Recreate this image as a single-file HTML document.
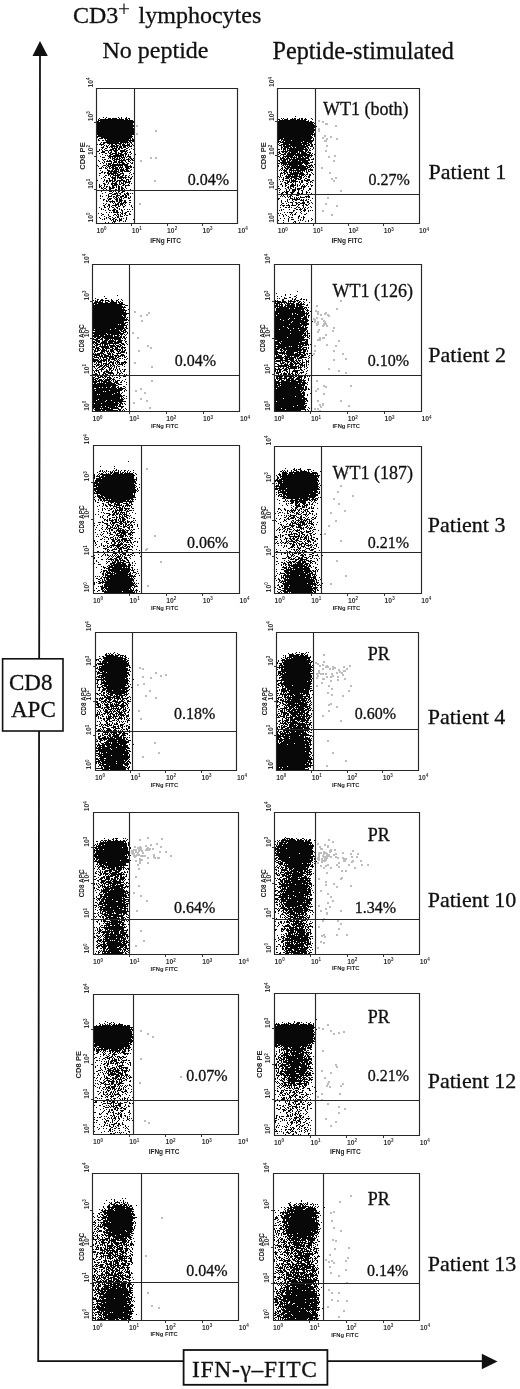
<!DOCTYPE html><html><head><meta charset="utf-8"><title>CD3+ lymphocytes</title><style>html,body{margin:0;padding:0;background:#fff;width:520px;height:1389px;overflow:hidden}svg{display:block;will-change:transform}</style></head><body><svg width="520" height="1389" viewBox="0 0 520 1389">
<rect width="520" height="1389" fill="#fff"/>
<path d="M40 55L38.2 1361.2H482" stroke="#111" stroke-width="1.8" fill="none"/>
<path d="M40 41L32.5 56H47.8Z" fill="#111"/>
<path d="M497.5 1361.5L481.8 1353.8V1369.2Z" fill="#111"/>
<rect x="2.6" y="658.8" width="60.4" height="72.2" fill="#fff" stroke="#111" stroke-width="1.6"/>
<rect x="183.6" y="1350" width="143.8" height="34.8" fill="#fff" stroke="#111" stroke-width="1.8"/>
<text x="9" y="690" style="font-family:'Liberation Serif',serif;stroke:#111;stroke-width:0.3px;font-size:23px" fill="#111">CD8</text>
<text x="11" y="716.5" style="font-family:'Liberation Serif',serif;stroke:#111;stroke-width:0.3px;font-size:23px" fill="#111">APC</text>
<text x="192" y="1377" textLength="125" lengthAdjust="spacing" style="font-family:'Liberation Serif',serif;stroke:#111;stroke-width:0.3px;font-size:23.5px" fill="#111">IFN-γ–FITC</text>
<text x="73" y="22.8" style="font-family:'Liberation Serif',serif;stroke:#111;stroke-width:0.3px;font-size:24px" fill="#111">CD3</text>
<path d="M119 8.7H129M124 3.4V13.9" stroke="#111" stroke-width="1.15"/>
<text x="138.6" y="22.8" style="font-family:'Liberation Serif',serif;stroke:#111;stroke-width:0.3px;font-size:24px" fill="#111">lymphocytes</text>
<text x="102.5" y="58.4" style="font-family:'Liberation Serif',serif;stroke:#111;stroke-width:0.3px;font-size:24px" fill="#111">No peptide</text>
<text x="272.5" y="59.3" style="font-family:'Liberation Serif',serif;stroke:#111;stroke-width:0.3px;font-size:24.2px" fill="#111">Peptide-stimulated</text>
<text x="428.6" y="179.0" style="font-family:'Liberation Serif',serif;stroke:#111;stroke-width:0.3px;font-size:22px" fill="#111">Patient 1</text>
<text x="428.3" y="362.3" style="font-family:'Liberation Serif',serif;stroke:#111;stroke-width:0.3px;font-size:22px" fill="#111">Patient 2</text>
<text x="427.8" y="532.3" style="font-family:'Liberation Serif',serif;stroke:#111;stroke-width:0.3px;font-size:22px" fill="#111">Patient 3</text>
<text x="427.7" y="724.0" style="font-family:'Liberation Serif',serif;stroke:#111;stroke-width:0.3px;font-size:22px" fill="#111">Patient 4</text>
<text x="427.7" y="907.4" style="font-family:'Liberation Serif',serif;stroke:#111;stroke-width:0.3px;font-size:22px" fill="#111">Patient 10</text>
<text x="427.7" y="1087.7" style="font-family:'Liberation Serif',serif;stroke:#111;stroke-width:0.3px;font-size:22px" fill="#111">Patient 12</text>
<text x="427.7" y="1271.0" style="font-family:'Liberation Serif',serif;stroke:#111;stroke-width:0.3px;font-size:22px" fill="#111">Patient 13</text>
<path d="M103 117h1v1h-1zm3 0h1v1h-1zm12 0h1v1h-1zm3 0h1v1h-1zm5 0h1v1h-1zm-27 1h1v1h-1zm6 0h1v1h-1zm3 0h3v1h-3zm4 0h5v1h-5zm7 0h1v1h-1zm2 0h1v1h-1zm4 0h2v1h-2zm3 0h2v1h-2zm-30 1h1v1h-1zm2 0h24v1h-24zm25 0h3v1h-3zm4 0h1v1h-1zm-31 1h35v1h-35zm-1 1h2v1h-2zm3 0h34v1h-34zm-3 1h37v1h-37zm0 1h36v1h-36zm0 1h36v1h-36zm0 1h37v1h-37zm0 1h38v1h-38zm0 1h36v1h-36zm0 1h38v1h-38zm0 1h37v1h-37zm0 1h37v1h-37zm0 1h37v1h-37zm0 1h37v1h-37zm0 1h37v1h-37zm0 1h37v1h-37zm1 1h34v1h-34zm-1 1h36v1h-36zm0 1h1v1h-1zm4 0h31v1h-31zm-2 1h4v1h-4zm5 0h27v1h-27zm28 0h1v1h-1zm-34 1h1v1h-1zm7 0h1v1h-1zm2 0h22v1h-22zm23 0h1v1h-1zm2 0h2v1h-2zm-34 1h2v1h-2zm4 0h2v1h-2zm3 0h29v1h-29zm1 1h22v1h-22zm23 0h2v1h-2zm3 0h2v1h-2zm-31 1h1v1h-1zm2 0h16v1h-16zm17 0h9v1h-9zm10 0h2v1h-2zm-30 1h1v1h-1zm3 0h2v1h-2zm4 0h15v1h-15zm16 0h1v1h-1zm2 0h1v1h-1zm2 0h1v1h-1zm2 0h1v1h-1zm2 0h1v1h-1zm-34 1h1v1h-1zm2 0h5v1h-5zm10 0h1v1h-1zm2 0h2v1h-2zm4 0h2v1h-2zm4 0h2v1h-2zm3 0h3v1h-3zm5 0h3v1h-3zm5 0h1v1h-1zm-31 1h1v1h-1zm3 0h1v1h-1zm2 0h1v1h-1zm2 0h1v1h-1zm3 0h4v1h-4zm5 0h3v1h-3zm4 0h1v1h-1zm2 0h8v1h-8zm9 0h1v1h-1zm2 0h1v1h-1zm-30 1h1v1h-1zm3 0h2v1h-2zm4 0h8v1h-8zm9 0h3v1h-3zm4 0h3v1h-3zm4 0h1v1h-1zm2 0h3v1h-3zm-28 1h3v1h-3zm6 0h1v1h-1zm2 0h1v1h-1zm2 0h2v1h-2zm3 0h1v1h-1zm2 0h2v1h-2zm3 0h3v1h-3zm4 0h3v1h-3zm5 0h1v1h-1zm-26 1h1v1h-1zm3 0h2v1h-2zm7 0h5v1h-5zm6 0h2v1h-2zm3 0h2v1h-2zm5 0h2v1h-2zm5 0h1v1h-1zm-32 1h1v1h-1zm2 0h1v1h-1zm3 0h1v1h-1zm6 0h4v1h-4zm5 0h2v1h-2zm3 0h2v1h-2zm6 0h2v1h-2zm5 0h1v1h-1zm4 0h1v1h-1zm-34 1h1v1h-1zm3 0h1v1h-1zm3 0h3v1h-3zm4 0h3v1h-3zm4 0h5v1h-5zm7 0h5v1h-5zm6 0h2v1h-2zm-29 1h2v1h-2zm5 0h3v1h-3zm6 0h1v1h-1zm3 0h1v1h-1zm3 0h3v1h-3zm6 0h7v1h-7zm10 0h1v1h-1zm-29 1h4v1h-4zm7 0h1v1h-1zm2 0h2v1h-2zm5 0h2v1h-2zm3 0h1v1h-1zm3 0h2v1h-2zm4 0h1v1h-1zm2 0h1v1h-1zm2 0h2v1h-2zm-30 1h1v1h-1zm6 0h2v1h-2zm4 0h2v1h-2zm3 0h5v1h-5zm6 0h4v1h-4zm6 0h3v1h-3zm7 0h1v1h-1zm-29 1h1v1h-1zm8 0h3v1h-3zm5 0h4v1h-4zm5 0h4v1h-4zm5 0h2v1h-2zm3 0h1v1h-1zm2 0h1v1h-1zm5 0h1v1h-1zm-30 1h1v1h-1zm2 0h1v1h-1zm2 0h2v1h-2zm4 0h11v1h-11zm12 0h1v1h-1zm3 0h1v1h-1zm-28 1h1v1h-1zm8 0h14v1h-14zm15 0h1v1h-1zm2 0h1v1h-1zm2 0h4v1h-4zm-25 1h3v1h-3zm7 0h2v1h-2zm3 0h1v1h-1zm2 0h2v1h-2zm3 0h1v1h-1zm2 0h1v1h-1zm2 0h4v1h-4zm5 0h1v1h-1zm3 0h2v1h-2zm-21 1h1v1h-1zm2 0h1v1h-1zm2 0h3v1h-3zm4 0h2v1h-2zm3 0h2v1h-2zm3 0h1v1h-1zm2 0h1v1h-1zm4 0h1v1h-1zm2 0h2v1h-2zm3 0h1v1h-1zm-31 1h1v1h-1zm2 0h2v1h-2zm8 0h1v1h-1zm2 0h6v1h-6zm7 0h1v1h-1zm2 0h2v1h-2zm3 0h4v1h-4zm5 0h2v1h-2zm-33 1h1v1h-1zm5 0h1v1h-1zm4 0h1v1h-1zm2 0h2v1h-2zm4 0h2v1h-2zm3 0h1v1h-1zm3 0h7v1h-7zm9 0h1v1h-1zm2 0h1v1h-1zm2 0h2v1h-2zm-33 1h1v1h-1zm5 0h1v1h-1zm2 0h6v1h-6zm8 0h3v1h-3zm4 0h2v1h-2zm3 0h2v1h-2zm4 0h1v1h-1zm3 0h2v1h-2zm-26 1h1v1h-1zm2 0h1v1h-1zm7 0h1v1h-1zm2 0h4v1h-4zm5 0h6v1h-6zm8 0h1v1h-1zm4 0h1v1h-1zm2 0h1v1h-1zm-32 1h1v1h-1zm3 0h1v1h-1zm3 0h1v1h-1zm2 0h4v1h-4zm5 0h1v1h-1zm4 0h1v1h-1zm2 0h1v1h-1zm3 0h3v1h-3zm5 0h2v1h-2zm4 0h2v1h-2zm-25 1h1v1h-1zm2 0h3v1h-3zm4 0h16v1h-16zm-15 1h1v1h-1zm6 0h3v1h-3zm4 0h2v1h-2zm3 0h13v1h-13zm14 0h4v1h-4zm6 0h1v1h-1zm-32 1h1v1h-1zm4 0h1v1h-1zm4 0h1v1h-1zm2 0h3v1h-3zm4 0h4v1h-4zm6 0h1v1h-1zm2 0h1v1h-1zm2 0h1v1h-1zm3 0h7v1h-7zm-24 1h1v1h-1zm2 0h1v1h-1zm2 0h1v1h-1zm2 0h1v1h-1zm2 0h1v1h-1zm2 0h3v1h-3zm4 0h3v1h-3zm4 0h4v1h-4zm6 0h4v1h-4zm5 0h2v1h-2zm3 0h1v1h-1zm-34 1h3v1h-3zm6 0h2v1h-2zm4 0h2v1h-2zm3 0h6v1h-6zm7 0h1v1h-1zm2 0h1v1h-1zm2 0h1v1h-1zm3 0h4v1h-4zm-19 1h1v1h-1zm5 0h2v1h-2zm3 0h4v1h-4zm5 0h4v1h-4zm5 0h3v1h-3zm6 0h1v1h-1zm-31 1h1v1h-1zm7 0h3v1h-3zm4 0h2v1h-2zm3 0h3v1h-3zm4 0h1v1h-1zm2 0h5v1h-5zm6 0h3v1h-3zm4 0h1v1h-1zm-28 1h1v1h-1zm6 0h11v1h-11zm12 0h3v1h-3zm4 0h6v1h-6zm-23 1h2v1h-2zm3 0h2v1h-2zm3 0h2v1h-2zm3 0h2v1h-2zm3 0h4v1h-4zm5 0h2v1h-2zm4 0h1v1h-1zm8 0h1v1h-1zm-31 1h2v1h-2zm5 0h1v1h-1zm3 0h11v1h-11zm13 0h4v1h-4zm9 0h1v1h-1zm4 0h1v1h-1zm-25 1h2v1h-2zm3 0h3v1h-3zm4 0h1v1h-1zm2 0h4v1h-4zm6 0h1v1h-1zm8 0h1v1h-1zm-32 1h1v1h-1zm6 0h2v1h-2zm3 0h1v1h-1zm2 0h1v1h-1zm3 0h7v1h-7zm9 0h2v1h-2zm3 0h2v1h-2zm4 0h1v1h-1zm-25 1h1v1h-1zm6 0h1v1h-1zm2 0h1v1h-1zm3 0h1v1h-1zm2 0h2v1h-2zm3 0h3v1h-3zm5 0h1v1h-1zm3 0h1v1h-1zm4 0h1v1h-1zm-29 1h1v1h-1zm2 0h1v1h-1zm6 0h5v1h-5zm6 0h10v1h-10zm11 0h2v1h-2zm3 0h1v1h-1zm-30 1h1v1h-1zm7 0h2v1h-2zm4 0h4v1h-4zm5 0h1v1h-1zm2 0h3v1h-3zm4 0h1v1h-1zm2 0h1v1h-1zm5 0h2v1h-2zm-26 1h1v1h-1zm5 0h1v1h-1zm3 0h1v1h-1zm2 0h2v1h-2zm7 0h2v1h-2zm5 0h3v1h-3zm4 0h1v1h-1zm-33 1h1v1h-1zm7 0h1v1h-1zm2 0h2v1h-2zm3 0h4v1h-4zm5 0h2v1h-2zm3 0h8v1h-8zm9 0h1v1h-1zm2 0h1v1h-1zm-25 1h1v1h-1zm3 0h2v1h-2zm3 0h2v1h-2zm3 0h3v1h-3zm4 0h2v1h-2zm3 0h2v1h-2zm4 0h4v1h-4zm5 0h3v1h-3zm-22 1h1v1h-1zm2 0h1v1h-1zm4 0h1v1h-1zm3 0h2v1h-2zm4 0h1v1h-1zm2 0h1v1h-1zm2 0h1v1h-1zm2 0h5v1h-5zm-22 1h2v1h-2zm5 0h1v1h-1zm3 0h6v1h-6zm8 0h1v1h-1zm2 0h3v1h-3zm4 0h1v1h-1zm4 0h1v1h-1zm2 0h1v1h-1zm-32 1h1v1h-1zm5 0h2v1h-2zm3 0h1v1h-1zm4 0h2v1h-2zm3 0h4v1h-4zm5 0h2v1h-2zm4 0h2v1h-2zm5 0h1v1h-1zm-29 1h1v1h-1zm2 0h1v1h-1zm3 0h1v1h-1zm8 0h5v1h-5zm6 0h1v1h-1zm4 0h2v1h-2zm3 0h5v1h-5zm-26 1h2v1h-2zm5 0h1v1h-1zm2 0h2v1h-2zm3 0h1v1h-1zm3 0h2v1h-2zm4 0h1v1h-1zm2 0h2v1h-2zm3 0h1v1h-1zm4 0h1v1h-1zm-26 1h1v1h-1zm2 0h1v1h-1zm2 0h1v1h-1zm3 0h1v1h-1zm3 0h2v1h-2zm3 0h3v1h-3zm4 0h1v1h-1zm2 0h2v1h-2zm3 0h2v1h-2zm4 0h1v1h-1zm-24 1h2v1h-2zm3 0h2v1h-2zm5 0h5v1h-5zm9 0h2v1h-2zm3 0h3v1h-3zm5 0h1v1h-1zm-23 1h1v1h-1zm3 0h1v1h-1zm3 0h2v1h-2zm6 0h2v1h-2zm3 0h2v1h-2zm3 0h2v1h-2zm3 0h1v1h-1zm6 0h1v1h-1zm-33 1h1v1h-1zm9 0h3v1h-3zm7 0h5v1h-5zm8 0h1v1h-1zm2 0h3v1h-3zm4 0h1v1h-1zm2 0h1v1h-1zm3 0h1v1h-1zm-31 1h1v1h-1zm8 0h3v1h-3zm4 0h1v1h-1zm2 0h1v1h-1zm3 0h2v1h-2zm4 0h3v1h-3zm-17 1h1v1h-1zm7 0h1v1h-1zm4 0h1v1h-1zm2 0h1v1h-1zm3 0h2v1h-2zm6 0h1v1h-1zm-25 1h1v1h-1zm7 0h3v1h-3zm5 0h4v1h-4zm5 0h2v1h-2zm5 0h1v1h-1zm2 0h3v1h-3zm4 0h1v1h-1zm2 0h1v1h-1zm-24 1h1v1h-1zm4 0h4v1h-4zm5 0h1v1h-1zm3 0h1v1h-1zm4 0h2v1h-2zm3 0h2v1h-2zm-27 1h1v1h-1zm6 0h1v1h-1zm2 0h1v1h-1zm3 0h1v1h-1zm5 0h4v1h-4zm6 0h2v1h-2zm3 0h2v1h-2zm3 0h1v1h-1zm-28 1h1v1h-1zm2 0h1v1h-1zm6 0h4v1h-4zm5 0h2v1h-2zm3 0h2v1h-2zm4 0h4v1h-4zm5 0h2v1h-2zm5 0h1v1h-1zm-22 1h1v1h-1zm5 0h1v1h-1zm2 0h2v1h-2zm3 0h1v1h-1zm2 0h2v1h-2zm4 0h3v1h-3zm4 0h1v1h-1zm2 0h1v1h-1zm-30 1h1v1h-1zm7 0h1v1h-1zm2 0h3v1h-3zm5 0h1v1h-1zm2 0h2v1h-2zm3 0h1v1h-1zm2 0h1v1h-1zm2 0h1v1h-1zm5 0h2v1h-2zm-25 1h2v1h-2zm5 0h3v1h-3zm7 0h3v1h-3zm4 0h3v1h-3zm-16 1h1v1h-1zm3 0h1v1h-1zm2 0h1v1h-1zm4 0h1v1h-1zm4 0h2v1h-2zm3 0h4v1h-4zm5 0h2v1h-2zm5 0h2v1h-2zm-23 1h2v1h-2zm3 0h6v1h-6zm7 0h2v1h-2zm3 0h3v1h-3zm5 0h2v1h-2zm-14 1h1v1h-1zm2 0h1v1h-1zm2 0h1v1h-1zm4 0h2v1h-2zm3 0h1v1h-1zm2 0h4v1h-4zm6 0h2v1h-2zm-26 1h1v1h-1zm3 0h1v1h-1zm7 0h1v1h-1zm2 0h1v1h-1zm2 0h2v1h-2zm3 0h4v1h-4zm5 0h1v1h-1zm-20 1h1v1h-1zm3 0h2v1h-2zm7 0h4v1h-4zm5 0h3v1h-3zm4 0h1v1h-1zm5 0h1v1h-1zm-26 1h2v1h-2zm5 0h2v1h-2zm4 0h5v1h-5zm6 0h1v1h-1zm2 0h1v1h-1zm2 0h1v1h-1zm3 0h1v1h-1zm6 0h1v1h-1zm-27 1h1v1h-1zm3 0h1v1h-1zm2 0h1v1h-1zm2 0h1v1h-1zm4 0h1v1h-1zm3 0h2v1h-2zm5 0h2v1h-2zm8 0h1v1h-1zm-32 1h1v1h-1zm5 0h2v1h-2zm5 0h1v1h-1zm3 0h2v1h-2zm4 0h2v1h-2zm7 0h1v1h-1zm9 0h1v1h-1zm-31 1h1v1h-1zm7 0h1v1h-1zm6 0h1v1h-1zm3 0h1v1h-1zm2 0h1v1h-1zm-18 1h1v1h-1zm2 0h1v1h-1zm5 0h1v1h-1zm5 0h3v1h-3zm6 0h1v1h-1zm2 0h1v1h-1zm3 0h1v1h-1zm3 0h1v1h-1zm2 0h1v1h-1zm3 0h1v1h-1zm-27 1h1v1h-1zm4 0h2v1h-2zm3 0h3v1h-3zm4 0h2v1h-2zm5 0h2v1h-2zm-8 1h2v1h-2zm3 0h2v1h-2zm6 0h1v1h-1zm5 0h2v1h-2zm3 0h1v1h-1zm-24 1h1v1h-1zm3 0h1v1h-1zm2 0h1v1h-1zm2 0h6v1h-6zm7 0h1v1h-1zm2 0h1v1h-1zm3 0h2v1h-2zm-27 1h1v1h-1zm3 0h1v1h-1zm16 0h1v1h-1zm4 0h2v1h-2zm3 0h2v1h-2zm5 0h1v1h-1zm-27 1h2v1h-2zm6 0h1v1h-1zm6 0h2v1h-2zm3 0h2v1h-2zm3 0h1v1h-1zm2 0h1v1h-1zm3 0h1v1h-1zm4 0h2v1h-2zm-28 1h1v1h-1zm7 0h1v1h-1zm5 0h1v1h-1zm3 0h1v1h-1zm2 0h1v1h-1zm2 0h1v1h-1zm4 0h1v1h-1zm2 0h2v1h-2zm-22 1h1v1h-1zm5 0h2v1h-2zm8 0h2v1h-2zm3 0h3v1h-3zm-21 1h1v1h-1zm7 0h1v1h-1zm2 0h1v1h-1zm4 0h1v1h-1zm3 0h1v1h-1zm2 0h2v1h-2zm9 0h1v1h-1zm-26 1h1v1h-1zm4 0h1v1h-1zm2 0h1v1h-1zm3 0h2v1h-2zm4 0h2v1h-2zm6 0h1v1h-1zm2 0h1v1h-1zm2 0h1v1h-1zm3 0h1v1h-1zm-24 1h1v1h-1zm2 0h1v1h-1zm6 0h1v1h-1zm2 0h2v1h-2zm3 0h2v1h-2zm4 0h3v1h-3zm7 0h1v1h-1zm7 0h1v1h-1zm-22 1h1v1h-1zm2 0h1v1h-1zm2 0h1v1h-1zm2 0h1v1h-1zm2 0h3v1h-3zm6 0h1v1h-1zm-12 1h3v1h-3zm6 0h1v1h-1zm4 0h1v1h-1zm2 0h1v1h-1zm-20 1h1v1h-1zm3 0h1v1h-1zm4 0h1v1h-1zm2 0h1v1h-1z" fill="#080808"/><path d="M136 125h2v2h-2zM136 133h2v2h-2zM155 130h2v2h-2zM140 160h2v2h-2zM150 157h2v2h-2zM155 157h2v2h-2zM154 180h2v2h-2zM139 203h2v2h-2z" fill="#bdbdbd"/>
<path d="M96.5 88.5H237.5V223.5H96.5ZM134.5 88.5V223.5M96.5 190.5H237.5" stroke="#262626" stroke-width="1.15" fill="none"/>
<path d="M94.0 189.5h2.5M131.5 223.5v2.5M94.0 156.5h2.5M167.5 223.5v2.5M94.0 122.5h2.5M202.5 223.5v2.5" stroke="#333" stroke-width="1" fill="none"/>
<text transform="translate(92.9 222.5) rotate(-90)" style="font-family:'Liberation Sans',sans-serif;font-size:6.8px;font-weight:bold" fill="#333">10<tspan dy="-2.6" font-size="4.5px">0</tspan></text>
<text x="96.5" y="233" style="font-family:'Liberation Sans',sans-serif;font-size:6.8px;font-weight:bold" fill="#333">10<tspan dy="-2.6" font-size="4.5px">0</tspan></text>
<text transform="translate(92.9 188.8) rotate(-90)" style="font-family:'Liberation Sans',sans-serif;font-size:6.8px;font-weight:bold" fill="#333">10<tspan dy="-2.6" font-size="4.5px">1</tspan></text>
<text x="131.8" y="233" style="font-family:'Liberation Sans',sans-serif;font-size:6.8px;font-weight:bold" fill="#333">10<tspan dy="-2.6" font-size="4.5px">1</tspan></text>
<text transform="translate(92.9 155) rotate(-90)" style="font-family:'Liberation Sans',sans-serif;font-size:6.8px;font-weight:bold" fill="#333">10<tspan dy="-2.6" font-size="4.5px">2</tspan></text>
<text x="167.1" y="233" style="font-family:'Liberation Sans',sans-serif;font-size:6.8px;font-weight:bold" fill="#333">10<tspan dy="-2.6" font-size="4.5px">2</tspan></text>
<text transform="translate(92.9 121.2) rotate(-90)" style="font-family:'Liberation Sans',sans-serif;font-size:6.8px;font-weight:bold" fill="#333">10<tspan dy="-2.6" font-size="4.5px">3</tspan></text>
<text x="202.4" y="233" style="font-family:'Liberation Sans',sans-serif;font-size:6.8px;font-weight:bold" fill="#333">10<tspan dy="-2.6" font-size="4.5px">3</tspan></text>
<text transform="translate(92.9 87.5) rotate(-90)" style="font-family:'Liberation Sans',sans-serif;font-size:6.8px;font-weight:bold" fill="#333">10<tspan dy="-2.6" font-size="4.5px">4</tspan></text>
<text x="237.7" y="233" style="font-family:'Liberation Sans',sans-serif;font-size:6.8px;font-weight:bold" fill="#333">10<tspan dy="-2.6" font-size="4.5px">4</tspan></text>
<text transform="translate(84.9 156) rotate(-90)" text-anchor="middle" style="font-family:'Liberation Sans',sans-serif;font-size:7.6px;font-weight:bold" fill="#222">CD8 PE</text>
<text x="165.6" y="242.5" text-anchor="middle" style="font-family:'Liberation Sans',sans-serif;font-size:6.5px;font-weight:bold" fill="#222">IFNg FITC</text>
<text x="187.7" y="185.4" style="font-family:'Liberation Serif',serif;stroke:#111;stroke-width:0.3px;font-size:16px" fill="#111">0.04%</text>
<path d="M295 116h1v1h-1zm-14 2h1v1h-1zm2 0h1v1h-1zm4 0h1v1h-1zm5 0h1v1h-1zm2 0h2v1h-2zm5 0h1v1h-1zm2 0h2v1h-2zm4 0h1v1h-1zm6 0h1v1h-1zm-33 1h2v1h-2zm4 0h1v1h-1zm2 0h4v1h-4zm6 0h6v1h-6zm7 0h3v1h-3zm4 0h2v1h-2zm3 0h3v1h-3zm8 0h1v1h-1zm-33 1h27v1h-27zm29 0h1v1h-1zm-30 1h31v1h-31zm32 0h2v1h-2zm-32 1h36v1h-36zm0 1h35v1h-35zm36 0h1v1h-1zm-36 1h36v1h-36zm0 1h38v1h-38zm0 1h37v1h-37zm38 0h1v1h-1zm-38 1h37v1h-37zm0 1h36v1h-36zm0 1h37v1h-37zm0 1h37v1h-37zm0 1h36v1h-36zm0 1h36v1h-36zm0 1h35v1h-35zm36 0h2v1h-2zm-36 1h37v1h-37zm0 1h33v1h-33zm34 0h1v1h-1zm2 0h1v1h-1zm-36 1h34v1h-34zm36 0h1v1h-1zm-36 1h35v1h-35zm0 1h5v1h-5zm6 0h28v1h-28zm29 0h1v1h-1zm-35 1h2v1h-2zm3 0h30v1h-30zm32 0h1v1h-1zm-35 1h1v1h-1zm3 0h1v1h-1zm2 0h8v1h-8zm9 0h22v1h-22zm-14 1h3v1h-3zm4 0h2v1h-2zm3 0h18v1h-18zm19 0h9v1h-9zm-26 1h1v1h-1zm2 0h21v1h-21zm22 0h5v1h-5zm6 0h4v1h-4zm-29 1h1v1h-1zm4 0h26v1h-26zm27 0h2v1h-2zm-32 1h1v1h-1zm3 0h8v1h-8zm9 0h12v1h-12zm13 0h4v1h-4zm5 0h2v1h-2zm3 0h2v1h-2zm3 0h1v1h-1zm-35 1h3v1h-3zm4 0h2v1h-2zm3 0h19v1h-19zm20 0h4v1h-4zm5 0h2v1h-2zm-30 1h1v1h-1zm2 0h8v1h-8zm9 0h16v1h-16zm18 0h3v1h-3zm-29 1h2v1h-2zm3 0h5v1h-5zm6 0h2v1h-2zm3 0h2v1h-2zm3 0h10v1h-10zm11 0h2v1h-2zm6 0h1v1h-1zm-32 1h1v1h-1zm2 0h3v1h-3zm4 0h17v1h-17zm18 0h2v1h-2zm3 0h1v1h-1zm2 0h1v1h-1zm3 0h1v1h-1zm-35 1h2v1h-2zm3 0h1v1h-1zm2 0h3v1h-3zm4 0h1v1h-1zm2 0h19v1h-19zm20 0h1v1h-1zm3 0h1v1h-1zm-29 1h1v1h-1zm2 0h1v1h-1zm2 0h16v1h-16zm18 0h3v1h-3zm4 0h2v1h-2zm-30 1h1v1h-1zm2 0h7v1h-7zm8 0h9v1h-9zm10 0h5v1h-5zm6 0h2v1h-2zm3 0h1v1h-1zm-30 1h2v1h-2zm4 0h2v1h-2zm3 0h2v1h-2zm3 0h2v1h-2zm3 0h7v1h-7zm8 0h1v1h-1zm2 0h5v1h-5zm6 0h4v1h-4zm-28 1h2v1h-2zm5 0h2v1h-2zm3 0h9v1h-9zm10 0h3v1h-3zm4 0h6v1h-6zm8 0h2v1h-2zm3 0h1v1h-1zm-34 1h1v1h-1zm3 0h5v1h-5zm6 0h23v1h-23zm24 0h1v1h-1zm3 0h1v1h-1zm-34 1h1v1h-1zm3 0h1v1h-1zm3 0h8v1h-8zm9 0h18v1h-18zm-17 1h2v1h-2zm5 0h10v1h-10zm11 0h1v1h-1zm2 0h1v1h-1zm2 0h5v1h-5zm6 0h2v1h-2zm3 0h3v1h-3zm4 0h1v1h-1zm-31 1h1v1h-1zm2 0h2v1h-2zm3 0h1v1h-1zm2 0h2v1h-2zm3 0h7v1h-7zm8 0h3v1h-3zm4 0h2v1h-2zm3 0h4v1h-4zm5 0h1v1h-1zm-30 1h5v1h-5zm6 0h4v1h-4zm5 0h1v1h-1zm2 0h2v1h-2zm3 0h13v1h-13zm17 0h1v1h-1zm-33 1h2v1h-2zm3 0h5v1h-5zm6 0h17v1h-17zm19 0h2v1h-2zm3 0h3v1h-3zm-33 1h2v1h-2zm3 0h5v1h-5zm6 0h1v1h-1zm2 0h2v1h-2zm3 0h6v1h-6zm7 0h11v1h-11zm-20 1h1v1h-1zm3 0h4v1h-4zm5 0h3v1h-3zm4 0h10v1h-10zm11 0h6v1h-6zm10 0h1v1h-1zm-32 1h29v1h-29zm30 0h3v1h-3zm-32 1h2v1h-2zm3 0h6v1h-6zm7 0h15v1h-15zm16 0h6v1h-6zm-23 1h1v1h-1zm2 0h19v1h-19zm22 0h3v1h-3zm6 0h1v1h-1zm3 0h1v1h-1zm-36 1h1v1h-1zm4 0h2v1h-2zm3 0h1v1h-1zm2 0h1v1h-1zm2 0h9v1h-9zm10 0h5v1h-5zm7 0h1v1h-1zm2 0h5v1h-5zm-30 1h1v1h-1zm3 0h1v1h-1zm3 0h1v1h-1zm2 0h4v1h-4zm5 0h17v1h-17zm18 0h2v1h-2zm3 0h1v1h-1zm-30 1h1v1h-1zm2 0h2v1h-2zm3 0h19v1h-19zm20 0h3v1h-3zm4 0h1v1h-1zm2 0h1v1h-1zm-32 1h2v1h-2zm4 0h4v1h-4zm5 0h18v1h-18zm20 0h1v1h-1zm-30 1h1v1h-1zm2 0h1v1h-1zm2 0h1v1h-1zm2 0h2v1h-2zm3 0h3v1h-3zm4 0h1v1h-1zm3 0h3v1h-3zm4 0h7v1h-7zm8 0h5v1h-5zm-29 1h1v1h-1zm2 0h1v1h-1zm2 0h4v1h-4zm6 0h16v1h-16zm17 0h1v1h-1zm2 0h1v1h-1zm2 0h3v1h-3zm-26 1h3v1h-3zm5 0h1v1h-1zm2 0h1v1h-1zm2 0h1v1h-1zm2 0h1v1h-1zm2 0h4v1h-4zm5 0h1v1h-1zm2 0h1v1h-1zm2 0h1v1h-1zm2 0h2v1h-2zm-27 1h1v1h-1zm2 0h2v1h-2zm3 0h2v1h-2zm3 0h3v1h-3zm4 0h6v1h-6zm7 0h3v1h-3zm6 0h2v1h-2zm5 0h1v1h-1zm-31 1h3v1h-3zm4 0h2v1h-2zm3 0h1v1h-1zm3 0h14v1h-14zm17 0h1v1h-1zm5 0h1v1h-1zm-32 1h1v1h-1zm4 0h1v1h-1zm3 0h11v1h-11zm12 0h6v1h-6zm7 0h2v1h-2zm3 0h2v1h-2zm4 0h1v1h-1zm-33 1h1v1h-1zm2 0h1v1h-1zm4 0h1v1h-1zm2 0h3v1h-3zm4 0h1v1h-1zm2 0h4v1h-4zm5 0h1v1h-1zm2 0h3v1h-3zm4 0h1v1h-1zm4 0h2v1h-2zm-31 1h1v1h-1zm2 0h1v1h-1zm5 0h17v1h-17zm19 0h1v1h-1zm2 0h1v1h-1zm2 0h2v1h-2zm-29 1h1v1h-1zm2 0h1v1h-1zm2 0h1v1h-1zm3 0h4v1h-4zm5 0h6v1h-6zm8 0h3v1h-3zm4 0h1v1h-1zm5 0h2v1h-2zm-25 1h1v1h-1zm2 0h4v1h-4zm5 0h2v1h-2zm4 0h5v1h-5zm6 0h2v1h-2zm5 0h2v1h-2zm-26 1h1v1h-1zm3 0h2v1h-2zm7 0h1v1h-1zm2 0h1v1h-1zm2 0h1v1h-1zm2 0h2v1h-2zm3 0h3v1h-3zm6 0h1v1h-1zm3 0h3v1h-3zm-24 1h1v1h-1zm2 0h3v1h-3zm4 0h1v1h-1zm2 0h5v1h-5zm10 0h2v1h-2zm3 0h6v1h-6zm8 0h2v1h-2zm-32 1h1v1h-1zm2 0h1v1h-1zm5 0h3v1h-3zm4 0h7v1h-7zm8 0h1v1h-1zm2 0h2v1h-2zm5 0h2v1h-2zm4 0h2v1h-2zm-26 1h2v1h-2zm3 0h2v1h-2zm3 0h2v1h-2zm3 0h1v1h-1zm2 0h1v1h-1zm4 0h1v1h-1zm2 0h2v1h-2zm7 0h1v1h-1zm2 0h1v1h-1zm2 0h1v1h-1zm-31 1h1v1h-1zm4 0h3v1h-3zm7 0h1v1h-1zm3 0h1v1h-1zm5 0h1v1h-1zm6 0h2v1h-2zm-26 1h2v1h-2zm5 0h1v1h-1zm3 0h1v1h-1zm3 0h3v1h-3zm4 0h1v1h-1zm2 0h1v1h-1zm3 0h1v1h-1zm3 0h1v1h-1zm4 0h1v1h-1zm3 0h1v1h-1zm-28 1h1v1h-1zm3 0h2v1h-2zm5 0h6v1h-6zm7 0h1v1h-1zm2 0h1v1h-1zm3 0h1v1h-1zm2 0h1v1h-1zm2 0h1v1h-1zm5 0h2v1h-2zm-33 1h1v1h-1zm4 0h1v1h-1zm3 0h1v1h-1zm3 0h1v1h-1zm2 0h4v1h-4zm7 0h1v1h-1zm4 0h5v1h-5zm7 0h1v1h-1zm3 0h1v1h-1zm-24 1h2v1h-2zm3 0h1v1h-1zm3 0h1v1h-1zm2 0h1v1h-1zm6 0h1v1h-1zm2 0h2v1h-2zm-25 1h2v1h-2zm7 0h1v1h-1zm3 0h1v1h-1zm2 0h2v1h-2zm5 0h1v1h-1zm2 0h5v1h-5zm6 0h1v1h-1zm6 0h2v1h-2zm-29 1h1v1h-1zm6 0h1v1h-1zm3 0h1v1h-1zm3 0h4v1h-4zm5 0h3v1h-3zm6 0h1v1h-1zm6 0h2v1h-2zm-30 1h1v1h-1zm7 0h1v1h-1zm3 0h1v1h-1zm3 0h4v1h-4zm6 0h1v1h-1zm3 0h2v1h-2zm7 0h1v1h-1zm-24 1h1v1h-1zm2 0h3v1h-3zm6 0h3v1h-3zm6 0h1v1h-1zm4 0h1v1h-1zm4 0h1v1h-1zm-27 1h1v1h-1zm3 0h2v1h-2zm3 0h3v1h-3zm5 0h4v1h-4zm7 0h2v1h-2zm5 0h1v1h-1zm4 0h2v1h-2zm3 0h1v1h-1zm-28 1h2v1h-2zm5 0h2v1h-2zm5 0h2v1h-2zm6 0h3v1h-3zm4 0h2v1h-2zm5 0h1v1h-1zm5 0h1v1h-1zm-26 1h1v1h-1zm5 0h2v1h-2zm4 0h2v1h-2zm3 0h4v1h-4zm6 0h1v1h-1zm4 0h3v1h-3zm5 0h1v1h-1zm-31 1h1v1h-1zm2 0h1v1h-1zm4 0h1v1h-1zm3 0h2v1h-2zm6 0h3v1h-3zm12 0h1v1h-1zm-28 1h1v1h-1zm2 0h1v1h-1zm2 0h1v1h-1zm3 0h1v1h-1zm2 0h2v1h-2zm3 0h1v1h-1zm8 0h1v1h-1zm5 0h5v1h-5zm-20 1h1v1h-1zm3 0h1v1h-1zm2 0h1v1h-1zm4 0h1v1h-1zm2 0h1v1h-1zm2 0h1v1h-1zm2 0h5v1h-5zm6 0h1v1h-1zm2 0h2v1h-2zm-30 1h2v1h-2zm12 0h3v1h-3zm4 0h1v1h-1zm2 0h2v1h-2zm3 0h1v1h-1zm13 0h1v1h-1zm-34 1h1v1h-1zm9 0h1v1h-1zm2 0h1v1h-1zm3 0h8v1h-8zm9 0h1v1h-1zm2 0h1v1h-1zm3 0h1v1h-1zm2 0h1v1h-1zm-27 1h1v1h-1zm6 0h1v1h-1zm5 0h1v1h-1zm3 0h2v1h-2zm5 0h4v1h-4zm5 0h2v1h-2zm5 0h1v1h-1zm-29 1h1v1h-1zm4 0h1v1h-1zm2 0h1v1h-1zm6 0h1v1h-1zm10 0h1v1h-1zm4 0h2v1h-2zm-26 1h1v1h-1zm7 0h1v1h-1zm2 0h3v1h-3zm5 0h2v1h-2zm3 0h2v1h-2zm4 0h3v1h-3zm5 0h2v1h-2zm4 0h1v1h-1zm-29 1h2v1h-2zm4 0h1v1h-1zm6 0h1v1h-1zm4 0h2v1h-2zm4 0h5v1h-5zm9 0h1v1h-1zm3 0h1v1h-1zm-31 1h1v1h-1zm7 0h1v1h-1zm4 0h1v1h-1zm4 0h1v1h-1zm2 0h2v1h-2zm5 0h1v1h-1zm2 0h2v1h-2zm3 0h1v1h-1zm-28 1h1v1h-1zm2 0h3v1h-3zm4 0h4v1h-4zm5 0h5v1h-5zm7 0h1v1h-1zm4 0h2v1h-2zm4 0h2v1h-2zm-23 1h1v1h-1zm6 0h1v1h-1zm8 0h1v1h-1zm6 0h1v1h-1zm7 0h1v1h-1zm-30 1h1v1h-1zm5 0h2v1h-2zm3 0h2v1h-2zm3 0h1v1h-1zm5 0h1v1h-1zm2 0h2v1h-2zm5 0h1v1h-1zm2 0h1v1h-1zm3 0h1v1h-1zm3 0h1v1h-1zm-17 1h2v1h-2zm6 0h1v1h-1zm2 0h1v1h-1zm2 0h1v1h-1zm3 0h1v1h-1zm-26 1h1v1h-1zm2 0h1v1h-1zm6 0h1v1h-1zm7 0h2v1h-2zm3 0h3v1h-3zm5 0h2v1h-2zm-25 1h1v1h-1zm2 0h1v1h-1zm12 0h2v1h-2zm7 0h1v1h-1zm3 0h3v1h-3zm5 0h1v1h-1zm2 0h1v1h-1zm2 0h1v1h-1zm-19 1h1v1h-1zm8 0h1v1h-1zm3 0h1v1h-1zm4 0h1v1h-1zm-24 1h1v1h-1zm3 0h1v1h-1zm2 0h4v1h-4zm7 0h1v1h-1zm4 0h1v1h-1zm-22 1h1v1h-1zm2 0h1v1h-1zm11 0h1v1h-1zm4 0h1v1h-1zm6 0h1v1h-1zm5 0h1v1h-1zm-24 1h1v1h-1zm3 0h1v1h-1zm5 0h1v1h-1zm2 0h1v1h-1zm2 0h2v1h-2zm10 0h2v1h-2zm-25 1h1v1h-1zm4 0h1v1h-1zm3 0h1v1h-1zm6 0h1v1h-1zm7 0h1v1h-1zm-16 1h1v1h-1zm5 0h1v1h-1zm10 0h2v1h-2zm5 0h1v1h-1zm-14 1h1v1h-1zm2 0h2v1h-2zm7 0h1v1h-1zm3 0h1v1h-1zm2 0h2v1h-2zm-23 1h1v1h-1zm4 0h1v1h-1zm4 0h1v1h-1zm10 0h1v1h-1zm5 0h1v1h-1zm8 0h1v1h-1zm-23 1h1v1h-1zm3 0h3v1h-3zm9 0h1v1h-1zm3 0h1v1h-1zm9 0h1v1h-1zm-34 1h1v1h-1zm5 0h1v1h-1zm5 0h1v1h-1zm10 0h1v1h-1zm2 0h1v1h-1zm2 0h1v1h-1zm6 0h1v1h-1zm3 0h1v1h-1zm-23 1h1v1h-1zm6 0h2v1h-2zm11 0h1v1h-1zm3 0h1v1h-1zm-25 1h1v1h-1zm10 0h1v1h-1zm2 0h1v1h-1zm4 0h1v1h-1z" fill="#080808"/><path d="M318 120h2v2h-2zM322 121h2v2h-2zM325 123h2v2h-2zM326 123h2v2h-2zM335 125h2v2h-2zM318 128h2v2h-2zM318 130h2v2h-2zM324 135h2v2h-2zM330 136h2v2h-2zM322 137h2v2h-2zM326 138h2v2h-2zM336 138h2v2h-2zM324 140h2v2h-2zM325 140h2v2h-2zM326 145h2v2h-2zM325 150h2v2h-2zM334 155h2v2h-2zM328 156h2v2h-2zM333 160h2v2h-2zM321 167h2v2h-2zM329 172h2v2h-2zM335 177h2v2h-2zM331 178h2v2h-2zM333 180h2v2h-2zM340 190h2v2h-2zM327 197h2v2h-2zM325 203h2v2h-2zM336 205h2v2h-2zM322 210h2v2h-2zM331 214h2v2h-2z" fill="#bdbdbd"/>
<path d="M277.5 88.5H419.5V223.5H277.5ZM315.5 88.5V223.5M277.5 194.5H419.5" stroke="#262626" stroke-width="1.15" fill="none"/>
<path d="M275.0 189.5h2.5M313.5 223.5v2.5M275.0 155.5h2.5M348.5 223.5v2.5M275.0 121.5h2.5M383.5 223.5v2.5" stroke="#333" stroke-width="1" fill="none"/>
<text transform="translate(274.1 222.8) rotate(-90)" style="font-family:'Liberation Sans',sans-serif;font-size:6.8px;font-weight:bold" fill="#333">10<tspan dy="-2.6" font-size="4.5px">0</tspan></text>
<text x="277.7" y="233.3" style="font-family:'Liberation Sans',sans-serif;font-size:6.8px;font-weight:bold" fill="#333">10<tspan dy="-2.6" font-size="4.5px">0</tspan></text>
<text transform="translate(274.1 188.9) rotate(-90)" style="font-family:'Liberation Sans',sans-serif;font-size:6.8px;font-weight:bold" fill="#333">10<tspan dy="-2.6" font-size="4.5px">1</tspan></text>
<text x="313" y="233.3" style="font-family:'Liberation Sans',sans-serif;font-size:6.8px;font-weight:bold" fill="#333">10<tspan dy="-2.6" font-size="4.5px">1</tspan></text>
<text transform="translate(274.1 154.9) rotate(-90)" style="font-family:'Liberation Sans',sans-serif;font-size:6.8px;font-weight:bold" fill="#333">10<tspan dy="-2.6" font-size="4.5px">2</tspan></text>
<text x="348.4" y="233.3" style="font-family:'Liberation Sans',sans-serif;font-size:6.8px;font-weight:bold" fill="#333">10<tspan dy="-2.6" font-size="4.5px">2</tspan></text>
<text transform="translate(274.1 121) rotate(-90)" style="font-family:'Liberation Sans',sans-serif;font-size:6.8px;font-weight:bold" fill="#333">10<tspan dy="-2.6" font-size="4.5px">3</tspan></text>
<text x="383.7" y="233.3" style="font-family:'Liberation Sans',sans-serif;font-size:6.8px;font-weight:bold" fill="#333">10<tspan dy="-2.6" font-size="4.5px">3</tspan></text>
<text transform="translate(274.1 87) rotate(-90)" style="font-family:'Liberation Sans',sans-serif;font-size:6.8px;font-weight:bold" fill="#333">10<tspan dy="-2.6" font-size="4.5px">4</tspan></text>
<text x="419" y="233.3" style="font-family:'Liberation Sans',sans-serif;font-size:6.8px;font-weight:bold" fill="#333">10<tspan dy="-2.6" font-size="4.5px">4</tspan></text>
<text transform="translate(266.1 155.9) rotate(-90)" text-anchor="middle" style="font-family:'Liberation Sans',sans-serif;font-size:7.6px;font-weight:bold" fill="#222">CD8 PE</text>
<text x="346.9" y="242.8" text-anchor="middle" style="font-family:'Liberation Sans',sans-serif;font-size:6.5px;font-weight:bold" fill="#222">IFNg FITC</text>
<text x="368.5" y="185.4" style="font-family:'Liberation Serif',serif;stroke:#111;stroke-width:0.3px;font-size:16px" fill="#111">0.27%</text>
<text x="323" y="115.4" style="font-family:'Liberation Serif',serif;stroke:#111;stroke-width:0.3px;font-size:18px" fill="#111">WT1 (both)</text>
<path d="M117 295h1v1h-1zm-13 1h1v1h-1zm-9 2h1v1h-1zm10 0h2v1h-2zm-8 1h2v1h-2zm4 0h2v1h-2zm10 0h1v1h-1zm7 0h1v1h-1zm3 0h1v1h-1zm-28 1h1v1h-1zm2 0h1v1h-1zm2 0h1v1h-1zm3 0h4v1h-4zm5 0h4v1h-4zm6 0h2v1h-2zm5 0h2v1h-2zm6 0h1v1h-1zm-27 1h3v1h-3zm4 0h2v1h-2zm3 0h1v1h-1zm3 0h1v1h-1zm3 0h2v1h-2zm3 0h3v1h-3zm5 0h1v1h-1zm2 0h1v1h-1zm2 0h1v1h-1zm-26 1h9v1h-9zm11 0h3v1h-3zm5 0h7v1h-7zm8 0h2v1h-2zm3 0h2v1h-2zm-28 1h4v1h-4zm5 0h19v1h-19zm21 0h4v1h-4zm-26 1h1v1h-1zm2 0h30v1h-30zm-2 1h29v1h-29zm32 0h3v1h-3zm-32 1h30v1h-30zm31 0h1v1h-1zm-31 1h33v1h-33zm0 1h29v1h-29zm30 0h1v1h-1zm-30 1h32v1h-32zm35 0h1v1h-1zm-35 1h34v1h-34zm0 1h31v1h-31zm32 0h1v1h-1zm-32 1h33v1h-33zm0 1h36v1h-36zm0 1h34v1h-34zm0 1h29v1h-29zm30 0h3v1h-3zm-30 1h30v1h-30zm31 0h2v1h-2zm-31 1h33v1h-33zm34 0h1v1h-1zm2 0h1v1h-1zm-36 1h32v1h-32zm33 0h1v1h-1zm-33 1h35v1h-35zm0 1h34v1h-34zm35 0h1v1h-1zm-35 1h31v1h-31zm0 1h31v1h-31zm32 0h3v1h-3zm-32 1h33v1h-33zm0 1h25v1h-25zm26 0h1v1h-1zm2 0h4v1h-4zm6 0h1v1h-1zm-34 1h34v1h-34zm0 1h31v1h-31zm33 0h1v1h-1zm-33 1h31v1h-31zm32 0h2v1h-2zm-32 1h22v1h-22zm23 0h9v1h-9zm10 0h2v1h-2zm-33 1h1v1h-1zm2 0h15v1h-15zm16 0h12v1h-12zm13 0h2v1h-2zm-31 1h26v1h-26zm27 0h2v1h-2zm3 0h3v1h-3zm-28 1h25v1h-25zm26 0h3v1h-3zm4 0h2v1h-2zm-32 1h28v1h-28zm30 0h3v1h-3zm4 0h1v1h-1zm-34 1h13v1h-13zm14 0h17v1h-17zm20 0h1v1h-1zm-33 1h13v1h-13zm14 0h2v1h-2zm3 0h8v1h-8zm9 0h3v1h-3zm4 0h1v1h-1zm2 0h1v1h-1zm-33 1h6v1h-6zm7 0h4v1h-4zm5 0h8v1h-8zm9 0h1v1h-1zm3 0h3v1h-3zm4 0h1v1h-1zm4 0h1v1h-1zm-32 1h20v1h-20zm21 0h5v1h-5zm6 0h2v1h-2zm3 0h2v1h-2zm-29 1h2v1h-2zm3 0h4v1h-4zm5 0h20v1h-20zm21 0h2v1h-2zm3 0h1v1h-1zm-33 1h1v1h-1zm3 0h4v1h-4zm5 0h2v1h-2zm3 0h17v1h-17zm18 0h1v1h-1zm2 0h2v1h-2zm-31 1h5v1h-5zm7 0h3v1h-3zm5 0h4v1h-4zm5 0h1v1h-1zm2 0h1v1h-1zm2 0h7v1h-7zm11 0h1v1h-1zm-30 1h5v1h-5zm7 0h1v1h-1zm2 0h4v1h-4zm5 0h5v1h-5zm6 0h1v1h-1zm3 0h5v1h-5zm6 0h1v1h-1zm-31 1h2v1h-2zm3 0h4v1h-4zm6 0h5v1h-5zm6 0h8v1h-8zm9 0h5v1h-5zm8 0h2v1h-2zm-32 1h4v1h-4zm5 0h2v1h-2zm3 0h6v1h-6zm7 0h5v1h-5zm6 0h8v1h-8zm11 0h1v1h-1zm-32 1h1v1h-1zm2 0h3v1h-3zm5 0h19v1h-19zm21 0h3v1h-3zm5 0h1v1h-1zm-32 1h1v1h-1zm2 0h5v1h-5zm6 0h1v1h-1zm2 0h4v1h-4zm5 0h1v1h-1zm4 0h1v1h-1zm2 0h1v1h-1zm4 0h2v1h-2zm3 0h3v1h-3zm5 0h1v1h-1zm-32 1h3v1h-3zm5 0h1v1h-1zm2 0h1v1h-1zm2 0h2v1h-2zm3 0h1v1h-1zm2 0h6v1h-6zm7 0h3v1h-3zm4 0h2v1h-2zm4 0h1v1h-1zm-31 1h2v1h-2zm3 0h1v1h-1zm3 0h10v1h-10zm11 0h6v1h-6zm7 0h4v1h-4zm5 0h1v1h-1zm-29 1h2v1h-2zm3 0h3v1h-3zm5 0h8v1h-8zm9 0h3v1h-3zm5 0h3v1h-3zm4 0h1v1h-1zm2 0h5v1h-5zm-26 1h5v1h-5zm7 0h2v1h-2zm3 0h5v1h-5zm7 0h2v1h-2zm3 0h3v1h-3zm6 0h2v1h-2zm3 0h1v1h-1zm-31 1h1v1h-1zm2 0h1v1h-1zm2 0h2v1h-2zm3 0h1v1h-1zm2 0h3v1h-3zm4 0h1v1h-1zm4 0h3v1h-3zm4 0h7v1h-7zm8 0h1v1h-1zm3 0h1v1h-1zm-31 1h2v1h-2zm3 0h3v1h-3zm4 0h6v1h-6zm7 0h1v1h-1zm2 0h4v1h-4zm6 0h2v1h-2zm3 0h2v1h-2zm3 0h1v1h-1zm2 0h2v1h-2zm-30 1h4v1h-4zm7 0h4v1h-4zm5 0h3v1h-3zm4 0h4v1h-4zm7 0h3v1h-3zm4 0h4v1h-4zm-27 1h1v1h-1zm6 0h3v1h-3zm4 0h1v1h-1zm3 0h1v1h-1zm2 0h1v1h-1zm2 0h1v1h-1zm2 0h2v1h-2zm5 0h1v1h-1zm2 0h5v1h-5zm6 0h1v1h-1zm-33 1h1v1h-1zm2 0h1v1h-1zm2 0h7v1h-7zm10 0h4v1h-4zm5 0h1v1h-1zm4 0h5v1h-5zm10 0h1v1h-1zm-33 1h7v1h-7zm8 0h1v1h-1zm2 0h3v1h-3zm5 0h3v1h-3zm4 0h2v1h-2zm5 0h1v1h-1zm4 0h3v1h-3zm-27 1h6v1h-6zm7 0h2v1h-2zm3 0h5v1h-5zm6 0h1v1h-1zm2 0h1v1h-1zm2 0h5v1h-5zm6 0h5v1h-5zm-27 1h2v1h-2zm3 0h1v1h-1zm3 0h4v1h-4zm5 0h10v1h-10zm11 0h2v1h-2zm3 0h3v1h-3zm4 0h1v1h-1zm2 0h1v1h-1zm2 0h1v1h-1zm-32 1h5v1h-5zm6 0h1v1h-1zm2 0h5v1h-5zm7 0h5v1h-5zm6 0h1v1h-1zm2 0h2v1h-2zm7 0h2v1h-2zm-31 1h1v1h-1zm5 0h1v1h-1zm2 0h1v1h-1zm3 0h1v1h-1zm3 0h2v1h-2zm3 0h2v1h-2zm3 0h5v1h-5zm7 0h2v1h-2zm3 0h1v1h-1zm5 0h1v1h-1zm-34 1h5v1h-5zm6 0h1v1h-1zm2 0h1v1h-1zm2 0h4v1h-4zm5 0h2v1h-2zm3 0h4v1h-4zm5 0h1v1h-1zm2 0h1v1h-1zm6 0h1v1h-1zm2 0h1v1h-1zm-33 1h6v1h-6zm7 0h7v1h-7zm8 0h2v1h-2zm6 0h2v1h-2zm3 0h1v1h-1zm2 0h1v1h-1zm-26 1h3v1h-3zm4 0h5v1h-5zm6 0h2v1h-2zm3 0h1v1h-1zm2 0h1v1h-1zm2 0h2v1h-2zm3 0h1v1h-1zm3 0h3v1h-3zm8 0h2v1h-2zm-30 1h1v1h-1zm2 0h1v1h-1zm2 0h4v1h-4zm8 0h1v1h-1zm3 0h5v1h-5zm6 0h1v1h-1zm2 0h3v1h-3zm4 0h6v1h-6zm-25 1h1v1h-1zm2 0h1v1h-1zm3 0h1v1h-1zm2 0h4v1h-4zm5 0h2v1h-2zm4 0h2v1h-2zm3 0h1v1h-1zm2 0h1v1h-1zm2 0h1v1h-1zm2 0h3v1h-3zm4 0h1v1h-1zm-31 1h2v1h-2zm3 0h3v1h-3zm4 0h1v1h-1zm2 0h1v1h-1zm2 0h4v1h-4zm5 0h1v1h-1zm2 0h2v1h-2zm4 0h1v1h-1zm2 0h5v1h-5zm6 0h1v1h-1zm-28 1h3v1h-3zm4 0h3v1h-3zm4 0h3v1h-3zm4 0h1v1h-1zm2 0h2v1h-2zm3 0h2v1h-2zm4 0h1v1h-1zm5 0h1v1h-1zm-29 1h2v1h-2zm3 0h1v1h-1zm3 0h3v1h-3zm4 0h2v1h-2zm3 0h3v1h-3zm4 0h1v1h-1zm2 0h1v1h-1zm2 0h1v1h-1zm2 0h1v1h-1zm2 0h2v1h-2zm6 0h1v1h-1zm-30 1h1v1h-1zm4 0h2v1h-2zm4 0h2v1h-2zm3 0h1v1h-1zm3 0h2v1h-2zm3 0h1v1h-1zm3 0h1v1h-1zm2 0h1v1h-1zm-21 1h1v1h-1zm2 0h1v1h-1zm4 0h2v1h-2zm3 0h1v1h-1zm5 0h3v1h-3zm4 0h1v1h-1zm3 0h1v1h-1zm3 0h1v1h-1zm-23 1h1v1h-1zm3 0h5v1h-5zm7 0h1v1h-1zm3 0h2v1h-2zm4 0h1v1h-1zm2 0h1v1h-1zm2 0h1v1h-1zm2 0h1v1h-1zm3 0h1v1h-1zm2 0h2v1h-2zm-31 1h1v1h-1zm2 0h4v1h-4zm6 0h1v1h-1zm5 0h2v1h-2zm3 0h1v1h-1zm2 0h2v1h-2zm4 0h1v1h-1zm2 0h1v1h-1zm3 0h1v1h-1zm4 0h1v1h-1zm-30 1h1v1h-1zm2 0h1v1h-1zm2 0h1v1h-1zm3 0h1v1h-1zm3 0h5v1h-5zm7 0h1v1h-1zm6 0h1v1h-1zm3 0h1v1h-1zm3 0h2v1h-2zm-29 1h1v1h-1zm4 0h2v1h-2zm5 0h2v1h-2zm3 0h7v1h-7zm11 0h2v1h-2zm4 0h1v1h-1zm-26 1h2v1h-2zm4 0h1v1h-1zm4 0h3v1h-3zm5 0h6v1h-6zm9 0h1v1h-1zm2 0h2v1h-2zm3 0h1v1h-1zm-29 1h5v1h-5zm6 0h1v1h-1zm3 0h2v1h-2zm3 0h3v1h-3zm5 0h1v1h-1zm3 0h1v1h-1zm3 0h1v1h-1zm3 0h1v1h-1zm5 0h1v1h-1zm2 0h1v1h-1zm-33 1h3v1h-3zm4 0h1v1h-1zm3 0h1v1h-1zm2 0h2v1h-2zm5 0h1v1h-1zm2 0h1v1h-1zm6 0h2v1h-2zm4 0h5v1h-5zm-24 1h1v1h-1zm2 0h2v1h-2zm3 0h3v1h-3zm4 0h3v1h-3zm5 0h1v1h-1zm3 0h1v1h-1zm7 0h1v1h-1zm4 0h3v1h-3zm-30 1h2v1h-2zm5 0h3v1h-3zm4 0h2v1h-2zm3 0h1v1h-1zm2 0h4v1h-4zm7 0h1v1h-1zm2 0h2v1h-2zm4 0h1v1h-1zm-27 1h1v1h-1zm2 0h4v1h-4zm9 0h1v1h-1zm3 0h1v1h-1zm2 0h3v1h-3zm4 0h1v1h-1zm6 0h1v1h-1zm-26 1h3v1h-3zm4 0h1v1h-1zm2 0h3v1h-3zm4 0h1v1h-1zm2 0h6v1h-6zm7 0h3v1h-3zm13 0h1v1h-1zm-32 1h1v1h-1zm2 0h2v1h-2zm3 0h5v1h-5zm6 0h6v1h-6zm7 0h1v1h-1zm2 0h1v1h-1zm2 0h1v1h-1zm2 0h3v1h-3zm5 0h1v1h-1zm-29 1h7v1h-7zm8 0h6v1h-6zm7 0h3v1h-3zm5 0h1v1h-1zm2 0h3v1h-3zm6 0h1v1h-1zm3 0h1v1h-1zm-31 1h4v1h-4zm6 0h1v1h-1zm2 0h1v1h-1zm2 0h9v1h-9zm11 0h4v1h-4zm6 0h2v1h-2zm6 0h1v1h-1zm-32 1h2v1h-2zm3 0h8v1h-8zm9 0h9v1h-9zm10 0h3v1h-3zm-23 1h23v1h-23zm25 0h4v1h-4zm8 0h1v1h-1zm-33 1h25v1h-25zm0 1h18v1h-18zm19 0h4v1h-4zm6 0h1v1h-1zm5 0h2v1h-2zm-30 1h6v1h-6zm7 0h2v1h-2zm3 0h3v1h-3zm4 0h3v1h-3zm4 0h5v1h-5zm6 0h2v1h-2zm3 0h2v1h-2zm5 0h1v1h-1zm-32 1h1v1h-1zm3 0h21v1h-21zm22 0h7v1h-7zm-25 1h30v1h-30zm32 0h1v1h-1zm-32 1h2v1h-2zm3 0h13v1h-13zm14 0h12v1h-12zm14 0h1v1h-1zm2 0h1v1h-1zm-33 1h10v1h-10zm11 0h1v1h-1zm2 0h14v1h-14zm18 0h1v1h-1zm-31 1h24v1h-24zm25 0h2v1h-2zm4 0h1v1h-1zm-29 1h21v1h-21zm22 0h5v1h-5zm6 0h1v1h-1zm-28 1h4v1h-4zm5 0h1v1h-1zm2 0h12v1h-12zm13 0h8v1h-8zm-20 1h29v1h-29zm30 0h2v1h-2zm-30 1h30v1h-30zm33 0h1v1h-1zm-33 1h27v1h-27zm28 0h1v1h-1zm2 0h1v1h-1zm-30 1h27v1h-27zm28 0h2v1h-2zm3 0h1v1h-1zm2 0h1v1h-1zm-33 1h5v1h-5zm6 0h25v1h-25zm-6 1h3v1h-3zm4 0h9v1h-9zm10 0h4v1h-4zm5 0h11v1h-11zm-19 1h12v1h-12zm13 0h20v1h-20zm-13 1h21v1h-21zm22 0h3v1h-3zm4 0h3v1h-3zm-26 1h1v1h-1zm2 0h6v1h-6zm7 0h17v1h-17zm18 0h3v1h-3zm4 0h1v1h-1zm-31 1h25v1h-25zm26 0h2v1h-2zm3 0h1v1h-1zm3 0h1v1h-1zm-32 1h25v1h-25zm26 0h2v1h-2zm-26 1h8v1h-8zm9 0h3v1h-3zm4 0h9v1h-9zm10 0h1v1h-1zm2 0h6v1h-6zm-25 1h15v1h-15zm16 0h9v1h-9zm12 0h2v1h-2zm-28 1h1v1h-1zm2 0h5v1h-5zm6 0h1v1h-1zm2 0h7v1h-7zm8 0h8v1h-8zm10 0h1v1h-1zm4 0h1v1h-1zm-31 1h19v1h-19zm24 0h3v1h-3zm5 0h1v1h-1zm3 0h1v1h-1zm-31 1h6v1h-6zm7 0h3v1h-3zm4 0h12v1h-12zm13 0h2v1h-2zm3 0h1v1h-1zm2 0h1v1h-1z" fill="#080808"/><path d="M134 311h2v2h-2zM148 312h2v2h-2zM146 314h2v2h-2zM140 315h2v2h-2zM141 320h2v2h-2zM132 332h2v2h-2zM137 337h2v2h-2zM147 345h2v2h-2zM150 347h2v2h-2zM138 350h2v2h-2zM134 362h2v2h-2zM151 366h2v2h-2zM151 380h2v2h-2zM140 388h2v2h-2zM135 390h2v2h-2zM144 392h2v2h-2zM140 398h2v2h-2zM146 400h2v2h-2zM133 402h2v2h-2zM149 407h2v2h-2z" fill="#bdbdbd"/>
<path d="M92.5 264.5H239.5V411.5H92.5ZM129.5 264.5V411.5M92.5 375.5H239.5" stroke="#262626" stroke-width="1.15" fill="none"/>
<path d="M90.0 375.5h2.5M129.5 411.5v2.5M90.0 338.5h2.5M166.5 411.5v2.5M90.0 301.5h2.5M203.5 411.5v2.5" stroke="#333" stroke-width="1" fill="none"/>
<text transform="translate(88.8 410.8) rotate(-90)" style="font-family:'Liberation Sans',sans-serif;font-size:6.8px;font-weight:bold" fill="#333">10<tspan dy="-2.6" font-size="4.5px">0</tspan></text>
<text x="92.4" y="421.3" style="font-family:'Liberation Sans',sans-serif;font-size:6.8px;font-weight:bold" fill="#333">10<tspan dy="-2.6" font-size="4.5px">0</tspan></text>
<text transform="translate(88.8 374.1) rotate(-90)" style="font-family:'Liberation Sans',sans-serif;font-size:6.8px;font-weight:bold" fill="#333">10<tspan dy="-2.6" font-size="4.5px">1</tspan></text>
<text x="129.3" y="421.3" style="font-family:'Liberation Sans',sans-serif;font-size:6.8px;font-weight:bold" fill="#333">10<tspan dy="-2.6" font-size="4.5px">1</tspan></text>
<text transform="translate(88.8 337.3) rotate(-90)" style="font-family:'Liberation Sans',sans-serif;font-size:6.8px;font-weight:bold" fill="#333">10<tspan dy="-2.6" font-size="4.5px">2</tspan></text>
<text x="166.2" y="421.3" style="font-family:'Liberation Sans',sans-serif;font-size:6.8px;font-weight:bold" fill="#333">10<tspan dy="-2.6" font-size="4.5px">2</tspan></text>
<text transform="translate(88.8 300.6) rotate(-90)" style="font-family:'Liberation Sans',sans-serif;font-size:6.8px;font-weight:bold" fill="#333">10<tspan dy="-2.6" font-size="4.5px">3</tspan></text>
<text x="203" y="421.3" style="font-family:'Liberation Sans',sans-serif;font-size:6.8px;font-weight:bold" fill="#333">10<tspan dy="-2.6" font-size="4.5px">3</tspan></text>
<text transform="translate(88.8 263.8) rotate(-90)" style="font-family:'Liberation Sans',sans-serif;font-size:6.8px;font-weight:bold" fill="#333">10<tspan dy="-2.6" font-size="4.5px">4</tspan></text>
<text x="239.9" y="421.3" style="font-family:'Liberation Sans',sans-serif;font-size:6.8px;font-weight:bold" fill="#333">10<tspan dy="-2.6" font-size="4.5px">4</tspan></text>
<text transform="translate(83.6 338.3) rotate(-90)" text-anchor="middle" style="font-family:'Liberation Sans',sans-serif;font-size:6.4px;font-weight:bold" fill="#222">CD8 APC</text>
<text x="164.7" y="428.1" text-anchor="middle" style="font-family:'Liberation Sans',sans-serif;font-size:5.8px;font-weight:bold" fill="#222">IFNg FITC</text>
<text x="174.8" y="366.1" style="font-family:'Liberation Serif',serif;stroke:#111;stroke-width:0.3px;font-size:16px" fill="#111">0.04%</text>
<path d="M297 291h1v1h-1zm-21 2h1v1h-1zm9 1h1v1h-1zm5 0h1v1h-1zm-5 1h1v1h-1zm11 0h1v1h-1zm-19 1h1v1h-1zm4 0h1v1h-1zm13 0h2v1h-2zm-10 1h1v1h-1zm5 0h2v1h-2zm7 0h1v1h-1zm-19 1h1v1h-1zm2 0h1v1h-1zm5 0h3v1h-3zm8 0h1v1h-1zm3 0h1v1h-1zm6 0h1v1h-1zm-19 1h2v1h-2zm10 0h1v1h-1zm2 0h2v1h-2zm6 0h2v1h-2zm3 0h2v1h-2zm3 0h1v1h-1zm-31 1h1v1h-1zm2 0h1v1h-1zm5 0h2v1h-2zm6 0h1v1h-1zm2 0h2v1h-2zm4 0h1v1h-1zm2 0h3v1h-3zm10 0h1v1h-1zm-31 1h6v1h-6zm7 0h4v1h-4zm6 0h8v1h-8zm9 0h1v1h-1zm2 0h2v1h-2zm4 0h1v1h-1zm-28 1h1v1h-1zm2 0h10v1h-10zm11 0h1v1h-1zm2 0h1v1h-1zm3 0h2v1h-2zm5 0h2v1h-2zm3 0h1v1h-1zm3 0h1v1h-1zm5 0h1v1h-1zm-34 1h5v1h-5zm6 0h1v1h-1zm3 0h1v1h-1zm2 0h8v1h-8zm10 0h3v1h-3zm4 0h2v1h-2zm3 0h1v1h-1zm-27 1h2v1h-2zm3 0h4v1h-4zm6 0h1v1h-1zm2 0h3v1h-3zm4 0h4v1h-4zm5 0h9v1h-9zm11 0h1v1h-1zm-32 1h3v1h-3zm4 0h1v1h-1zm2 0h2v1h-2zm4 0h10v1h-10zm11 0h6v1h-6zm10 0h2v1h-2zm-31 1h8v1h-8zm9 0h2v1h-2zm3 0h8v1h-8zm9 0h2v1h-2zm3 0h5v1h-5zm-24 1h1v1h-1zm2 0h1v1h-1zm2 0h24v1h-24zm25 0h3v1h-3zm4 0h1v1h-1zm-32 1h13v1h-13zm14 0h4v1h-4zm5 0h10v1h-10zm11 0h1v1h-1zm-30 1h28v1h-28zm29 0h1v1h-1zm2 0h1v1h-1zm-31 1h25v1h-25zm26 0h2v1h-2zm4 0h3v1h-3zm-31 1h30v1h-30zm32 0h1v1h-1zm3 0h1v1h-1zm-35 1h30v1h-30zm31 0h1v1h-1zm2 0h1v1h-1zm-33 1h3v1h-3zm4 0h13v1h-13zm14 0h2v1h-2zm3 0h13v1h-13zm-21 1h17v1h-17zm18 0h4v1h-4zm5 0h7v1h-7zm8 0h2v1h-2zm-31 1h1v1h-1zm2 0h28v1h-28zm29 0h1v1h-1zm2 0h2v1h-2zm-33 1h28v1h-28zm29 0h3v1h-3zm4 0h1v1h-1zm-33 1h26v1h-26zm28 0h4v1h-4zm5 0h1v1h-1zm-33 1h14v1h-14zm15 0h4v1h-4zm5 0h12v1h-12zm-20 1h5v1h-5zm6 0h7v1h-7zm8 0h12v1h-12zm13 0h6v1h-6zm-27 1h8v1h-8zm9 0h20v1h-20zm21 0h4v1h-4zm-30 1h17v1h-17zm18 0h15v1h-15zm19 0h1v1h-1zm-37 1h16v1h-16zm17 0h15v1h-15zm-17 1h25v1h-25zm26 0h8v1h-8zm-26 1h14v1h-14zm15 0h19v1h-19zm-15 1h27v1h-27zm28 0h4v1h-4zm-28 1h8v1h-8zm9 0h17v1h-17zm18 0h2v1h-2zm3 0h1v1h-1zm-30 1h12v1h-12zm13 0h16v1h-16zm17 0h3v1h-3zm-30 1h13v1h-13zm14 0h4v1h-4zm5 0h4v1h-4zm5 0h8v1h-8zm-24 1h4v1h-4zm5 0h27v1h-27zm-5 1h15v1h-15zm16 0h8v1h-8zm9 0h6v1h-6zm7 0h1v1h-1zm-32 1h30v1h-30zm31 0h2v1h-2zm-31 1h29v1h-29zm30 0h1v1h-1zm2 0h1v1h-1zm-32 1h15v1h-15zm16 0h15v1h-15zm16 0h3v1h-3zm-32 1h28v1h-28zm29 0h2v1h-2zm3 0h1v1h-1zm-32 1h27v1h-27zm28 0h5v1h-5zm6 0h1v1h-1zm-34 1h29v1h-29zm30 0h1v1h-1zm2 0h1v1h-1zm2 0h1v1h-1zm-34 1h12v1h-12zm13 0h17v1h-17zm19 0h2v1h-2zm-32 1h29v1h-29zm34 0h1v1h-1zm-34 1h33v1h-33zm2 1h28v1h-28zm29 0h2v1h-2zm-31 1h6v1h-6zm7 0h20v1h-20zm23 0h3v1h-3zm-30 1h4v1h-4zm5 0h19v1h-19zm20 0h8v1h-8zm-25 1h5v1h-5zm6 0h27v1h-27zm-6 1h29v1h-29zm30 0h4v1h-4zm5 0h1v1h-1zm-35 1h1v1h-1zm3 0h20v1h-20zm21 0h2v1h-2zm3 0h5v1h-5zm6 0h1v1h-1zm-33 1h14v1h-14zm15 0h1v1h-1zm2 0h11v1h-11zm-17 1h1v1h-1zm2 0h8v1h-8zm9 0h12v1h-12zm13 0h3v1h-3zm4 0h4v1h-4zm5 0h1v1h-1zm-33 1h5v1h-5zm6 0h20v1h-20zm21 0h2v1h-2zm4 0h1v1h-1zm2 0h1v1h-1zm-33 1h4v1h-4zm5 0h2v1h-2zm3 0h24v1h-24zm-8 1h2v1h-2zm5 0h3v1h-3zm4 0h2v1h-2zm3 0h15v1h-15zm16 0h3v1h-3zm4 0h1v1h-1zm-32 1h3v1h-3zm6 0h1v1h-1zm2 0h2v1h-2zm3 0h12v1h-12zm13 0h2v1h-2zm4 0h3v1h-3zm4 0h1v1h-1zm-32 1h10v1h-10zm11 0h8v1h-8zm11 0h8v1h-8zm-22 1h3v1h-3zm4 0h15v1h-15zm16 0h3v1h-3zm4 0h2v1h-2zm4 0h2v1h-2zm3 0h2v1h-2zm3 0h2v1h-2zm-34 1h4v1h-4zm7 0h1v1h-1zm2 0h1v1h-1zm2 0h17v1h-17zm18 0h2v1h-2zm3 0h1v1h-1zm-31 1h1v1h-1zm2 0h4v1h-4zm7 0h1v1h-1zm2 0h13v1h-13zm14 0h5v1h-5zm8 0h1v1h-1zm3 0h1v1h-1zm-36 1h6v1h-6zm8 0h6v1h-6zm7 0h1v1h-1zm3 0h5v1h-5zm6 0h4v1h-4zm8 0h1v1h-1zm-33 1h9v1h-9zm10 0h11v1h-11zm12 0h1v1h-1zm2 0h8v1h-8zm10 0h1v1h-1zm-34 1h8v1h-8zm9 0h4v1h-4zm5 0h5v1h-5zm6 0h1v1h-1zm2 0h5v1h-5zm11 0h1v1h-1zm3 0h1v1h-1zm-36 1h1v1h-1zm5 0h3v1h-3zm5 0h9v1h-9zm11 0h1v1h-1zm2 0h1v1h-1zm4 0h1v1h-1zm3 0h1v1h-1zm-29 1h12v1h-12zm14 0h4v1h-4zm5 0h2v1h-2zm3 0h3v1h-3zm4 0h1v1h-1zm4 0h1v1h-1zm2 0h1v1h-1zm-33 1h6v1h-6zm7 0h1v1h-1zm3 0h5v1h-5zm6 0h4v1h-4zm5 0h2v1h-2zm3 0h1v1h-1zm3 0h1v1h-1zm4 0h3v1h-3zm-26 1h1v1h-1zm2 0h3v1h-3zm5 0h2v1h-2zm3 0h2v1h-2zm3 0h3v1h-3zm4 0h2v1h-2zm3 0h1v1h-1zm2 0h3v1h-3zm4 0h1v1h-1zm2 0h1v1h-1zm-33 1h2v1h-2zm5 0h4v1h-4zm5 0h1v1h-1zm2 0h1v1h-1zm3 0h3v1h-3zm4 0h6v1h-6zm7 0h2v1h-2zm5 0h1v1h-1zm-29 1h2v1h-2zm4 0h1v1h-1zm3 0h4v1h-4zm5 0h5v1h-5zm6 0h2v1h-2zm4 0h4v1h-4zm5 0h1v1h-1zm2 0h1v1h-1zm2 0h1v1h-1zm-30 1h11v1h-11zm12 0h3v1h-3zm5 0h1v1h-1zm3 0h1v1h-1zm2 0h5v1h-5zm6 0h1v1h-1zm-31 1h12v1h-12zm13 0h11v1h-11zm12 0h1v1h-1zm2 0h1v1h-1zm2 0h1v1h-1zm2 0h1v1h-1zm-28 1h1v1h-1zm2 0h1v1h-1zm3 0h1v1h-1zm3 0h3v1h-3zm4 0h7v1h-7zm8 0h4v1h-4zm6 0h1v1h-1zm3 0h1v1h-1zm-32 1h1v1h-1zm3 0h2v1h-2zm4 0h2v1h-2zm3 0h2v1h-2zm3 0h9v1h-9zm10 0h1v1h-1zm2 0h1v1h-1zm6 0h1v1h-1zm-31 1h7v1h-7zm9 0h4v1h-4zm5 0h1v1h-1zm5 0h1v1h-1zm6 0h2v1h-2zm4 0h1v1h-1zm-29 1h1v1h-1zm2 0h1v1h-1zm2 0h2v1h-2zm4 0h4v1h-4zm6 0h1v1h-1zm4 0h7v1h-7zm8 0h2v1h-2zm6 0h1v1h-1zm-32 1h1v1h-1zm2 0h1v1h-1zm2 0h2v1h-2zm3 0h1v1h-1zm4 0h2v1h-2zm3 0h1v1h-1zm3 0h6v1h-6zm11 0h1v1h-1zm3 0h1v1h-1zm-30 1h5v1h-5zm8 0h1v1h-1zm3 0h1v1h-1zm2 0h1v1h-1zm3 0h1v1h-1zm3 0h3v1h-3zm5 0h4v1h-4zm-24 1h3v1h-3zm5 0h1v1h-1zm2 0h4v1h-4zm5 0h2v1h-2zm3 0h2v1h-2zm4 0h1v1h-1zm2 0h1v1h-1zm2 0h1v1h-1zm2 0h1v1h-1zm5 0h1v1h-1zm-28 1h1v1h-1zm2 0h2v1h-2zm3 0h4v1h-4zm5 0h3v1h-3zm4 0h2v1h-2zm3 0h2v1h-2zm3 0h1v1h-1zm7 0h1v1h-1zm-30 1h4v1h-4zm5 0h4v1h-4zm5 0h1v1h-1zm2 0h1v1h-1zm2 0h2v1h-2zm4 0h1v1h-1zm2 0h1v1h-1zm2 0h2v1h-2zm9 0h1v1h-1zm-30 1h7v1h-7zm8 0h10v1h-10zm11 0h2v1h-2zm3 0h5v1h-5zm6 0h2v1h-2zm3 0h1v1h-1zm2 0h1v1h-1zm-33 1h2v1h-2zm3 0h3v1h-3zm5 0h3v1h-3zm5 0h3v1h-3zm4 0h2v1h-2zm4 0h5v1h-5zm7 0h2v1h-2zm-28 1h11v1h-11zm12 0h6v1h-6zm8 0h4v1h-4zm5 0h1v1h-1zm3 0h1v1h-1zm4 0h1v1h-1zm-33 1h1v1h-1zm2 0h1v1h-1zm2 0h3v1h-3zm5 0h1v1h-1zm2 0h4v1h-4zm5 0h3v1h-3zm4 0h7v1h-7zm8 0h1v1h-1zm5 0h1v1h-1zm-33 1h1v1h-1zm3 0h2v1h-2zm3 0h3v1h-3zm5 0h10v1h-10zm12 0h8v1h-8zm10 0h1v1h-1zm-33 1h4v1h-4zm6 0h9v1h-9zm10 0h11v1h-11zm12 0h2v1h-2zm-28 1h31v1h-31zm32 0h1v1h-1zm-32 1h5v1h-5zm6 0h17v1h-17zm18 0h2v1h-2zm3 0h5v1h-5zm-27 1h2v1h-2zm3 0h27v1h-27zm29 0h1v1h-1zm-32 1h5v1h-5zm6 0h24v1h-24zm-6 1h3v1h-3zm4 0h23v1h-23zm24 0h1v1h-1zm2 0h2v1h-2zm-30 1h20v1h-20zm21 0h8v1h-8zm9 0h2v1h-2zm-30 1h1v1h-1zm2 0h27v1h-27zm28 0h2v1h-2zm3 0h1v1h-1zm-33 1h32v1h-32zm33 0h2v1h-2zm-33 1h25v1h-25zm26 0h2v1h-2zm3 0h2v1h-2zm-29 1h27v1h-27zm28 0h1v1h-1zm-28 1h26v1h-26zm27 0h3v1h-3zm-27 1h30v1h-30zm35 0h1v1h-1zm-35 1h27v1h-27zm28 0h2v1h-2zm4 0h1v1h-1zm-32 1h30v1h-30zm32 0h1v1h-1zm-32 1h20v1h-20zm21 0h8v1h-8zm-21 1h30v1h-30zm0 1h8v1h-8zm9 0h18v1h-18zm19 0h4v1h-4zm-28 1h32v1h-32zm0 1h30v1h-30zm31 0h2v1h-2zm-31 1h1v1h-1zm2 0h29v1h-29zm30 0h1v1h-1zm-32 1h30v1h-30zm0 1h32v1h-32zm0 1h30v1h-30zm0 1h22v1h-22zm23 0h6v1h-6zm7 0h2v1h-2zm-30 1h18v1h-18zm19 0h12v1h-12zm-19 1h31v1h-31zm33 0h1v1h-1zm-33 1h6v1h-6zm7 0h23v1h-23zm27 0h1v1h-1zm-34 1h10v1h-10zm11 0h20v1h-20zm21 0h1v1h-1zm-32 1h26v1h-26zm30 0h1v1h-1zm3 0h1v1h-1z" fill="#080808"/><path d="M340 300h2v2h-2zM316 305h2v2h-2zM336 308h2v2h-2zM315 310h2v2h-2zM317 311h2v2h-2zM325 312h2v2h-2zM317 313h2v2h-2zM324 313h2v2h-2zM320 314h2v2h-2zM327 314h2v2h-2zM328 315h2v2h-2zM316 317h2v2h-2zM313 318h2v2h-2zM321 318h2v2h-2zM314 319h2v2h-2zM323 320h2v2h-2zM314 321h2v2h-2zM317 321h2v2h-2zM324 321h2v2h-2zM316 323h2v2h-2zM317 323h2v2h-2zM323 323h2v2h-2zM325 323h2v2h-2zM316 324h2v2h-2zM323 324h2v2h-2zM322 325h2v2h-2zM326 325h2v2h-2zM333 327h2v2h-2zM318 329h2v2h-2zM332 330h2v2h-2zM317 331h2v2h-2zM325 334h2v2h-2zM319 337h2v2h-2zM322 337h2v2h-2zM323 337h2v2h-2zM317 339h2v2h-2zM319 339h2v2h-2zM338 340h2v2h-2zM326 344h2v2h-2zM314 345h2v2h-2zM335 345h2v2h-2zM314 350h2v2h-2zM333 350h2v2h-2zM313 353h2v2h-2zM342 353h2v2h-2zM345 358h2v2h-2zM333 359h2v2h-2zM328 368h2v2h-2zM338 370h2v2h-2zM345 372h2v2h-2zM316 380h2v2h-2zM323 385h2v2h-2zM350 385h2v2h-2zM325 386h2v2h-2zM317 388h2v2h-2zM315 390h2v2h-2zM323 393h2v2h-2zM317 400h2v2h-2zM340 400h2v2h-2zM322 403h2v2h-2zM319 404h2v2h-2zM322 404h2v2h-2zM348 405h2v2h-2zM320 406h2v2h-2zM314 408h2v2h-2zM317 408h2v2h-2zM319 410h2v2h-2z" fill="#bdbdbd"/>
<path d="M274.5 264.5H421.5V411.5H274.5ZM311.5 264.5V411.5M274.5 375.5H421.5" stroke="#262626" stroke-width="1.15" fill="none"/>
<path d="M272.0 374.5h2.5M310.5 411.5v2.5M272.0 338.5h2.5M347.5 411.5v2.5M272.0 301.5h2.5M384.5 411.5v2.5" stroke="#333" stroke-width="1" fill="none"/>
<text transform="translate(270.4 410.7) rotate(-90)" style="font-family:'Liberation Sans',sans-serif;font-size:6.8px;font-weight:bold" fill="#333">10<tspan dy="-2.6" font-size="4.5px">0</tspan></text>
<text x="274" y="421.2" style="font-family:'Liberation Sans',sans-serif;font-size:6.8px;font-weight:bold" fill="#333">10<tspan dy="-2.6" font-size="4.5px">0</tspan></text>
<text transform="translate(270.4 374) rotate(-90)" style="font-family:'Liberation Sans',sans-serif;font-size:6.8px;font-weight:bold" fill="#333">10<tspan dy="-2.6" font-size="4.5px">1</tspan></text>
<text x="310.9" y="421.2" style="font-family:'Liberation Sans',sans-serif;font-size:6.8px;font-weight:bold" fill="#333">10<tspan dy="-2.6" font-size="4.5px">1</tspan></text>
<text transform="translate(270.4 337.2) rotate(-90)" style="font-family:'Liberation Sans',sans-serif;font-size:6.8px;font-weight:bold" fill="#333">10<tspan dy="-2.6" font-size="4.5px">2</tspan></text>
<text x="347.7" y="421.2" style="font-family:'Liberation Sans',sans-serif;font-size:6.8px;font-weight:bold" fill="#333">10<tspan dy="-2.6" font-size="4.5px">2</tspan></text>
<text transform="translate(270.4 300.5) rotate(-90)" style="font-family:'Liberation Sans',sans-serif;font-size:6.8px;font-weight:bold" fill="#333">10<tspan dy="-2.6" font-size="4.5px">3</tspan></text>
<text x="384.5" y="421.2" style="font-family:'Liberation Sans',sans-serif;font-size:6.8px;font-weight:bold" fill="#333">10<tspan dy="-2.6" font-size="4.5px">3</tspan></text>
<text transform="translate(270.4 263.8) rotate(-90)" style="font-family:'Liberation Sans',sans-serif;font-size:6.8px;font-weight:bold" fill="#333">10<tspan dy="-2.6" font-size="4.5px">4</tspan></text>
<text x="421.4" y="421.2" style="font-family:'Liberation Sans',sans-serif;font-size:6.8px;font-weight:bold" fill="#333">10<tspan dy="-2.6" font-size="4.5px">4</tspan></text>
<text transform="translate(265.2 338.2) rotate(-90)" text-anchor="middle" style="font-family:'Liberation Sans',sans-serif;font-size:6.4px;font-weight:bold" fill="#222">CD8 APC</text>
<text x="346.2" y="428" text-anchor="middle" style="font-family:'Liberation Sans',sans-serif;font-size:5.8px;font-weight:bold" fill="#222">IFNg FITC</text>
<text x="367.7" y="366.1" style="font-family:'Liberation Serif',serif;stroke:#111;stroke-width:0.3px;font-size:16px" fill="#111">0.10%</text>
<text x="332.5" y="296.5" style="font-family:'Liberation Serif',serif;stroke:#111;stroke-width:0.3px;font-size:18px" fill="#111">WT1 (126)</text>
<path d="M128 461h1v1h-1zm-28 5h1v1h-1zm14 0h1v1h-1zm0 2h1v1h-1zm2 1h1v1h-1zm-16 1h1v1h-1zm2 0h1v1h-1zm4 0h1v1h-1zm7 0h1v1h-1zm2 0h2v1h-2zm3 0h1v1h-1zm3 0h1v1h-1zm3 0h2v1h-2zm4 0h1v1h-1zm5 0h1v1h-1zm-34 1h2v1h-2zm3 0h1v1h-1zm2 0h1v1h-1zm2 0h1v1h-1zm2 0h1v1h-1zm2 0h1v1h-1zm2 0h1v1h-1zm2 0h1v1h-1zm4 0h1v1h-1zm2 0h1v1h-1zm4 0h1v1h-1zm3 0h1v1h-1zm3 0h1v1h-1zm-33 1h1v1h-1zm6 0h1v1h-1zm2 0h1v1h-1zm5 0h3v1h-3zm4 0h5v1h-5zm6 0h1v1h-1zm2 0h2v1h-2zm3 0h1v1h-1zm2 0h1v1h-1zm2 0h1v1h-1zm4 0h1v1h-1zm-34 1h1v1h-1zm2 0h2v1h-2zm5 0h1v1h-1zm2 0h1v1h-1zm2 0h2v1h-2zm3 0h6v1h-6zm7 0h3v1h-3zm4 0h9v1h-9zm11 0h1v1h-1zm-41 1h1v1h-1zm4 0h1v1h-1zm2 0h11v1h-11zm12 0h22v1h-22zm24 0h1v1h-1zm-42 1h1v1h-1zm3 0h1v1h-1zm2 0h1v1h-1zm3 0h33v1h-33zm-8 1h1v1h-1zm2 0h4v1h-4zm5 0h3v1h-3zm4 0h29v1h-29zm-11 1h1v1h-1zm5 0h35v1h-35zm37 0h1v1h-1zm-42 1h1v1h-1zm2 0h5v1h-5zm6 0h32v1h-32zm34 0h1v1h-1zm-40 1h41v1h-41zm-1 1h40v1h-40zm41 0h1v1h-1zm-41 1h41v1h-41zm-1 1h4v1h-4zm5 0h37v1h-37zm-5 1h40v1h-40zm41 0h2v1h-2zm-41 1h1v1h-1zm2 0h39v1h-39zm43 0h1v1h-1zm-45 1h42v1h-42zm0 1h3v1h-3zm4 0h37v1h-37zm38 0h1v1h-1zm-40 1h40v1h-40zm43 0h1v1h-1zm-45 1h41v1h-41zm43 0h1v1h-1zm-43 1h42v1h-42zm43 0h1v1h-1zm-43 1h2v1h-2zm3 0h40v1h-40zm41 0h1v1h-1zm-43 1h41v1h-41zm42 0h1v1h-1zm-43 1h1v1h-1zm2 0h40v1h-40zm-2 1h39v1h-39zm40 0h1v1h-1zm-37 1h1v1h-1zm3 0h33v1h-33zm34 0h1v1h-1zm-37 1h3v1h-3zm4 0h34v1h-34zm-6 1h1v1h-1zm2 0h6v1h-6zm7 0h31v1h-31zm-10 1h1v1h-1zm4 0h6v1h-6zm7 0h31v1h-31zm-6 1h2v1h-2zm3 0h31v1h-31zm-8 1h1v1h-1zm4 0h1v1h-1zm2 0h2v1h-2zm3 0h2v1h-2zm3 0h2v1h-2zm3 0h1v1h-1zm2 0h19v1h-19zm20 0h3v1h-3zm4 0h1v1h-1zm-40 1h1v1h-1zm3 0h1v1h-1zm2 0h2v1h-2zm3 0h23v1h-23zm24 0h2v1h-2zm3 0h1v1h-1zm2 0h1v1h-1zm-37 1h1v1h-1zm7 0h1v1h-1zm2 0h1v1h-1zm4 0h26v1h-26zm-11 1h2v1h-2zm9 0h3v1h-3zm4 0h4v1h-4zm5 0h8v1h-8zm11 0h1v1h-1zm3 0h3v1h-3zm-27 1h2v1h-2zm6 0h1v1h-1zm3 0h1v1h-1zm3 0h2v1h-2zm3 0h3v1h-3zm6 0h5v1h-5zm6 0h1v1h-1zm2 0h1v1h-1zm-28 1h1v1h-1zm2 0h1v1h-1zm3 0h3v1h-3zm6 0h6v1h-6zm7 0h1v1h-1zm5 0h3v1h-3zm5 0h2v1h-2zm-32 1h1v1h-1zm4 0h1v1h-1zm2 0h2v1h-2zm4 0h4v1h-4zm5 0h1v1h-1zm2 0h6v1h-6zm7 0h1v1h-1zm2 0h6v1h-6zm-28 1h1v1h-1zm5 0h1v1h-1zm4 0h2v1h-2zm4 0h1v1h-1zm3 0h4v1h-4zm6 0h1v1h-1zm3 0h2v1h-2zm3 0h1v1h-1zm2 0h1v1h-1zm2 0h1v1h-1zm2 0h1v1h-1zm-18 1h1v1h-1zm3 0h5v1h-5zm6 0h1v1h-1zm2 0h1v1h-1zm7 0h1v1h-1zm-29 1h1v1h-1zm2 0h1v1h-1zm3 0h1v1h-1zm2 0h1v1h-1zm2 0h2v1h-2zm3 0h1v1h-1zm2 0h1v1h-1zm3 0h4v1h-4zm5 0h6v1h-6zm8 0h2v1h-2zm-34 1h1v1h-1zm4 0h1v1h-1zm3 0h1v1h-1zm5 0h2v1h-2zm5 0h1v1h-1zm2 0h1v1h-1zm2 0h4v1h-4zm6 0h2v1h-2zm3 0h1v1h-1zm-26 1h1v1h-1zm6 0h2v1h-2zm5 0h1v1h-1zm2 0h8v1h-8zm9 0h2v1h-2zm3 0h1v1h-1zm2 0h3v1h-3zm4 0h1v1h-1zm-35 1h1v1h-1zm14 0h2v1h-2zm3 0h2v1h-2zm4 0h1v1h-1zm2 0h1v1h-1zm5 0h3v1h-3zm-25 1h1v1h-1zm2 0h1v1h-1zm9 0h1v1h-1zm2 0h3v1h-3zm4 0h1v1h-1zm2 0h5v1h-5zm6 0h1v1h-1zm6 0h1v1h-1zm-28 1h1v1h-1zm2 0h4v1h-4zm7 0h2v1h-2zm3 0h3v1h-3zm4 0h1v1h-1zm2 0h1v1h-1zm2 0h1v1h-1zm2 0h1v1h-1zm3 0h1v1h-1zm6 0h1v1h-1zm-40 1h1v1h-1zm3 0h1v1h-1zm11 0h2v1h-2zm3 0h3v1h-3zm4 0h2v1h-2zm3 0h3v1h-3zm4 0h4v1h-4zm-20 1h1v1h-1zm5 0h2v1h-2zm4 0h2v1h-2zm3 0h1v1h-1zm4 0h1v1h-1zm3 0h1v1h-1zm2 0h1v1h-1zm2 0h3v1h-3zm4 0h1v1h-1zm-30 1h1v1h-1zm2 0h1v1h-1zm5 0h1v1h-1zm9 0h1v1h-1zm3 0h2v1h-2zm3 0h1v1h-1zm2 0h3v1h-3zm5 0h1v1h-1zm-29 1h1v1h-1zm2 0h1v1h-1zm5 0h1v1h-1zm5 0h3v1h-3zm4 0h2v1h-2zm3 0h1v1h-1zm2 0h3v1h-3zm5 0h2v1h-2zm5 0h1v1h-1zm-28 1h1v1h-1zm6 0h2v1h-2zm7 0h1v1h-1zm3 0h2v1h-2zm3 0h3v1h-3zm5 0h1v1h-1zm2 0h1v1h-1zm4 0h2v1h-2zm-29 1h2v1h-2zm3 0h1v1h-1zm2 0h1v1h-1zm3 0h1v1h-1zm2 0h3v1h-3zm4 0h1v1h-1zm2 0h1v1h-1zm2 0h4v1h-4zm-18 1h1v1h-1zm2 0h2v1h-2zm3 0h5v1h-5zm6 0h2v1h-2zm3 0h1v1h-1zm2 0h1v1h-1zm2 0h3v1h-3zm5 0h1v1h-1zm6 0h1v1h-1zm2 0h1v1h-1zm-33 1h1v1h-1zm5 0h1v1h-1zm4 0h2v1h-2zm4 0h2v1h-2zm4 0h5v1h-5zm6 0h1v1h-1zm2 0h3v1h-3zm4 0h2v1h-2zm-33 1h3v1h-3zm4 0h2v1h-2zm8 0h1v1h-1zm2 0h7v1h-7zm8 0h2v1h-2zm3 0h3v1h-3zm4 0h2v1h-2zm3 0h2v1h-2zm3 0h2v1h-2zm-39 1h1v1h-1zm10 0h4v1h-4zm6 0h1v1h-1zm2 0h3v1h-3zm7 0h4v1h-4zm6 0h2v1h-2zm5 0h1v1h-1zm-31 1h1v1h-1zm7 0h2v1h-2zm5 0h1v1h-1zm2 0h1v1h-1zm3 0h2v1h-2zm4 0h2v1h-2zm3 0h1v1h-1zm2 0h2v1h-2zm3 0h2v1h-2zm3 0h1v1h-1zm3 0h1v1h-1zm3 0h1v1h-1zm-43 1h1v1h-1zm3 0h1v1h-1zm5 0h1v1h-1zm5 0h3v1h-3zm5 0h2v1h-2zm3 0h1v1h-1zm2 0h3v1h-3zm6 0h1v1h-1zm2 0h1v1h-1zm2 0h2v1h-2zm3 0h3v1h-3zm7 0h1v1h-1zm-30 1h1v1h-1zm3 0h1v1h-1zm2 0h1v1h-1zm3 0h1v1h-1zm2 0h2v1h-2zm3 0h2v1h-2zm3 0h4v1h-4zm6 0h1v1h-1zm3 0h1v1h-1zm5 0h1v1h-1zm-41 1h1v1h-1zm6 0h1v1h-1zm4 0h2v1h-2zm4 0h3v1h-3zm4 0h1v1h-1zm2 0h1v1h-1zm2 0h1v1h-1zm5 0h2v1h-2zm4 0h3v1h-3zm4 0h2v1h-2zm-30 1h1v1h-1zm5 0h1v1h-1zm2 0h3v1h-3zm5 0h4v1h-4zm5 0h4v1h-4zm10 0h2v1h-2zm10 0h1v1h-1zm-43 1h1v1h-1zm7 0h1v1h-1zm3 0h1v1h-1zm2 0h1v1h-1zm2 0h1v1h-1zm2 0h2v1h-2zm6 0h2v1h-2zm3 0h1v1h-1zm2 0h2v1h-2zm3 0h1v1h-1zm4 0h1v1h-1zm2 0h1v1h-1zm2 0h2v1h-2zm-34 1h1v1h-1zm10 0h1v1h-1zm2 0h2v1h-2zm5 0h9v1h-9zm10 0h3v1h-3zm4 0h1v1h-1zm2 0h1v1h-1zm-29 1h2v1h-2zm3 0h1v1h-1zm3 0h1v1h-1zm5 0h1v1h-1zm2 0h1v1h-1zm2 0h3v1h-3zm4 0h4v1h-4zm5 0h1v1h-1zm4 0h1v1h-1zm-36 1h1v1h-1zm6 0h1v1h-1zm6 0h1v1h-1zm3 0h1v1h-1zm3 0h3v1h-3zm6 0h9v1h-9zm11 0h5v1h-5zm-27 1h1v1h-1zm4 0h1v1h-1zm2 0h2v1h-2zm6 0h1v1h-1zm2 0h3v1h-3zm4 0h5v1h-5zm7 0h3v1h-3zm4 0h1v1h-1zm-35 1h1v1h-1zm3 0h1v1h-1zm2 0h1v1h-1zm8 0h3v1h-3zm6 0h2v1h-2zm4 0h2v1h-2zm3 0h3v1h-3zm5 0h4v1h-4zm-27 1h1v1h-1zm8 0h1v1h-1zm5 0h1v1h-1zm2 0h8v1h-8zm9 0h2v1h-2zm5 0h1v1h-1zm2 0h1v1h-1zm-36 1h1v1h-1zm2 0h1v1h-1zm5 0h1v1h-1zm2 0h1v1h-1zm8 0h1v1h-1zm5 0h1v1h-1zm2 0h4v1h-4zm5 0h1v1h-1zm2 0h1v1h-1zm2 0h1v1h-1zm-25 1h1v1h-1zm2 0h2v1h-2zm4 0h3v1h-3zm5 0h1v1h-1zm2 0h1v1h-1zm2 0h4v1h-4zm11 0h3v1h-3zm-28 1h1v1h-1zm6 0h1v1h-1zm2 0h1v1h-1zm3 0h1v1h-1zm2 0h1v1h-1zm2 0h1v1h-1zm5 0h5v1h-5zm6 0h1v1h-1zm2 0h2v1h-2zm5 0h1v1h-1zm4 0h1v1h-1zm-39 1h2v1h-2zm4 0h1v1h-1zm4 0h1v1h-1zm3 0h3v1h-3zm4 0h2v1h-2zm3 0h2v1h-2zm3 0h6v1h-6zm8 0h1v1h-1zm3 0h1v1h-1zm-38 1h1v1h-1zm18 0h3v1h-3zm5 0h3v1h-3zm4 0h2v1h-2zm3 0h7v1h-7zm-30 1h1v1h-1zm3 0h1v1h-1zm7 0h1v1h-1zm2 0h2v1h-2zm6 0h3v1h-3zm4 0h2v1h-2zm3 0h2v1h-2zm3 0h1v1h-1zm2 0h2v1h-2zm3 0h1v1h-1zm3 0h1v1h-1zm4 0h2v1h-2zm3 0h1v1h-1zm-42 1h1v1h-1zm11 0h1v1h-1zm5 0h1v1h-1zm3 0h2v1h-2zm4 0h2v1h-2zm3 0h1v1h-1zm2 0h1v1h-1zm3 0h3v1h-3zm4 0h2v1h-2zm3 0h1v1h-1zm4 0h1v1h-1zm-42 1h1v1h-1zm6 0h1v1h-1zm6 0h2v1h-2zm4 0h1v1h-1zm3 0h2v1h-2zm4 0h1v1h-1zm2 0h3v1h-3zm11 0h1v1h-1zm-35 1h1v1h-1zm5 0h1v1h-1zm11 0h3v1h-3zm5 0h6v1h-6zm7 0h3v1h-3zm4 0h2v1h-2zm4 0h1v1h-1zm-37 1h1v1h-1zm6 0h1v1h-1zm2 0h1v1h-1zm2 0h1v1h-1zm2 0h1v1h-1zm3 0h11v1h-11zm13 0h1v1h-1zm2 0h2v1h-2zm5 0h1v1h-1zm4 0h1v1h-1zm-35 1h1v1h-1zm4 0h2v1h-2zm4 0h1v1h-1zm2 0h1v1h-1zm2 0h1v1h-1zm2 0h1v1h-1zm3 0h4v1h-4zm6 0h1v1h-1zm2 0h2v1h-2zm3 0h3v1h-3zm4 0h2v1h-2zm6 0h1v1h-1zm-40 1h1v1h-1zm10 0h2v1h-2zm3 0h2v1h-2zm5 0h1v1h-1zm2 0h2v1h-2zm3 0h4v1h-4zm6 0h2v1h-2zm3 0h1v1h-1zm3 0h1v1h-1zm-29 1h4v1h-4zm11 0h1v1h-1zm2 0h1v1h-1zm2 0h4v1h-4zm5 0h4v1h-4zm5 0h1v1h-1zm-23 1h1v1h-1zm2 0h2v1h-2zm5 0h5v1h-5zm7 0h3v1h-3zm8 0h5v1h-5zm9 0h1v1h-1zm-29 1h1v1h-1zm2 0h1v1h-1zm2 0h2v1h-2zm7 0h2v1h-2zm3 0h1v1h-1zm3 0h4v1h-4zm8 0h1v1h-1zm7 0h1v1h-1zm-42 1h2v1h-2zm6 0h1v1h-1zm4 0h2v1h-2zm6 0h2v1h-2zm5 0h2v1h-2zm3 0h2v1h-2zm5 0h2v1h-2zm-24 1h1v1h-1zm6 0h2v1h-2zm3 0h3v1h-3zm5 0h1v1h-1zm2 0h1v1h-1zm3 0h1v1h-1zm3 0h5v1h-5zm9 0h1v1h-1zm-29 1h1v1h-1zm9 0h4v1h-4zm6 0h1v1h-1zm3 0h4v1h-4zm10 0h2v1h-2zm7 0h1v1h-1zm-41 1h1v1h-1zm5 0h1v1h-1zm2 0h1v1h-1zm2 0h1v1h-1zm5 0h1v1h-1zm3 0h1v1h-1zm2 0h1v1h-1zm3 0h2v1h-2zm3 0h3v1h-3zm5 0h1v1h-1zm2 0h2v1h-2zm-36 1h1v1h-1zm8 0h1v1h-1zm3 0h1v1h-1zm2 0h2v1h-2zm3 0h1v1h-1zm2 0h1v1h-1zm2 0h1v1h-1zm2 0h1v1h-1zm2 0h1v1h-1zm2 0h1v1h-1zm2 0h1v1h-1zm3 0h1v1h-1zm2 0h3v1h-3zm5 0h1v1h-1zm2 0h1v1h-1zm-33 1h1v1h-1zm8 0h1v1h-1zm2 0h1v1h-1zm2 0h1v1h-1zm2 0h1v1h-1zm2 0h4v1h-4zm5 0h1v1h-1zm2 0h1v1h-1zm6 0h1v1h-1zm10 0h1v1h-1zm-46 1h1v1h-1zm4 0h1v1h-1zm10 0h1v1h-1zm4 0h1v1h-1zm4 0h4v1h-4zm5 0h1v1h-1zm3 0h3v1h-3zm5 0h1v1h-1zm-35 1h1v1h-1zm13 0h1v1h-1zm3 0h2v1h-2zm4 0h3v1h-3zm5 0h3v1h-3zm5 0h3v1h-3zm6 0h1v1h-1zm-29 1h2v1h-2zm5 0h1v1h-1zm2 0h6v1h-6zm7 0h3v1h-3zm4 0h2v1h-2zm3 0h1v1h-1zm4 0h2v1h-2zm-30 1h1v1h-1zm15 0h1v1h-1zm2 0h1v1h-1zm2 0h4v1h-4zm5 0h5v1h-5zm7 0h2v1h-2zm-31 1h1v1h-1zm10 0h1v1h-1zm2 0h2v1h-2zm4 0h1v1h-1zm2 0h2v1h-2zm3 0h2v1h-2zm3 0h1v1h-1zm3 0h3v1h-3zm5 0h1v1h-1zm6 0h1v1h-1zm-36 1h1v1h-1zm9 0h1v1h-1zm5 0h4v1h-4zm5 0h7v1h-7zm9 0h4v1h-4zm6 0h1v1h-1zm-38 1h1v1h-1zm12 0h1v1h-1zm4 0h5v1h-5zm6 0h5v1h-5zm6 0h4v1h-4zm7 0h1v1h-1zm3 0h1v1h-1zm3 0h1v1h-1zm-37 1h3v1h-3zm12 0h2v1h-2zm3 0h13v1h-13zm15 0h3v1h-3zm-20 1h2v1h-2zm3 0h16v1h-16zm17 0h3v1h-3zm4 0h1v1h-1zm2 0h1v1h-1zm-33 1h1v1h-1zm2 0h1v1h-1zm4 0h1v1h-1zm2 0h4v1h-4zm5 0h16v1h-16zm-18 1h1v1h-1zm7 0h3v1h-3zm5 0h14v1h-14zm15 0h2v1h-2zm3 0h1v1h-1zm2 0h2v1h-2zm3 0h2v1h-2zm-27 1h1v1h-1zm2 0h4v1h-4zm6 0h18v1h-18zm20 0h1v1h-1zm-31 1h1v1h-1zm7 0h23v1h-23zm24 0h1v1h-1zm2 0h1v1h-1zm3 0h1v1h-1zm-34 1h4v1h-4zm5 0h12v1h-12zm13 0h9v1h-9zm10 0h3v1h-3zm-30 1h1v1h-1zm2 0h2v1h-2zm3 0h2v1h-2zm3 0h1v1h-1zm2 0h19v1h-19zm22 0h1v1h-1zm4 0h1v1h-1zm-37 1h1v1h-1zm3 0h1v1h-1zm3 0h5v1h-5zm6 0h1v1h-1zm2 0h15v1h-15zm16 0h1v1h-1zm3 0h3v1h-3zm-31 1h2v1h-2zm3 0h1v1h-1zm2 0h8v1h-8zm9 0h12v1h-12zm13 0h2v1h-2zm3 0h1v1h-1zm4 0h1v1h-1zm2 0h1v1h-1zm-36 1h2v1h-2zm3 0h3v1h-3zm5 0h3v1h-3zm4 0h17v1h-17zm21 0h1v1h-1zm-32 1h1v1h-1zm2 0h23v1h-23zm24 0h4v1h-4zm5 0h1v1h-1zm5 0h1v1h-1zm-44 1h1v1h-1zm2 0h1v1h-1zm2 0h1v1h-1zm3 0h1v1h-1zm3 0h1v1h-1zm2 0h29v1h-29zm-6 1h1v1h-1zm2 0h27v1h-27zm28 0h1v1h-1zm2 0h1v1h-1zm-37 1h2v1h-2zm4 0h2v1h-2zm4 0h1v1h-1zm2 0h3v1h-3zm4 0h23v1h-23zm24 0h1v1h-1zm-36 1h2v1h-2zm4 0h1v1h-1zm2 0h1v1h-1zm2 0h28v1h-28zm-6 1h1v1h-1zm2 0h1v1h-1zm2 0h2v1h-2zm3 0h27v1h-27zm29 0h1v1h-1zm-38 1h2v1h-2zm4 0h2v1h-2zm3 0h27v1h-27zm28 0h1v1h-1zm-39 1h1v1h-1zm2 0h1v1h-1zm3 0h34v1h-34zm35 0h1v1h-1zm-40 1h1v1h-1zm4 0h3v1h-3zm4 0h1v1h-1zm3 0h30v1h-30zm31 0h1v1h-1zm2 0h1v1h-1zm-44 1h1v1h-1zm10 0h30v1h-30zm31 0h1v1h-1zm-33 1h1v1h-1zm2 0h31v1h-31zm32 0h1v1h-1zm-38 1h1v1h-1zm2 0h3v1h-3zm4 0h28v1h-28zm30 0h4v1h-4zm-33 1h6v1h-6zm7 0h23v1h-23zm24 0h1v1h-1zm2 0h1v1h-1zm-38 1h1v1h-1zm5 0h3v1h-3zm4 0h26v1h-26zm28 0h1v1h-1zm-32 1h2v1h-2zm3 0h1v1h-1zm2 0h23v1h-23zm24 0h2v1h-2zm3 0h1v1h-1zm3 0h1v1h-1zm-42 1h1v1h-1zm4 0h2v1h-2zm4 0h2v1h-2zm3 0h1v1h-1zm2 0h27v1h-27zm28 0h3v1h-3zm-38 1h1v1h-1zm5 0h20v1h-20zm21 0h10v1h-10zm11 0h1v1h-1zm2 0h1v1h-1zm3 0h1v1h-1zm-35 1h31v1h-31zm32 0h1v1h-1zm5 0h1v1h-1z" fill="#080808"/><path d="M146 468h2v2h-2zM154 535h2v2h-2zM146 548h2v2h-2zM145 549h2v2h-2zM160 561h2v2h-2zM147 585h2v2h-2z" fill="#bdbdbd"/>
<path d="M93.5 445.5H239.5V593.5H93.5ZM141.5 445.5V593.5M93.5 552.5H239.5" stroke="#262626" stroke-width="1.15" fill="none"/>
<path d="M91.0 556.5h2.5M129.5 593.5v2.5M91.0 519.5h2.5M166.5 593.5v2.5M91.0 482.5h2.5M202.5 593.5v2.5" stroke="#333" stroke-width="1" fill="none"/>
<text transform="translate(89.4 592.2) rotate(-90)" style="font-family:'Liberation Sans',sans-serif;font-size:6.8px;font-weight:bold" fill="#333">10<tspan dy="-2.6" font-size="4.5px">0</tspan></text>
<text x="93" y="602.7" style="font-family:'Liberation Sans',sans-serif;font-size:6.8px;font-weight:bold" fill="#333">10<tspan dy="-2.6" font-size="4.5px">0</tspan></text>
<text transform="translate(89.4 555.2) rotate(-90)" style="font-family:'Liberation Sans',sans-serif;font-size:6.8px;font-weight:bold" fill="#333">10<tspan dy="-2.6" font-size="4.5px">1</tspan></text>
<text x="129.6" y="602.7" style="font-family:'Liberation Sans',sans-serif;font-size:6.8px;font-weight:bold" fill="#333">10<tspan dy="-2.6" font-size="4.5px">1</tspan></text>
<text transform="translate(89.4 518.3) rotate(-90)" style="font-family:'Liberation Sans',sans-serif;font-size:6.8px;font-weight:bold" fill="#333">10<tspan dy="-2.6" font-size="4.5px">2</tspan></text>
<text x="166.2" y="602.7" style="font-family:'Liberation Sans',sans-serif;font-size:6.8px;font-weight:bold" fill="#333">10<tspan dy="-2.6" font-size="4.5px">2</tspan></text>
<text transform="translate(89.4 481.4) rotate(-90)" style="font-family:'Liberation Sans',sans-serif;font-size:6.8px;font-weight:bold" fill="#333">10<tspan dy="-2.6" font-size="4.5px">3</tspan></text>
<text x="202.8" y="602.7" style="font-family:'Liberation Sans',sans-serif;font-size:6.8px;font-weight:bold" fill="#333">10<tspan dy="-2.6" font-size="4.5px">3</tspan></text>
<text transform="translate(89.4 444.4) rotate(-90)" style="font-family:'Liberation Sans',sans-serif;font-size:6.8px;font-weight:bold" fill="#333">10<tspan dy="-2.6" font-size="4.5px">4</tspan></text>
<text x="239.4" y="602.7" style="font-family:'Liberation Sans',sans-serif;font-size:6.8px;font-weight:bold" fill="#333">10<tspan dy="-2.6" font-size="4.5px">4</tspan></text>
<text transform="translate(84.2 519.3) rotate(-90)" text-anchor="middle" style="font-family:'Liberation Sans',sans-serif;font-size:6.4px;font-weight:bold" fill="#222">CD8 APC</text>
<text x="164.7" y="609.5" text-anchor="middle" style="font-family:'Liberation Sans',sans-serif;font-size:5.8px;font-weight:bold" fill="#222">IFNg FITC</text>
<text x="186.9" y="548.3" style="font-family:'Liberation Serif',serif;stroke:#111;stroke-width:0.3px;font-size:16px" fill="#111">0.06%</text>
<path d="M285 468h1v1h-1zm9 0h1v1h-1zm6 0h1v1h-1zm-7 1h2v1h-2zm3 0h1v1h-1zm2 0h3v1h-3zm9 0h4v1h-4zm-25 1h1v1h-1zm2 0h1v1h-1zm3 0h1v1h-1zm4 0h1v1h-1zm3 0h3v1h-3zm6 0h2v1h-2zm4 0h1v1h-1zm4 0h1v1h-1zm5 0h1v1h-1zm-33 1h2v1h-2zm3 0h1v1h-1zm2 0h1v1h-1zm2 0h1v1h-1zm4 0h1v1h-1zm2 0h1v1h-1zm3 0h3v1h-3zm4 0h7v1h-7zm8 0h1v1h-1zm3 0h1v1h-1zm9 0h1v1h-1zm-38 1h5v1h-5zm7 0h21v1h-21zm23 0h5v1h-5zm-33 1h1v1h-1zm3 0h6v1h-6zm7 0h4v1h-4zm5 0h24v1h-24zm-16 1h3v1h-3zm4 0h5v1h-5zm6 0h26v1h-26zm27 0h1v1h-1zm2 0h1v1h-1zm-41 1h1v1h-1zm3 0h2v1h-2zm3 0h38v1h-38zm-5 1h1v1h-1zm3 0h39v1h-39zm-3 1h2v1h-2zm3 0h1v1h-1zm2 0h35v1h-35zm36 0h1v1h-1zm-41 1h2v1h-2zm4 0h37v1h-37zm-5 1h2v1h-2zm3 0h39v1h-39zm-4 1h7v1h-7zm8 0h36v1h-36zm-8 1h1v1h-1zm2 0h40v1h-40zm41 0h1v1h-1zm-40 1h4v1h-4zm5 0h35v1h-35zm-7 1h1v1h-1zm2 0h40v1h-40zm41 0h1v1h-1zm-41 1h1v1h-1zm2 0h39v1h-39zm-4 1h3v1h-3zm4 0h38v1h-38zm40 0h1v1h-1zm-45 1h44v1h-44zm1 1h1v1h-1zm3 0h39v1h-39zm40 0h1v1h-1zm-44 1h11v1h-11zm12 0h32v1h-32zm-12 1h3v1h-3zm4 0h41v1h-41zm-1 1h3v1h-3zm4 0h2v1h-2zm3 0h32v1h-32zm-7 1h1v1h-1zm2 0h33v1h-33zm34 0h4v1h-4zm5 0h1v1h-1zm-43 1h1v1h-1zm2 0h8v1h-8zm9 0h31v1h-31zm32 0h1v1h-1zm-41 1h1v1h-1zm4 0h34v1h-34zm36 0h2v1h-2zm-42 1h1v1h-1zm3 0h3v1h-3zm4 0h26v1h-26zm27 0h8v1h-8zm-32 1h2v1h-2zm3 0h1v1h-1zm2 0h2v1h-2zm3 0h32v1h-32zm-8 1h1v1h-1zm2 0h6v1h-6zm7 0h29v1h-29zm-4 1h25v1h-25zm26 0h6v1h-6zm9 0h1v1h-1zm2 0h1v1h-1zm-38 1h3v1h-3zm4 0h13v1h-13zm14 0h10v1h-10zm12 0h2v1h-2zm3 0h3v1h-3zm-38 1h1v1h-1zm8 0h1v1h-1zm6 0h2v1h-2zm4 0h7v1h-7zm8 0h7v1h-7zm8 0h5v1h-5zm6 0h1v1h-1zm-38 1h1v1h-1zm6 0h1v1h-1zm2 0h1v1h-1zm3 0h8v1h-8zm9 0h9v1h-9zm10 0h2v1h-2zm3 0h1v1h-1zm2 0h3v1h-3zm-31 1h2v1h-2zm3 0h1v1h-1zm2 0h1v1h-1zm2 0h4v1h-4zm5 0h11v1h-11zm16 0h1v1h-1zm3 0h1v1h-1zm-23 1h3v1h-3zm4 0h4v1h-4zm5 0h6v1h-6zm8 0h2v1h-2zm5 0h1v1h-1zm2 0h1v1h-1zm-36 1h1v1h-1zm7 0h1v1h-1zm2 0h1v1h-1zm2 0h3v1h-3zm5 0h3v1h-3zm4 0h1v1h-1zm3 0h4v1h-4zm7 0h1v1h-1zm3 0h1v1h-1zm5 0h1v1h-1zm-31 1h1v1h-1zm9 0h2v1h-2zm3 0h2v1h-2zm5 0h2v1h-2zm3 0h2v1h-2zm3 0h1v1h-1zm2 0h2v1h-2zm-29 1h1v1h-1zm5 0h1v1h-1zm4 0h1v1h-1zm4 0h5v1h-5zm7 0h1v1h-1zm2 0h4v1h-4zm10 0h1v1h-1zm-21 1h1v1h-1zm3 0h5v1h-5zm6 0h3v1h-3zm4 0h1v1h-1zm5 0h1v1h-1zm-20 1h1v1h-1zm4 0h3v1h-3zm7 0h3v1h-3zm4 0h1v1h-1zm3 0h1v1h-1zm2 0h1v1h-1zm2 0h1v1h-1zm-35 1h2v1h-2zm6 0h1v1h-1zm8 0h1v1h-1zm3 0h2v1h-2zm5 0h2v1h-2zm8 0h2v1h-2zm3 0h3v1h-3zm6 0h1v1h-1zm-39 1h1v1h-1zm2 0h1v1h-1zm4 0h2v1h-2zm7 0h1v1h-1zm2 0h1v1h-1zm2 0h1v1h-1zm2 0h1v1h-1zm2 0h1v1h-1zm2 0h1v1h-1zm2 0h1v1h-1zm2 0h3v1h-3zm-24 1h1v1h-1zm4 0h1v1h-1zm2 0h2v1h-2zm3 0h6v1h-6zm8 0h2v1h-2zm6 0h2v1h-2zm3 0h1v1h-1zm5 0h1v1h-1zm-35 1h1v1h-1zm10 0h1v1h-1zm2 0h1v1h-1zm2 0h2v1h-2zm3 0h1v1h-1zm4 0h1v1h-1zm3 0h1v1h-1zm2 0h1v1h-1zm2 0h1v1h-1zm2 0h2v1h-2zm4 0h3v1h-3zm-32 1h2v1h-2zm3 0h1v1h-1zm5 0h1v1h-1zm3 0h1v1h-1zm2 0h2v1h-2zm4 0h2v1h-2zm3 0h1v1h-1zm3 0h2v1h-2zm4 0h1v1h-1zm3 0h1v1h-1zm-34 1h1v1h-1zm3 0h1v1h-1zm6 0h1v1h-1zm3 0h2v1h-2zm7 0h1v1h-1zm2 0h3v1h-3zm5 0h1v1h-1zm5 0h1v1h-1zm3 0h2v1h-2zm3 0h1v1h-1zm4 0h1v1h-1zm-26 1h1v1h-1zm6 0h1v1h-1zm2 0h3v1h-3zm5 0h4v1h-4zm5 0h1v1h-1zm4 0h1v1h-1zm4 0h1v1h-1zm-38 1h1v1h-1zm3 0h1v1h-1zm3 0h1v1h-1zm2 0h1v1h-1zm2 0h1v1h-1zm2 0h6v1h-6zm11 0h1v1h-1zm4 0h1v1h-1zm2 0h1v1h-1zm7 0h1v1h-1zm-28 1h1v1h-1zm3 0h2v1h-2zm4 0h2v1h-2zm3 0h1v1h-1zm4 0h2v1h-2zm6 0h1v1h-1zm10 0h1v1h-1zm-32 1h2v1h-2zm4 0h1v1h-1zm3 0h4v1h-4zm6 0h2v1h-2zm3 0h2v1h-2zm3 0h2v1h-2zm5 0h1v1h-1zm4 0h2v1h-2zm3 0h1v1h-1zm-39 1h1v1h-1zm4 0h1v1h-1zm7 0h2v1h-2zm3 0h4v1h-4zm5 0h1v1h-1zm4 0h3v1h-3zm6 0h1v1h-1zm2 0h1v1h-1zm4 0h1v1h-1zm3 0h2v1h-2zm-35 1h1v1h-1zm5 0h1v1h-1zm2 0h1v1h-1zm2 0h2v1h-2zm7 0h1v1h-1zm3 0h1v1h-1zm2 0h3v1h-3zm4 0h1v1h-1zm2 0h4v1h-4zm6 0h2v1h-2zm-37 1h1v1h-1zm9 0h2v1h-2zm8 0h2v1h-2zm4 0h4v1h-4zm5 0h1v1h-1zm2 0h4v1h-4zm6 0h1v1h-1zm2 0h1v1h-1zm-35 1h1v1h-1zm7 0h1v1h-1zm3 0h1v1h-1zm5 0h1v1h-1zm2 0h1v1h-1zm2 0h1v1h-1zm3 0h1v1h-1zm2 0h4v1h-4zm5 0h1v1h-1zm2 0h1v1h-1zm2 0h3v1h-3zm-29 1h1v1h-1zm11 0h2v1h-2zm3 0h2v1h-2zm3 0h1v1h-1zm2 0h6v1h-6zm8 0h1v1h-1zm2 0h1v1h-1zm2 0h1v1h-1zm2 0h1v1h-1zm4 0h1v1h-1zm-39 1h1v1h-1zm9 0h1v1h-1zm3 0h1v1h-1zm2 0h5v1h-5zm6 0h1v1h-1zm2 0h1v1h-1zm2 0h3v1h-3zm4 0h1v1h-1zm2 0h5v1h-5zm-28 1h2v1h-2zm6 0h1v1h-1zm3 0h2v1h-2zm3 0h1v1h-1zm4 0h5v1h-5zm6 0h5v1h-5zm9 0h3v1h-3zm5 0h1v1h-1zm-35 1h1v1h-1zm2 0h1v1h-1zm6 0h6v1h-6zm9 0h5v1h-5zm6 0h1v1h-1zm3 0h1v1h-1zm2 0h1v1h-1zm4 0h1v1h-1zm-31 1h1v1h-1zm2 0h5v1h-5zm7 0h3v1h-3zm5 0h1v1h-1zm2 0h3v1h-3zm8 0h2v1h-2zm5 0h1v1h-1zm-32 1h1v1h-1zm3 0h1v1h-1zm2 0h2v1h-2zm6 0h1v1h-1zm2 0h1v1h-1zm4 0h6v1h-6zm7 0h1v1h-1zm2 0h2v1h-2zm3 0h1v1h-1zm2 0h1v1h-1zm2 0h1v1h-1zm2 0h1v1h-1zm-36 1h1v1h-1zm5 0h2v1h-2zm4 0h3v1h-3zm6 0h1v1h-1zm7 0h4v1h-4zm7 0h1v1h-1zm2 0h3v1h-3zm-32 1h1v1h-1zm2 0h2v1h-2zm3 0h1v1h-1zm3 0h1v1h-1zm2 0h1v1h-1zm2 0h3v1h-3zm5 0h1v1h-1zm3 0h1v1h-1zm2 0h1v1h-1zm2 0h1v1h-1zm2 0h1v1h-1zm6 0h1v1h-1zm4 0h3v1h-3zm-37 1h1v1h-1zm3 0h1v1h-1zm5 0h1v1h-1zm3 0h1v1h-1zm6 0h1v1h-1zm2 0h5v1h-5zm11 0h1v1h-1zm4 0h1v1h-1zm2 0h1v1h-1zm6 0h1v1h-1zm-35 1h2v1h-2zm3 0h1v1h-1zm3 0h2v1h-2zm3 0h1v1h-1zm4 0h2v1h-2zm4 0h2v1h-2zm4 0h1v1h-1zm2 0h5v1h-5zm7 0h1v1h-1zm-34 1h1v1h-1zm3 0h1v1h-1zm4 0h1v1h-1zm3 0h1v1h-1zm2 0h1v1h-1zm7 0h2v1h-2zm3 0h3v1h-3zm5 0h3v1h-3zm6 0h1v1h-1zm-21 1h1v1h-1zm2 0h4v1h-4zm6 0h1v1h-1zm2 0h2v1h-2zm8 0h3v1h-3zm6 0h1v1h-1zm-35 1h1v1h-1zm5 0h2v1h-2zm3 0h5v1h-5zm6 0h1v1h-1zm2 0h2v1h-2zm3 0h1v1h-1zm3 0h3v1h-3zm5 0h1v1h-1zm3 0h1v1h-1zm3 0h2v1h-2zm7 0h1v1h-1zm-42 1h1v1h-1zm2 0h1v1h-1zm2 0h2v1h-2zm6 0h2v1h-2zm6 0h1v1h-1zm4 0h2v1h-2zm3 0h1v1h-1zm3 0h1v1h-1zm2 0h2v1h-2zm4 0h2v1h-2zm-35 1h2v1h-2zm5 0h1v1h-1zm2 0h1v1h-1zm7 0h11v1h-11zm12 0h1v1h-1zm2 0h1v1h-1zm2 0h2v1h-2zm3 0h1v1h-1zm3 0h1v1h-1zm-36 1h3v1h-3zm5 0h1v1h-1zm5 0h1v1h-1zm5 0h1v1h-1zm3 0h1v1h-1zm2 0h2v1h-2zm3 0h1v1h-1zm2 0h3v1h-3zm4 0h3v1h-3zm4 0h1v1h-1zm3 0h1v1h-1zm2 0h2v1h-2zm-28 1h3v1h-3zm4 0h2v1h-2zm3 0h3v1h-3zm5 0h2v1h-2zm3 0h1v1h-1zm4 0h3v1h-3zm4 0h1v1h-1zm2 0h2v1h-2zm6 0h2v1h-2zm-41 1h2v1h-2zm5 0h1v1h-1zm4 0h1v1h-1zm2 0h1v1h-1zm4 0h2v1h-2zm3 0h2v1h-2zm3 0h2v1h-2zm4 0h2v1h-2zm3 0h2v1h-2zm3 0h1v1h-1zm2 0h1v1h-1zm3 0h3v1h-3zm6 0h1v1h-1zm-36 1h1v1h-1zm5 0h1v1h-1zm2 0h1v1h-1zm3 0h2v1h-2zm4 0h4v1h-4zm10 0h1v1h-1zm2 0h3v1h-3zm5 0h2v1h-2zm3 0h1v1h-1zm-38 1h1v1h-1zm4 0h1v1h-1zm5 0h2v1h-2zm3 0h6v1h-6zm7 0h1v1h-1zm3 0h3v1h-3zm5 0h1v1h-1zm3 0h4v1h-4zm7 0h2v1h-2zm-38 1h1v1h-1zm4 0h1v1h-1zm2 0h2v1h-2zm3 0h2v1h-2zm3 0h1v1h-1zm5 0h3v1h-3zm4 0h1v1h-1zm5 0h1v1h-1zm3 0h1v1h-1zm3 0h1v1h-1zm2 0h1v1h-1zm3 0h1v1h-1zm-38 1h1v1h-1zm2 0h2v1h-2zm4 0h1v1h-1zm3 0h2v1h-2zm3 0h1v1h-1zm2 0h3v1h-3zm4 0h1v1h-1zm3 0h1v1h-1zm2 0h2v1h-2zm3 0h3v1h-3zm4 0h3v1h-3zm8 0h1v1h-1zm4 0h1v1h-1zm-27 1h1v1h-1zm2 0h3v1h-3zm4 0h1v1h-1zm3 0h3v1h-3zm5 0h2v1h-2zm4 0h1v1h-1zm2 0h2v1h-2zm5 0h2v1h-2zm-37 1h1v1h-1zm3 0h1v1h-1zm3 0h1v1h-1zm2 0h1v1h-1zm6 0h3v1h-3zm5 0h1v1h-1zm2 0h1v1h-1zm2 0h1v1h-1zm3 0h1v1h-1zm2 0h5v1h-5zm6 0h1v1h-1zm2 0h1v1h-1zm2 0h1v1h-1zm-32 1h1v1h-1zm2 0h1v1h-1zm5 0h3v1h-3zm6 0h1v1h-1zm4 0h4v1h-4zm7 0h1v1h-1zm3 0h1v1h-1zm5 0h1v1h-1zm-33 1h1v1h-1zm7 0h3v1h-3zm4 0h1v1h-1zm3 0h2v1h-2zm3 0h1v1h-1zm3 0h1v1h-1zm2 0h1v1h-1zm5 0h2v1h-2zm3 0h1v1h-1zm5 0h1v1h-1zm-30 1h2v1h-2zm10 0h3v1h-3zm8 0h4v1h-4zm8 0h2v1h-2zm-38 1h1v1h-1zm15 0h1v1h-1zm2 0h2v1h-2zm3 0h2v1h-2zm3 0h1v1h-1zm6 0h1v1h-1zm4 0h1v1h-1zm2 0h3v1h-3zm-31 1h1v1h-1zm6 0h1v1h-1zm8 0h1v1h-1zm2 0h1v1h-1zm2 0h1v1h-1zm2 0h1v1h-1zm2 0h3v1h-3zm8 0h3v1h-3zm9 0h1v1h-1zm-43 1h2v1h-2zm11 0h1v1h-1zm2 0h2v1h-2zm6 0h1v1h-1zm2 0h1v1h-1zm2 0h1v1h-1zm3 0h1v1h-1zm2 0h3v1h-3zm10 0h2v1h-2zm-32 1h2v1h-2zm3 0h6v1h-6zm9 0h1v1h-1zm2 0h4v1h-4zm5 0h2v1h-2zm3 0h1v1h-1zm4 0h1v1h-1zm2 0h4v1h-4zm-29 1h1v1h-1zm3 0h2v1h-2zm3 0h1v1h-1zm2 0h1v1h-1zm3 0h1v1h-1zm2 0h3v1h-3zm4 0h3v1h-3zm5 0h1v1h-1zm9 0h2v1h-2zm-36 1h1v1h-1zm5 0h1v1h-1zm6 0h1v1h-1zm3 0h1v1h-1zm2 0h2v1h-2zm6 0h1v1h-1zm3 0h2v1h-2zm3 0h2v1h-2zm5 0h3v1h-3zm8 0h1v1h-1zm-30 1h1v1h-1zm4 0h2v1h-2zm3 0h1v1h-1zm6 0h4v1h-4zm5 0h1v1h-1zm7 0h2v1h-2zm3 0h3v1h-3zm7 0h1v1h-1zm-35 1h2v1h-2zm4 0h1v1h-1zm2 0h1v1h-1zm3 0h2v1h-2zm6 0h2v1h-2zm7 0h2v1h-2zm3 0h1v1h-1zm6 0h1v1h-1zm-42 1h1v1h-1zm10 0h1v1h-1zm2 0h3v1h-3zm7 0h1v1h-1zm3 0h2v1h-2zm3 0h2v1h-2zm3 0h3v1h-3zm4 0h1v1h-1zm4 0h1v1h-1zm-35 1h1v1h-1zm5 0h4v1h-4zm6 0h2v1h-2zm3 0h1v1h-1zm2 0h2v1h-2zm5 0h5v1h-5zm8 0h2v1h-2zm4 0h2v1h-2zm4 0h1v1h-1zm2 0h1v1h-1zm3 0h1v1h-1zm-29 1h4v1h-4zm5 0h4v1h-4zm5 0h7v1h-7zm17 0h1v1h-1zm-33 1h1v1h-1zm4 0h1v1h-1zm7 0h2v1h-2zm4 0h4v1h-4zm5 0h1v1h-1zm2 0h3v1h-3zm4 0h2v1h-2zm7 0h1v1h-1zm-41 1h2v1h-2zm10 0h1v1h-1zm3 0h2v1h-2zm3 0h4v1h-4zm6 0h3v1h-3zm4 0h4v1h-4zm6 0h3v1h-3zm4 0h3v1h-3zm-31 1h2v1h-2zm3 0h1v1h-1zm3 0h5v1h-5zm6 0h2v1h-2zm3 0h5v1h-5zm6 0h4v1h-4zm8 0h2v1h-2zm5 0h1v1h-1zm-37 1h1v1h-1zm5 0h3v1h-3zm5 0h1v1h-1zm2 0h2v1h-2zm5 0h1v1h-1zm2 0h7v1h-7zm8 0h4v1h-4zm5 0h1v1h-1zm2 0h1v1h-1zm3 0h1v1h-1zm-39 1h1v1h-1zm5 0h1v1h-1zm2 0h1v1h-1zm2 0h2v1h-2zm3 0h2v1h-2zm3 0h1v1h-1zm2 0h10v1h-10zm11 0h4v1h-4zm5 0h1v1h-1zm8 0h1v1h-1zm-36 1h1v1h-1zm4 0h1v1h-1zm3 0h17v1h-17zm18 0h2v1h-2zm3 0h2v1h-2zm-26 1h1v1h-1zm3 0h1v1h-1zm3 0h1v1h-1zm2 0h16v1h-16zm17 0h3v1h-3zm5 0h1v1h-1zm-31 1h5v1h-5zm6 0h3v1h-3zm5 0h5v1h-5zm6 0h4v1h-4zm5 0h5v1h-5zm7 0h1v1h-1zm4 0h2v1h-2zm-31 1h3v1h-3zm4 0h1v1h-1zm2 0h20v1h-20zm25 0h1v1h-1zm-39 1h1v1h-1zm5 0h3v1h-3zm5 0h6v1h-6zm7 0h1v1h-1zm2 0h15v1h-15zm21 0h1v1h-1zm2 0h1v1h-1zm-34 1h19v1h-19zm20 0h7v1h-7zm8 0h2v1h-2zm3 0h1v1h-1zm2 0h1v1h-1zm-41 1h1v1h-1zm8 0h5v1h-5zm6 0h22v1h-22zm23 0h3v1h-3zm4 0h1v1h-1zm-37 1h1v1h-1zm5 0h19v1h-19zm20 0h5v1h-5zm6 0h2v1h-2zm4 0h1v1h-1zm-38 1h1v1h-1zm3 0h5v1h-5zm6 0h22v1h-22zm23 0h4v1h-4zm6 0h1v1h-1zm-36 1h1v1h-1zm5 0h2v1h-2zm3 0h2v1h-2zm3 0h16v1h-16zm17 0h4v1h-4zm5 0h4v1h-4zm-36 1h1v1h-1zm5 0h1v1h-1zm2 0h16v1h-16zm17 0h11v1h-11zm12 0h1v1h-1zm2 0h1v1h-1zm2 0h1v1h-1zm-41 1h1v1h-1zm6 0h1v1h-1zm2 0h1v1h-1zm2 0h26v1h-26zm28 0h3v1h-3zm-32 1h3v1h-3zm4 0h20v1h-20zm21 0h10v1h-10zm13 0h1v1h-1zm-44 1h1v1h-1zm3 0h1v1h-1zm3 0h1v1h-1zm2 0h3v1h-3zm4 0h1v1h-1zm2 0h21v1h-21zm22 0h1v1h-1zm2 0h3v1h-3zm-35 1h2v1h-2zm6 0h30v1h-30zm31 0h2v1h-2zm5 0h1v1h-1zm-44 1h1v1h-1zm3 0h2v1h-2zm3 0h1v1h-1zm2 0h31v1h-31zm32 0h1v1h-1zm2 0h1v1h-1zm-39 1h1v1h-1zm2 0h5v1h-5zm6 0h28v1h-28zm29 0h1v1h-1zm-38 1h1v1h-1zm2 0h2v1h-2zm3 0h1v1h-1zm2 0h28v1h-28zm29 0h1v1h-1zm2 0h3v1h-3zm-34 1h25v1h-25zm26 0h8v1h-8zm9 0h1v1h-1zm5 0h1v1h-1zm-44 1h1v1h-1zm5 0h34v1h-34zm36 0h1v1h-1zm-42 1h2v1h-2zm4 0h2v1h-2zm3 0h5v1h-5zm6 0h21v1h-21zm22 0h1v1h-1zm2 0h2v1h-2zm3 0h2v1h-2zm3 0h1v1h-1zm-41 1h1v1h-1zm2 0h2v1h-2zm3 0h29v1h-29zm31 0h1v1h-1zm-40 1h1v1h-1zm4 0h2v1h-2zm5 0h4v1h-4zm5 0h23v1h-23zm24 0h5v1h-5zm7 0h1v1h-1zm-43 1h1v1h-1zm5 0h35v1h-35zm-4 1h3v1h-3zm6 0h29v1h-29zm30 0h2v1h-2zm3 0h1v1h-1zm-36 1h5v1h-5zm6 0h27v1h-27zm28 0h1v1h-1zm2 0h2v1h-2zm-40 1h1v1h-1zm3 0h1v1h-1zm3 0h29v1h-29zm30 0h3v1h-3zm-35 1h2v1h-2zm3 0h1v1h-1zm3 0h4v1h-4zm5 0h1v1h-1zm2 0h22v1h-22zm23 0h2v1h-2z" fill="#080808"/><path d="M346 472h2v2h-2zM343 478h2v2h-2zM340 485h2v2h-2zM337 491h2v2h-2zM352 495h2v2h-2zM333 498h2v2h-2zM338 503h2v2h-2zM344 510h2v2h-2zM330 512h2v2h-2zM335 520h2v2h-2zM328 525h2v2h-2zM324 533h2v2h-2zM340 540h2v2h-2zM336 560h2v2h-2zM345 575h2v2h-2zM330 583h2v2h-2z" fill="#bdbdbd"/>
<path d="M274.5 446.5H421.5V593.5H274.5ZM321.5 446.5V593.5M274.5 552.5H421.5" stroke="#262626" stroke-width="1.15" fill="none"/>
<path d="M272.0 556.5h2.5M311.5 593.5v2.5M272.0 520.5h2.5M347.5 593.5v2.5M272.0 483.5h2.5M384.5 593.5v2.5" stroke="#333" stroke-width="1" fill="none"/>
<text transform="translate(271 592.4) rotate(-90)" style="font-family:'Liberation Sans',sans-serif;font-size:6.8px;font-weight:bold" fill="#333">10<tspan dy="-2.6" font-size="4.5px">0</tspan></text>
<text x="274.6" y="602.9" style="font-family:'Liberation Sans',sans-serif;font-size:6.8px;font-weight:bold" fill="#333">10<tspan dy="-2.6" font-size="4.5px">0</tspan></text>
<text transform="translate(271 555.7) rotate(-90)" style="font-family:'Liberation Sans',sans-serif;font-size:6.8px;font-weight:bold" fill="#333">10<tspan dy="-2.6" font-size="4.5px">1</tspan></text>
<text x="311.2" y="602.9" style="font-family:'Liberation Sans',sans-serif;font-size:6.8px;font-weight:bold" fill="#333">10<tspan dy="-2.6" font-size="4.5px">1</tspan></text>
<text transform="translate(271 519) rotate(-90)" style="font-family:'Liberation Sans',sans-serif;font-size:6.8px;font-weight:bold" fill="#333">10<tspan dy="-2.6" font-size="4.5px">2</tspan></text>
<text x="347.9" y="602.9" style="font-family:'Liberation Sans',sans-serif;font-size:6.8px;font-weight:bold" fill="#333">10<tspan dy="-2.6" font-size="4.5px">2</tspan></text>
<text transform="translate(271 482.3) rotate(-90)" style="font-family:'Liberation Sans',sans-serif;font-size:6.8px;font-weight:bold" fill="#333">10<tspan dy="-2.6" font-size="4.5px">3</tspan></text>
<text x="384.6" y="602.9" style="font-family:'Liberation Sans',sans-serif;font-size:6.8px;font-weight:bold" fill="#333">10<tspan dy="-2.6" font-size="4.5px">3</tspan></text>
<text transform="translate(271 445.6) rotate(-90)" style="font-family:'Liberation Sans',sans-serif;font-size:6.8px;font-weight:bold" fill="#333">10<tspan dy="-2.6" font-size="4.5px">4</tspan></text>
<text x="421.2" y="602.9" style="font-family:'Liberation Sans',sans-serif;font-size:6.8px;font-weight:bold" fill="#333">10<tspan dy="-2.6" font-size="4.5px">4</tspan></text>
<text transform="translate(265.8 520) rotate(-90)" text-anchor="middle" style="font-family:'Liberation Sans',sans-serif;font-size:6.4px;font-weight:bold" fill="#222">CD8 APC</text>
<text x="346.4" y="609.7" text-anchor="middle" style="font-family:'Liberation Sans',sans-serif;font-size:5.8px;font-weight:bold" fill="#222">IFNg FITC</text>
<text x="367.7" y="548.3" style="font-family:'Liberation Serif',serif;stroke:#111;stroke-width:0.3px;font-size:16px" fill="#111">0.21%</text>
<text x="332.5" y="479" style="font-family:'Liberation Serif',serif;stroke:#111;stroke-width:0.3px;font-size:18px" fill="#111">WT1 (187)</text>
<path d="M114 652h1v1h-1zm-8 1h1v1h-1zm2 0h1v1h-1zm2 0h1v1h-1zm3 0h1v1h-1zm4 0h1v1h-1zm-12 1h2v1h-2zm4 0h1v1h-1zm2 0h2v1h-2zm4 0h1v1h-1zm3 0h2v1h-2zm-13 1h9v1h-9zm10 0h4v1h-4zm5 0h4v1h-4zm5 0h1v1h-1zm-26 1h1v1h-1zm3 0h2v1h-2zm4 0h12v1h-12zm14 0h1v1h-1zm2 0h1v1h-1zm2 0h2v1h-2zm-21 1h20v1h-20zm22 0h2v1h-2zm-26 1h2v1h-2zm4 0h23v1h-23zm25 0h1v1h-1zm-32 1h3v1h-3zm5 0h1v1h-1zm3 0h19v1h-19zm20 0h3v1h-3zm-28 1h1v1h-1zm2 0h1v1h-1zm5 0h23v1h-23zm24 0h2v1h-2zm-28 1h2v1h-2zm3 0h26v1h-26zm-2 1h1v1h-1zm2 0h5v1h-5zm6 0h19v1h-19zm20 0h1v1h-1zm-31 1h32v1h-32zm-1 1h1v1h-1zm2 0h5v1h-5zm6 0h25v1h-25zm-8 1h1v1h-1zm6 0h28v1h-28zm-3 1h29v1h-29zm30 0h1v1h-1zm-32 1h1v1h-1zm2 0h1v1h-1zm2 0h25v1h-25zm28 0h2v1h-2zm-33 1h2v1h-2zm3 0h29v1h-29zm-1 1h30v1h-30zm31 0h1v1h-1zm-30 1h31v1h-31zm-3 1h1v1h-1zm2 0h1v1h-1zm2 0h3v1h-3zm4 0h23v1h-23zm26 0h1v1h-1zm-33 1h3v1h-3zm5 0h4v1h-4zm5 0h22v1h-22zm-10 1h32v1h-32zm0 1h1v1h-1zm5 0h25v1h-25zm26 0h2v1h-2zm-29 1h29v1h-29zm30 0h1v1h-1zm-32 1h3v1h-3zm4 0h27v1h-27zm-5 1h1v1h-1zm2 0h6v1h-6zm7 0h22v1h-22zm-4 1h1v1h-1zm2 0h22v1h-22zm23 0h2v1h-2zm3 0h1v1h-1zm-33 1h32v1h-32zm37 0h1v1h-1zm-36 1h2v1h-2zm4 0h3v1h-3zm4 0h24v1h-24zm-8 1h1v1h-1zm4 0h1v1h-1zm2 0h2v1h-2zm3 0h22v1h-22zm23 0h1v1h-1zm-32 1h1v1h-1zm4 0h27v1h-27zm-5 1h2v1h-2zm5 0h28v1h-28zm-3 1h1v1h-1zm2 0h2v1h-2zm4 0h22v1h-22zm23 0h1v1h-1zm3 0h1v1h-1zm-33 1h1v1h-1zm5 0h5v1h-5zm6 0h19v1h-19zm20 0h1v1h-1zm-31 1h1v1h-1zm4 0h2v1h-2zm3 0h21v1h-21zm24 0h2v1h-2zm-31 1h4v1h-4zm5 0h2v1h-2zm4 0h23v1h-23zm25 0h1v1h-1zm-32 1h1v1h-1zm4 0h25v1h-25zm-4 1h1v1h-1zm3 0h4v1h-4zm5 0h14v1h-14zm15 0h5v1h-5zm7 0h1v1h-1zm-31 1h2v1h-2zm4 0h3v1h-3zm4 0h6v1h-6zm7 0h12v1h-12zm13 0h3v1h-3zm-25 1h2v1h-2zm5 0h22v1h-22zm-5 1h1v1h-1zm2 0h2v1h-2zm3 0h1v1h-1zm2 0h19v1h-19zm-12 1h2v1h-2zm3 0h2v1h-2zm4 0h2v1h-2zm4 0h2v1h-2zm3 0h15v1h-15zm16 0h1v1h-1zm2 0h1v1h-1zm-31 1h2v1h-2zm4 0h1v1h-1zm2 0h1v1h-1zm3 0h1v1h-1zm2 0h5v1h-5zm7 0h7v1h-7zm9 0h4v1h-4zm-25 1h1v1h-1zm2 0h4v1h-4zm5 0h2v1h-2zm4 0h3v1h-3zm4 0h1v1h-1zm2 0h2v1h-2zm3 0h6v1h-6zm7 0h1v1h-1zm-22 1h2v1h-2zm3 0h4v1h-4zm6 0h7v1h-7zm8 0h2v1h-2zm4 0h1v1h-1zm4 0h1v1h-1zm-29 1h1v1h-1zm2 0h1v1h-1zm2 0h11v1h-11zm12 0h4v1h-4zm5 0h2v1h-2zm6 0h2v1h-2zm3 0h1v1h-1zm-34 1h2v1h-2zm3 0h5v1h-5zm7 0h5v1h-5zm6 0h1v1h-1zm2 0h7v1h-7zm8 0h6v1h-6zm-25 1h1v1h-1zm2 0h1v1h-1zm2 0h2v1h-2zm4 0h2v1h-2zm3 0h4v1h-4zm6 0h1v1h-1zm3 0h2v1h-2zm3 0h1v1h-1zm2 0h2v1h-2zm4 0h1v1h-1zm4 0h1v1h-1zm-31 1h2v1h-2zm5 0h3v1h-3zm5 0h2v1h-2zm4 0h3v1h-3zm4 0h1v1h-1zm4 0h2v1h-2zm3 0h1v1h-1zm3 0h2v1h-2zm-31 1h2v1h-2zm5 0h5v1h-5zm6 0h3v1h-3zm5 0h6v1h-6zm7 0h5v1h-5zm8 0h4v1h-4zm-31 1h2v1h-2zm5 0h1v1h-1zm2 0h1v1h-1zm2 0h2v1h-2zm3 0h4v1h-4zm7 0h6v1h-6zm8 0h3v1h-3zm4 0h1v1h-1zm-30 1h3v1h-3zm5 0h1v1h-1zm2 0h1v1h-1zm3 0h1v1h-1zm3 0h1v1h-1zm2 0h1v1h-1zm2 0h1v1h-1zm2 0h1v1h-1zm2 0h2v1h-2zm4 0h2v1h-2zm3 0h2v1h-2zm3 0h1v1h-1zm-32 1h3v1h-3zm4 0h1v1h-1zm4 0h5v1h-5zm6 0h3v1h-3zm4 0h5v1h-5zm7 0h3v1h-3zm5 0h2v1h-2zm-29 1h2v1h-2zm3 0h1v1h-1zm2 0h1v1h-1zm3 0h3v1h-3zm5 0h4v1h-4zm5 0h11v1h-11zm12 0h1v1h-1zm-29 1h3v1h-3zm8 0h3v1h-3zm4 0h8v1h-8zm10 0h5v1h-5zm7 0h1v1h-1zm-31 1h5v1h-5zm6 0h1v1h-1zm2 0h6v1h-6zm7 0h1v1h-1zm2 0h1v1h-1zm3 0h1v1h-1zm2 0h1v1h-1zm3 0h3v1h-3zm4 0h1v1h-1zm3 0h1v1h-1zm-27 1h2v1h-2zm3 0h1v1h-1zm3 0h2v1h-2zm4 0h8v1h-8zm9 0h2v1h-2zm3 0h1v1h-1zm2 0h1v1h-1zm2 0h1v1h-1zm5 0h1v1h-1zm-33 1h1v1h-1zm4 0h1v1h-1zm2 0h2v1h-2zm3 0h4v1h-4zm5 0h1v1h-1zm2 0h1v1h-1zm2 0h4v1h-4zm6 0h3v1h-3zm6 0h1v1h-1zm-32 1h1v1h-1zm3 0h1v1h-1zm3 0h1v1h-1zm2 0h3v1h-3zm5 0h1v1h-1zm2 0h1v1h-1zm2 0h1v1h-1zm2 0h2v1h-2zm3 0h1v1h-1zm3 0h2v1h-2zm3 0h2v1h-2zm4 0h1v1h-1zm-31 1h1v1h-1zm2 0h1v1h-1zm4 0h4v1h-4zm5 0h3v1h-3zm4 0h3v1h-3zm4 0h3v1h-3zm4 0h1v1h-1zm2 0h3v1h-3zm5 0h1v1h-1zm-31 1h1v1h-1zm2 0h1v1h-1zm2 0h1v1h-1zm4 0h5v1h-5zm6 0h1v1h-1zm2 0h1v1h-1zm3 0h1v1h-1zm2 0h5v1h-5zm6 0h1v1h-1zm3 0h2v1h-2zm-30 1h1v1h-1zm2 0h1v1h-1zm4 0h3v1h-3zm4 0h2v1h-2zm3 0h3v1h-3zm5 0h3v1h-3zm4 0h3v1h-3zm5 0h2v1h-2zm-28 1h4v1h-4zm5 0h2v1h-2zm3 0h1v1h-1zm3 0h1v1h-1zm2 0h2v1h-2zm3 0h3v1h-3zm4 0h1v1h-1zm2 0h6v1h-6zm7 0h1v1h-1zm3 0h1v1h-1zm-32 1h2v1h-2zm4 0h1v1h-1zm2 0h1v1h-1zm6 0h1v1h-1zm2 0h1v1h-1zm3 0h2v1h-2zm3 0h1v1h-1zm2 0h1v1h-1zm2 0h5v1h-5zm6 0h3v1h-3zm-30 1h1v1h-1zm2 0h1v1h-1zm4 0h2v1h-2zm4 0h1v1h-1zm2 0h4v1h-4zm5 0h5v1h-5zm6 0h1v1h-1zm2 0h1v1h-1zm2 0h1v1h-1zm3 0h3v1h-3zm-28 1h1v1h-1zm2 0h1v1h-1zm6 0h1v1h-1zm2 0h3v1h-3zm4 0h2v1h-2zm3 0h1v1h-1zm4 0h3v1h-3zm5 0h1v1h-1zm2 0h1v1h-1zm-28 1h1v1h-1zm2 0h2v1h-2zm3 0h2v1h-2zm3 0h6v1h-6zm7 0h1v1h-1zm2 0h2v1h-2zm3 0h5v1h-5zm6 0h1v1h-1zm3 0h1v1h-1zm2 0h1v1h-1zm-26 1h2v1h-2zm4 0h3v1h-3zm7 0h1v1h-1zm3 0h2v1h-2zm4 0h1v1h-1zm3 0h1v1h-1zm2 0h1v1h-1zm2 0h1v1h-1zm-27 1h1v1h-1zm3 0h1v1h-1zm2 0h2v1h-2zm3 0h1v1h-1zm3 0h3v1h-3zm4 0h1v1h-1zm2 0h1v1h-1zm9 0h3v1h-3zm-30 1h1v1h-1zm2 0h1v1h-1zm6 0h2v1h-2zm4 0h3v1h-3zm8 0h1v1h-1zm2 0h1v1h-1zm2 0h1v1h-1zm2 0h1v1h-1zm2 0h1v1h-1zm2 0h1v1h-1zm-27 1h1v1h-1zm6 0h2v1h-2zm6 0h1v1h-1zm4 0h1v1h-1zm3 0h1v1h-1zm3 0h1v1h-1zm5 0h1v1h-1zm-27 1h1v1h-1zm6 0h2v1h-2zm3 0h1v1h-1zm3 0h1v1h-1zm2 0h1v1h-1zm2 0h2v1h-2zm8 0h1v1h-1zm-25 1h1v1h-1zm2 0h2v1h-2zm3 0h2v1h-2zm3 0h3v1h-3zm4 0h1v1h-1zm3 0h4v1h-4zm6 0h4v1h-4zm9 0h1v1h-1zm-33 1h2v1h-2zm5 0h1v1h-1zm2 0h1v1h-1zm2 0h3v1h-3zm4 0h3v1h-3zm4 0h1v1h-1zm5 0h1v1h-1zm2 0h3v1h-3zm6 0h2v1h-2zm-27 1h2v1h-2zm3 0h1v1h-1zm5 0h2v1h-2zm6 0h3v1h-3zm4 0h2v1h-2zm3 0h1v1h-1zm2 0h1v1h-1zm2 0h1v1h-1zm2 0h1v1h-1zm2 0h2v1h-2zm-26 1h4v1h-4zm9 0h5v1h-5zm7 0h1v1h-1zm3 0h2v1h-2zm7 0h2v1h-2zm-32 1h1v1h-1zm4 0h1v1h-1zm3 0h1v1h-1zm3 0h4v1h-4zm7 0h1v1h-1zm2 0h5v1h-5zm7 0h1v1h-1zm4 0h1v1h-1zm2 0h2v1h-2zm-30 1h2v1h-2zm3 0h1v1h-1zm2 0h1v1h-1zm4 0h4v1h-4zm7 0h2v1h-2zm7 0h1v1h-1zm2 0h2v1h-2zm3 0h2v1h-2zm-29 1h4v1h-4zm5 0h1v1h-1zm2 0h1v1h-1zm2 0h6v1h-6zm7 0h4v1h-4zm5 0h1v1h-1zm2 0h1v1h-1zm2 0h1v1h-1zm5 0h1v1h-1zm2 0h1v1h-1zm-33 1h1v1h-1zm5 0h2v1h-2zm3 0h1v1h-1zm2 0h6v1h-6zm7 0h5v1h-5zm6 0h2v1h-2zm3 0h1v1h-1zm3 0h2v1h-2zm3 0h1v1h-1zm-25 1h6v1h-6zm7 0h7v1h-7zm8 0h4v1h-4zm5 0h2v1h-2zm6 0h1v1h-1zm-31 1h2v1h-2zm4 0h1v1h-1zm3 0h1v1h-1zm2 0h1v1h-1zm2 0h1v1h-1zm2 0h1v1h-1zm2 0h4v1h-4zm6 0h2v1h-2zm3 0h6v1h-6zm-24 1h1v1h-1zm4 0h1v1h-1zm2 0h4v1h-4zm5 0h2v1h-2zm3 0h3v1h-3zm4 0h4v1h-4zm6 0h3v1h-3zm5 0h1v1h-1zm-27 1h1v1h-1zm2 0h2v1h-2zm6 0h3v1h-3zm5 0h6v1h-6zm8 0h5v1h-5zm8 0h1v1h-1zm-31 1h3v1h-3zm6 0h2v1h-2zm3 0h1v1h-1zm2 0h2v1h-2zm3 0h7v1h-7zm8 0h2v1h-2zm3 0h1v1h-1zm-25 1h2v1h-2zm4 0h4v1h-4zm5 0h2v1h-2zm3 0h3v1h-3zm4 0h8v1h-8zm9 0h3v1h-3zm4 0h1v1h-1zm2 0h1v1h-1zm-31 1h17v1h-17zm18 0h6v1h-6zm7 0h2v1h-2zm3 0h1v1h-1zm-30 1h1v1h-1zm3 0h3v1h-3zm4 0h4v1h-4zm5 0h17v1h-17zm18 0h2v1h-2zm-29 1h1v1h-1zm3 0h3v1h-3zm4 0h1v1h-1zm3 0h10v1h-10zm11 0h8v1h-8zm10 0h3v1h-3zm-32 1h2v1h-2zm3 0h2v1h-2zm7 0h23v1h-23zm-6 1h1v1h-1zm4 0h5v1h-5zm6 0h1v1h-1zm2 0h5v1h-5zm6 0h11v1h-11zm-20 1h1v1h-1zm3 0h3v1h-3zm4 0h6v1h-6zm7 0h15v1h-15zm-16 1h1v1h-1zm2 0h2v1h-2zm4 0h17v1h-17zm18 0h6v1h-6zm9 0h1v1h-1zm4 0h1v1h-1zm-36 1h8v1h-8zm9 0h4v1h-4zm5 0h11v1h-11zm12 0h5v1h-5zm-26 1h1v1h-1zm2 0h2v1h-2zm3 0h3v1h-3zm5 0h21v1h-21zm-11 1h1v1h-1zm2 0h18v1h-18zm19 0h12v1h-12zm-21 1h5v1h-5zm6 0h8v1h-8zm9 0h15v1h-15zm16 0h3v1h-3zm-29 1h13v1h-13zm14 0h15v1h-15zm-16 1h29v1h-29zm30 0h4v1h-4zm-30 1h2v1h-2zm3 0h29v1h-29zm30 0h2v1h-2zm-30 1h1v1h-1zm2 0h5v1h-5zm6 0h22v1h-22zm-11 1h4v1h-4zm5 0h1v1h-1zm2 0h26v1h-26zm-5 1h25v1h-25zm26 0h4v1h-4zm5 0h1v1h-1zm-33 1h2v1h-2zm3 0h3v1h-3zm4 0h8v1h-8zm9 0h16v1h-16zm17 0h1v1h-1zm-31 1h32v1h-32zm2 1h30v1h-30zm-4 1h2v1h-2zm3 0h5v1h-5zm7 0h23v1h-23zm-10 1h3v1h-3zm4 0h28v1h-28zm29 0h1v1h-1zm-31 1h6v1h-6zm7 0h19v1h-19zm20 0h2v1h-2zm3 0h1v1h-1zm-32 1h4v1h-4zm5 0h15v1h-15zm16 0h9v1h-9zm10 0h3v1h-3zm-31 1h1v1h-1zm2 0h3v1h-3zm4 0h23v1h-23zm24 0h2v1h-2zm3 0h2v1h-2zm-33 1h1v1h-1zm2 0h1v1h-1zm2 0h16v1h-16zm17 0h12v1h-12zm13 0h1v1h-1zm-31 1h2v1h-2zm3 0h2v1h-2zm4 0h17v1h-17zm18 0h5v1h-5zm-25 1h24v1h-24zm26 0h3v1h-3zm-27 1h1v1h-1zm3 0h1v1h-1zm2 0h6v1h-6zm7 0h15v1h-15zm17 0h1v1h-1zm2 0h1v1h-1zm-28 1h2v1h-2zm3 0h23v1h-23zm24 0h2v1h-2zm-32 1h7v1h-7zm8 0h22v1h-22zm23 0h2v1h-2zm-25 1h7v1h-7zm8 0h16v1h-16zm18 0h1v1h-1z" fill="#080808"/><path d="M139 667h2v2h-2zM142 668h2v2h-2zM155 672h2v2h-2zM165 674h2v2h-2zM160 675h2v2h-2zM142 676h2v2h-2zM150 677h2v2h-2zM143 683h2v2h-2zM137 684h2v2h-2zM149 690h2v2h-2zM145 695h2v2h-2zM155 697h2v2h-2zM138 710h2v2h-2zM140 718h2v2h-2zM154 742h2v2h-2zM158 752h2v2h-2zM142 756h2v2h-2z" fill="#bdbdbd"/>
<path d="M95.5 632.5H236.5V770.5H95.5ZM132.5 632.5V770.5M95.5 731.5H236.5" stroke="#262626" stroke-width="1.15" fill="none"/>
<path d="M93.0 735.5h2.5M130.5 770.5v2.5M93.0 701.5h2.5M165.5 770.5v2.5M93.0 666.5h2.5M201.5 770.5v2.5" stroke="#333" stroke-width="1" fill="none"/>
<text transform="translate(91.4 769.5) rotate(-90)" style="font-family:'Liberation Sans',sans-serif;font-size:6.8px;font-weight:bold" fill="#333">10<tspan dy="-2.6" font-size="4.5px">0</tspan></text>
<text x="95" y="780" style="font-family:'Liberation Sans',sans-serif;font-size:6.8px;font-weight:bold" fill="#333">10<tspan dy="-2.6" font-size="4.5px">0</tspan></text>
<text transform="translate(91.4 734.9) rotate(-90)" style="font-family:'Liberation Sans',sans-serif;font-size:6.8px;font-weight:bold" fill="#333">10<tspan dy="-2.6" font-size="4.5px">1</tspan></text>
<text x="130.5" y="780" style="font-family:'Liberation Sans',sans-serif;font-size:6.8px;font-weight:bold" fill="#333">10<tspan dy="-2.6" font-size="4.5px">1</tspan></text>
<text transform="translate(91.4 700.4) rotate(-90)" style="font-family:'Liberation Sans',sans-serif;font-size:6.8px;font-weight:bold" fill="#333">10<tspan dy="-2.6" font-size="4.5px">2</tspan></text>
<text x="165.9" y="780" style="font-family:'Liberation Sans',sans-serif;font-size:6.8px;font-weight:bold" fill="#333">10<tspan dy="-2.6" font-size="4.5px">2</tspan></text>
<text transform="translate(91.4 665.8) rotate(-90)" style="font-family:'Liberation Sans',sans-serif;font-size:6.8px;font-weight:bold" fill="#333">10<tspan dy="-2.6" font-size="4.5px">3</tspan></text>
<text x="201.4" y="780" style="font-family:'Liberation Sans',sans-serif;font-size:6.8px;font-weight:bold" fill="#333">10<tspan dy="-2.6" font-size="4.5px">3</tspan></text>
<text transform="translate(91.4 631.2) rotate(-90)" style="font-family:'Liberation Sans',sans-serif;font-size:6.8px;font-weight:bold" fill="#333">10<tspan dy="-2.6" font-size="4.5px">4</tspan></text>
<text x="236.9" y="780" style="font-family:'Liberation Sans',sans-serif;font-size:6.8px;font-weight:bold" fill="#333">10<tspan dy="-2.6" font-size="4.5px">4</tspan></text>
<text transform="translate(86.2 701.4) rotate(-90)" text-anchor="middle" style="font-family:'Liberation Sans',sans-serif;font-size:6.4px;font-weight:bold" fill="#222">CD8 APC</text>
<text x="164.4" y="786.8" text-anchor="middle" style="font-family:'Liberation Sans',sans-serif;font-size:5.8px;font-weight:bold" fill="#222">IFNg FITC</text>
<text x="174.1" y="718.5" style="font-family:'Liberation Serif',serif;stroke:#111;stroke-width:0.3px;font-size:16px" fill="#111">0.18%</text>
<path d="M296 652h1v1h-1zm3 0h1v1h-1zm7 0h1v1h-1zm2 0h1v1h-1zm-20 1h1v1h-1zm4 0h1v1h-1zm3 0h1v1h-1zm6 0h3v1h-3zm4 0h1v1h-1zm-16 1h5v1h-5zm7 0h4v1h-4zm5 0h2v1h-2zm3 0h1v1h-1zm3 0h1v1h-1zm-24 1h1v1h-1zm2 0h1v1h-1zm4 0h10v1h-10zm11 0h4v1h-4zm5 0h3v1h-3zm-20 1h1v1h-1zm4 0h19v1h-19zm21 0h1v1h-1zm-27 1h1v1h-1zm2 0h1v1h-1zm2 0h5v1h-5zm6 0h18v1h-18zm-12 1h1v1h-1zm4 0h3v1h-3zm4 0h1v1h-1zm2 0h19v1h-19zm-9 1h3v1h-3zm4 0h21v1h-21zm22 0h2v1h-2zm-30 1h1v1h-1zm3 0h30v1h-30zm-3 1h1v1h-1zm4 0h1v1h-1zm2 0h26v1h-26zm27 0h2v1h-2zm-34 1h1v1h-1zm5 0h30v1h-30zm-5 1h1v1h-1zm2 0h3v1h-3zm4 0h26v1h-26zm27 0h1v1h-1zm-30 1h2v1h-2zm3 0h28v1h-28zm-4 1h4v1h-4zm5 0h27v1h-27zm28 0h1v1h-1zm-33 1h1v1h-1zm2 0h31v1h-31zm-4 1h36v1h-36zm2 1h1v1h-1zm2 0h2v1h-2zm3 0h27v1h-27zm-7 1h1v1h-1zm4 0h31v1h-31zm0 1h30v1h-30zm31 0h1v1h-1zm-34 1h34v1h-34zm35 0h1v1h-1zm-35 1h3v1h-3zm4 0h3v1h-3zm4 0h24v1h-24zm27 0h1v1h-1zm-35 1h5v1h-5zm6 0h29v1h-29zm-6 1h1v1h-1zm2 0h31v1h-31zm-3 1h1v1h-1zm2 0h2v1h-2zm3 0h30v1h-30zm-1 1h31v1h-31zm-2 1h33v1h-33zm0 1h1v1h-1zm3 0h29v1h-29zm30 0h1v1h-1zm-31 1h31v1h-31zm-4 1h33v1h-33zm34 0h1v1h-1zm-34 1h1v1h-1zm4 0h1v1h-1zm3 0h23v1h-23zm24 0h4v1h-4zm-28 1h2v1h-2zm3 0h28v1h-28zm-5 1h34v1h-34zm-1 1h2v1h-2zm4 0h30v1h-30zm-3 1h2v1h-2zm3 0h2v1h-2zm3 0h8v1h-8zm9 0h17v1h-17zm-13 1h1v1h-1zm2 0h2v1h-2zm3 0h27v1h-27zm-8 1h2v1h-2zm5 0h1v1h-1zm3 0h25v1h-25zm-3 1h4v1h-4zm5 0h25v1h-25zm-8 1h1v1h-1zm2 0h5v1h-5zm6 0h17v1h-17zm18 0h5v1h-5zm-28 1h1v1h-1zm2 0h1v1h-1zm2 0h8v1h-8zm9 0h19v1h-19zm20 0h3v1h-3zm-33 1h1v1h-1zm4 0h6v1h-6zm7 0h21v1h-21zm22 0h1v1h-1zm-29 1h1v1h-1zm2 0h2v1h-2zm3 0h1v1h-1zm3 0h20v1h-20zm-12 1h2v1h-2zm3 0h2v1h-2zm3 0h1v1h-1zm2 0h1v1h-1zm2 0h13v1h-13zm14 0h1v1h-1zm2 0h6v1h-6zm-23 1h13v1h-13zm14 0h11v1h-11zm12 0h4v1h-4zm6 0h1v1h-1zm-35 1h1v1h-1zm2 0h1v1h-1zm3 0h1v1h-1zm2 0h3v1h-3zm4 0h1v1h-1zm2 0h4v1h-4zm5 0h8v1h-8zm11 0h2v1h-2zm3 0h1v1h-1zm-27 1h1v1h-1zm2 0h2v1h-2zm3 0h2v1h-2zm3 0h1v1h-1zm2 0h18v1h-18zm-14 1h4v1h-4zm6 0h19v1h-19zm20 0h2v1h-2zm4 0h2v1h-2zm3 0h1v1h-1zm-34 1h2v1h-2zm5 0h1v1h-1zm3 0h1v1h-1zm2 0h4v1h-4zm5 0h16v1h-16zm17 0h2v1h-2zm-31 1h1v1h-1zm2 0h2v1h-2zm3 0h1v1h-1zm2 0h2v1h-2zm3 0h12v1h-12zm13 0h4v1h-4zm5 0h1v1h-1zm2 0h2v1h-2zm-31 1h1v1h-1zm3 0h4v1h-4zm5 0h1v1h-1zm2 0h3v1h-3zm4 0h16v1h-16zm17 0h1v1h-1zm2 0h1v1h-1zm-33 1h2v1h-2zm5 0h19v1h-19zm20 0h4v1h-4zm5 0h1v1h-1zm2 0h2v1h-2zm-32 1h1v1h-1zm2 0h2v1h-2zm3 0h1v1h-1zm3 0h19v1h-19zm20 0h4v1h-4zm6 0h1v1h-1zm-31 1h1v1h-1zm2 0h2v1h-2zm4 0h1v1h-1zm2 0h7v1h-7zm8 0h1v1h-1zm2 0h9v1h-9zm12 0h1v1h-1zm-31 1h1v1h-1zm4 0h3v1h-3zm4 0h21v1h-21zm22 0h1v1h-1zm2 0h1v1h-1zm-34 1h2v1h-2zm5 0h1v1h-1zm3 0h5v1h-5zm6 0h8v1h-8zm9 0h7v1h-7zm9 0h2v1h-2zm-32 1h1v1h-1zm2 0h1v1h-1zm5 0h1v1h-1zm2 0h1v1h-1zm2 0h7v1h-7zm8 0h14v1h-14zm17 0h1v1h-1zm-36 1h1v1h-1zm7 0h4v1h-4zm5 0h5v1h-5zm6 0h9v1h-9zm10 0h3v1h-3zm4 0h2v1h-2zm-29 1h7v1h-7zm9 0h3v1h-3zm4 0h2v1h-2zm3 0h1v1h-1zm2 0h7v1h-7zm9 0h3v1h-3zm4 0h1v1h-1zm-33 1h2v1h-2zm4 0h1v1h-1zm2 0h1v1h-1zm2 0h5v1h-5zm6 0h12v1h-12zm13 0h4v1h-4zm5 0h1v1h-1zm-30 1h3v1h-3zm4 0h1v1h-1zm2 0h1v1h-1zm2 0h2v1h-2zm3 0h5v1h-5zm6 0h10v1h-10zm11 0h3v1h-3zm4 0h1v1h-1zm-34 1h1v1h-1zm2 0h3v1h-3zm4 0h1v1h-1zm3 0h6v1h-6zm7 0h6v1h-6zm7 0h4v1h-4zm6 0h2v1h-2zm-26 1h6v1h-6zm8 0h16v1h-16zm17 0h3v1h-3zm-28 1h2v1h-2zm3 0h1v1h-1zm2 0h6v1h-6zm7 0h8v1h-8zm9 0h4v1h-4zm5 0h4v1h-4zm7 0h1v1h-1zm-34 1h1v1h-1zm4 0h1v1h-1zm2 0h3v1h-3zm4 0h2v1h-2zm4 0h14v1h-14zm15 0h3v1h-3zm5 0h1v1h-1zm-34 1h1v1h-1zm2 0h2v1h-2zm4 0h2v1h-2zm3 0h3v1h-3zm4 0h1v1h-1zm2 0h4v1h-4zm5 0h3v1h-3zm4 0h1v1h-1zm2 0h2v1h-2zm3 0h5v1h-5zm-28 1h1v1h-1zm2 0h5v1h-5zm6 0h1v1h-1zm4 0h7v1h-7zm8 0h10v1h-10zm11 0h1v1h-1zm2 0h1v1h-1zm-34 1h3v1h-3zm6 0h2v1h-2zm3 0h7v1h-7zm9 0h6v1h-6zm7 0h3v1h-3zm4 0h1v1h-1zm2 0h3v1h-3zm-26 1h1v1h-1zm3 0h2v1h-2zm3 0h1v1h-1zm2 0h3v1h-3zm4 0h11v1h-11zm12 0h4v1h-4zm-24 1h1v1h-1zm4 0h3v1h-3zm4 0h16v1h-16zm17 0h2v1h-2zm-28 1h2v1h-2zm3 0h1v1h-1zm2 0h5v1h-5zm6 0h5v1h-5zm7 0h3v1h-3zm4 0h8v1h-8zm9 0h1v1h-1zm-32 1h2v1h-2zm4 0h2v1h-2zm3 0h3v1h-3zm5 0h1v1h-1zm2 0h5v1h-5zm6 0h1v1h-1zm2 0h5v1h-5zm6 0h2v1h-2zm-26 1h1v1h-1zm2 0h1v1h-1zm2 0h2v1h-2zm3 0h11v1h-11zm12 0h1v1h-1zm3 0h1v1h-1zm3 0h4v1h-4zm5 0h2v1h-2zm-33 1h1v1h-1zm3 0h7v1h-7zm8 0h1v1h-1zm2 0h15v1h-15zm16 0h1v1h-1zm3 0h2v1h-2zm-30 1h1v1h-1zm4 0h1v1h-1zm2 0h3v1h-3zm4 0h5v1h-5zm6 0h1v1h-1zm2 0h14v1h-14zm-16 1h2v1h-2zm3 0h1v1h-1zm3 0h1v1h-1zm2 0h8v1h-8zm9 0h8v1h-8zm9 0h1v1h-1zm2 0h1v1h-1zm2 0h1v1h-1zm-33 1h2v1h-2zm3 0h1v1h-1zm2 0h4v1h-4zm6 0h7v1h-7zm8 0h4v1h-4zm5 0h4v1h-4zm5 0h2v1h-2zm-30 1h1v1h-1zm2 0h1v1h-1zm2 0h4v1h-4zm6 0h5v1h-5zm6 0h16v1h-16zm18 0h1v1h-1zm-34 1h1v1h-1zm4 0h2v1h-2zm4 0h4v1h-4zm5 0h13v1h-13zm14 0h6v1h-6zm-27 1h2v1h-2zm3 0h3v1h-3zm4 0h2v1h-2zm4 0h7v1h-7zm8 0h2v1h-2zm3 0h7v1h-7zm9 0h1v1h-1zm2 0h1v1h-1zm-32 1h1v1h-1zm5 0h26v1h-26zm28 0h1v1h-1zm-34 1h2v1h-2zm3 0h2v1h-2zm3 0h2v1h-2zm3 0h3v1h-3zm4 0h5v1h-5zm6 0h8v1h-8zm9 0h1v1h-1zm2 0h1v1h-1zm2 0h1v1h-1zm-32 1h1v1h-1zm2 0h2v1h-2zm3 0h1v1h-1zm2 0h6v1h-6zm7 0h15v1h-15zm17 0h1v1h-1zm2 0h2v1h-2zm-33 1h1v1h-1zm3 0h6v1h-6zm7 0h1v1h-1zm2 0h12v1h-12zm13 0h5v1h-5zm-25 1h2v1h-2zm3 0h29v1h-29zm-3 1h4v1h-4zm5 0h2v1h-2zm3 0h14v1h-14zm15 0h12v1h-12zm-23 1h12v1h-12zm13 0h14v1h-14zm15 0h1v1h-1zm5 0h1v1h-1zm2 0h1v1h-1zm-35 1h4v1h-4zm6 0h21v1h-21zm22 0h3v1h-3zm4 0h1v1h-1zm4 0h1v1h-1zm-36 1h2v1h-2zm3 0h2v1h-2zm4 0h5v1h-5zm6 0h20v1h-20zm21 0h1v1h-1zm-34 1h34v1h-34zm0 1h1v1h-1zm2 0h4v1h-4zm5 0h20v1h-20zm21 0h2v1h-2zm3 0h4v1h-4zm5 0h1v1h-1zm-36 1h1v1h-1zm2 0h3v1h-3zm4 0h25v1h-25zm26 0h2v1h-2zm-32 1h1v1h-1zm2 0h1v1h-1zm2 0h30v1h-30zm-4 1h2v1h-2zm3 0h14v1h-14zm15 0h14v1h-14zm15 0h1v1h-1zm-33 1h10v1h-10zm11 0h17v1h-17zm18 0h6v1h-6zm-29 1h32v1h-32zm33 0h1v1h-1zm-33 1h33v1h-33zm0 1h28v1h-28zm29 0h4v1h-4zm-29 1h35v1h-35zm0 1h34v1h-34zm0 1h33v1h-33zm0 1h28v1h-28zm29 0h5v1h-5zm-29 1h32v1h-32zm33 0h2v1h-2zm-33 1h32v1h-32zm34 0h1v1h-1zm-34 1h34v1h-34zm0 1h33v1h-33zm35 0h2v1h-2zm-35 1h32v1h-32zm33 0h1v1h-1zm3 0h1v1h-1zm-36 1h33v1h-33zm34 0h1v1h-1zm-34 1h35v1h-35zm0 1h36v1h-36zm0 1h31v1h-31zm32 0h2v1h-2zm-32 1h34v1h-34zm0 1h30v1h-30zm31 0h4v1h-4zm-31 1h32v1h-32zm33 0h2v1h-2zm-33 1h28v1h-28zm29 0h3v1h-3zm4 0h1v1h-1zm-33 1h36v1h-36zm0 1h10v1h-10zm11 0h23v1h-23zm-11 1h2v1h-2zm3 0h2v1h-2zm3 0h25v1h-25zm27 0h1v1h-1zm-33 1h28v1h-28zm31 0h1v1h-1zm-31 1h4v1h-4zm5 0h27v1h-27z" fill="#080808"/><path d="M323 654h2v2h-2zM323 661h2v2h-2zM315 662h2v2h-2zM317 663h2v2h-2zM322 664h2v2h-2zM319 665h2v2h-2zM326 665h2v2h-2zM349 665h2v2h-2zM325 666h2v2h-2zM327 666h2v2h-2zM332 666h2v2h-2zM343 666h2v2h-2zM334 667h2v2h-2zM322 668h2v2h-2zM329 668h2v2h-2zM332 668h2v2h-2zM346 668h2v2h-2zM338 669h2v2h-2zM318 670h2v2h-2zM343 670h2v2h-2zM344 670h2v2h-2zM339 671h2v2h-2zM318 672h2v2h-2zM336 672h2v2h-2zM341 672h2v2h-2zM316 673h2v2h-2zM320 673h2v2h-2zM322 673h2v2h-2zM325 673h2v2h-2zM331 673h2v2h-2zM342 674h2v2h-2zM317 675h2v2h-2zM332 675h2v2h-2zM326 676h2v2h-2zM330 676h2v2h-2zM337 676h2v2h-2zM316 677h2v2h-2zM322 678h2v2h-2zM323 678h2v2h-2zM344 678h2v2h-2zM337 679h2v2h-2zM330 680h2v2h-2zM321 682h2v2h-2zM316 685h2v2h-2zM328 685h2v2h-2zM350 685h2v2h-2zM331 688h2v2h-2zM348 690h2v2h-2zM327 692h2v2h-2zM331 694h2v2h-2zM342 695h2v2h-2zM330 703h2v2h-2zM328 704h2v2h-2zM336 706h2v2h-2zM328 710h2v2h-2zM322 715h2v2h-2zM340 720h2v2h-2zM327 740h2v2h-2zM332 752h2v2h-2zM345 760h2v2h-2zM326 765h2v2h-2z" fill="#bdbdbd"/>
<path d="M276.5 632.5H418.5V770.5H276.5ZM313.5 632.5V770.5M276.5 729.5H418.5" stroke="#262626" stroke-width="1.15" fill="none"/>
<path d="M274.0 735.5h2.5M311.5 770.5v2.5M274.0 701.5h2.5M347.5 770.5v2.5M274.0 666.5h2.5M382.5 770.5v2.5" stroke="#333" stroke-width="1" fill="none"/>
<text transform="translate(272.6 769.5) rotate(-90)" style="font-family:'Liberation Sans',sans-serif;font-size:6.8px;font-weight:bold" fill="#333">10<tspan dy="-2.6" font-size="4.5px">0</tspan></text>
<text x="276.2" y="780" style="font-family:'Liberation Sans',sans-serif;font-size:6.8px;font-weight:bold" fill="#333">10<tspan dy="-2.6" font-size="4.5px">0</tspan></text>
<text transform="translate(272.6 734.9) rotate(-90)" style="font-family:'Liberation Sans',sans-serif;font-size:6.8px;font-weight:bold" fill="#333">10<tspan dy="-2.6" font-size="4.5px">1</tspan></text>
<text x="311.7" y="780" style="font-family:'Liberation Sans',sans-serif;font-size:6.8px;font-weight:bold" fill="#333">10<tspan dy="-2.6" font-size="4.5px">1</tspan></text>
<text transform="translate(272.6 700.4) rotate(-90)" style="font-family:'Liberation Sans',sans-serif;font-size:6.8px;font-weight:bold" fill="#333">10<tspan dy="-2.6" font-size="4.5px">2</tspan></text>
<text x="347.2" y="780" style="font-family:'Liberation Sans',sans-serif;font-size:6.8px;font-weight:bold" fill="#333">10<tspan dy="-2.6" font-size="4.5px">2</tspan></text>
<text transform="translate(272.6 665.8) rotate(-90)" style="font-family:'Liberation Sans',sans-serif;font-size:6.8px;font-weight:bold" fill="#333">10<tspan dy="-2.6" font-size="4.5px">3</tspan></text>
<text x="382.7" y="780" style="font-family:'Liberation Sans',sans-serif;font-size:6.8px;font-weight:bold" fill="#333">10<tspan dy="-2.6" font-size="4.5px">3</tspan></text>
<text transform="translate(272.6 631.2) rotate(-90)" style="font-family:'Liberation Sans',sans-serif;font-size:6.8px;font-weight:bold" fill="#333">10<tspan dy="-2.6" font-size="4.5px">4</tspan></text>
<text x="418.2" y="780" style="font-family:'Liberation Sans',sans-serif;font-size:6.8px;font-weight:bold" fill="#333">10<tspan dy="-2.6" font-size="4.5px">4</tspan></text>
<text transform="translate(267.4 701.4) rotate(-90)" text-anchor="middle" style="font-family:'Liberation Sans',sans-serif;font-size:6.4px;font-weight:bold" fill="#222">CD8 APC</text>
<text x="345.7" y="786.8" text-anchor="middle" style="font-family:'Liberation Sans',sans-serif;font-size:5.8px;font-weight:bold" fill="#222">IFNg FITC</text>
<text x="354.7" y="718.5" style="font-family:'Liberation Serif',serif;stroke:#111;stroke-width:0.3px;font-size:16px" fill="#111">0.60%</text>
<text x="367.7" y="659.7" style="font-family:'Liberation Serif',serif;stroke:#111;stroke-width:0.3px;font-size:18px" fill="#111">PR</text>
<path d="M104 838h1v1h-1zm9 0h1v1h-1zm2 0h3v1h-3zm8 0h1v1h-1zm2 0h1v1h-1zm-17 1h1v1h-1zm4 0h2v1h-2zm4 0h1v1h-1zm11 0h1v1h-1zm-26 1h2v1h-2zm3 0h3v1h-3zm4 0h3v1h-3zm5 0h1v1h-1zm2 0h3v1h-3zm5 0h1v1h-1zm3 0h2v1h-2zm3 0h1v1h-1zm-30 1h2v1h-2zm4 0h1v1h-1zm3 0h1v1h-1zm2 0h1v1h-1zm2 0h19v1h-19zm-7 1h24v1h-24zm25 0h1v1h-1zm3 0h1v1h-1zm-31 1h1v1h-1zm2 0h28v1h-28zm29 0h1v1h-1zm-33 1h1v1h-1zm2 0h1v1h-1zm2 0h5v1h-5zm6 0h22v1h-22zm23 0h1v1h-1zm-34 1h1v1h-1zm2 0h1v1h-1zm2 0h3v1h-3zm4 0h25v1h-25zm26 0h1v1h-1zm-32 1h31v1h-31zm-2 1h3v1h-3zm4 0h24v1h-24zm25 0h5v1h-5zm7 0h1v1h-1zm-35 1h33v1h-33zm35 0h1v1h-1zm-36 1h1v1h-1zm2 0h2v1h-2zm3 0h4v1h-4zm5 0h24v1h-24zm25 0h1v1h-1zm-35 1h34v1h-34zm35 0h1v1h-1zm-35 1h1v1h-1zm2 0h33v1h-33zm-2 1h1v1h-1zm2 0h33v1h-33zm-1 1h35v1h-35zm-1 1h33v1h-33zm34 0h1v1h-1zm-34 1h3v1h-3zm4 0h27v1h-27zm28 0h1v1h-1zm2 0h3v1h-3zm-34 1h34v1h-34zm1 1h33v1h-33zm-1 1h1v1h-1zm2 0h31v1h-31zm33 0h1v1h-1zm-35 1h1v1h-1zm2 0h2v1h-2zm3 0h31v1h-31zm-4 1h2v1h-2zm3 0h22v1h-22zm23 0h8v1h-8zm9 0h1v1h-1zm-36 1h35v1h-35zm3 1h9v1h-9zm10 0h22v1h-22zm-10 1h1v1h-1zm2 0h27v1h-27zm-3 1h2v1h-2zm3 0h3v1h-3zm4 0h23v1h-23zm-5 1h1v1h-1zm2 0h4v1h-4zm5 0h23v1h-23zm24 0h1v1h-1zm-34 1h1v1h-1zm2 0h1v1h-1zm2 0h6v1h-6zm7 0h1v1h-1zm2 0h11v1h-11zm12 0h2v1h-2zm3 0h1v1h-1zm-25 1h2v1h-2zm4 0h13v1h-13zm14 0h9v1h-9zm-22 1h1v1h-1zm4 0h1v1h-1zm4 0h1v1h-1zm2 0h2v1h-2zm3 0h3v1h-3zm4 0h4v1h-4zm5 0h6v1h-6zm7 0h1v1h-1zm2 0h1v1h-1zm2 0h2v1h-2zm-30 1h1v1h-1zm2 0h1v1h-1zm3 0h3v1h-3zm7 0h6v1h-6zm7 0h6v1h-6zm7 0h1v1h-1zm3 0h1v1h-1zm2 0h1v1h-1zm-28 1h1v1h-1zm5 0h7v1h-7zm8 0h4v1h-4zm5 0h3v1h-3zm-22 1h1v1h-1zm2 0h1v1h-1zm2 0h1v1h-1zm2 0h1v1h-1zm2 0h4v1h-4zm5 0h3v1h-3zm6 0h5v1h-5zm9 0h1v1h-1zm3 0h1v1h-1zm-32 1h1v1h-1zm4 0h2v1h-2zm3 0h1v1h-1zm2 0h2v1h-2zm5 0h2v1h-2zm3 0h7v1h-7zm9 0h2v1h-2zm3 0h2v1h-2zm3 0h1v1h-1zm2 0h1v1h-1zm-34 1h2v1h-2zm5 0h2v1h-2zm3 0h6v1h-6zm7 0h7v1h-7zm8 0h4v1h-4zm5 0h1v1h-1zm-25 1h1v1h-1zm2 0h2v1h-2zm3 0h1v1h-1zm2 0h3v1h-3zm4 0h1v1h-1zm2 0h14v1h-14zm15 0h1v1h-1zm-27 1h2v1h-2zm6 0h1v1h-1zm3 0h1v1h-1zm2 0h6v1h-6zm7 0h2v1h-2zm3 0h2v1h-2zm6 0h1v1h-1zm-32 1h2v1h-2zm9 0h2v1h-2zm3 0h7v1h-7zm9 0h4v1h-4zm5 0h2v1h-2zm3 0h1v1h-1zm2 0h2v1h-2zm-27 1h1v1h-1zm3 0h4v1h-4zm5 0h4v1h-4zm8 0h4v1h-4zm6 0h5v1h-5zm-24 1h1v1h-1zm4 0h3v1h-3zm4 0h1v1h-1zm2 0h4v1h-4zm5 0h2v1h-2zm3 0h2v1h-2zm3 0h2v1h-2zm3 0h5v1h-5zm-26 1h2v1h-2zm5 0h3v1h-3zm6 0h5v1h-5zm6 0h5v1h-5zm6 0h1v1h-1zm2 0h5v1h-5zm6 0h1v1h-1zm3 0h1v1h-1zm-31 1h2v1h-2zm4 0h5v1h-5zm7 0h1v1h-1zm2 0h2v1h-2zm3 0h4v1h-4zm6 0h2v1h-2zm3 0h1v1h-1zm2 0h1v1h-1zm-26 1h1v1h-1zm3 0h4v1h-4zm5 0h5v1h-5zm6 0h9v1h-9zm11 0h1v1h-1zm-23 1h4v1h-4zm5 0h7v1h-7zm8 0h11v1h-11zm13 0h2v1h-2zm-32 1h1v1h-1zm2 0h1v1h-1zm2 0h1v1h-1zm3 0h1v1h-1zm2 0h3v1h-3zm5 0h13v1h-13zm16 0h1v1h-1zm2 0h1v1h-1zm2 0h1v1h-1zm-34 1h1v1h-1zm2 0h1v1h-1zm3 0h1v1h-1zm3 0h1v1h-1zm2 0h1v1h-1zm2 0h3v1h-3zm4 0h1v1h-1zm2 0h4v1h-4zm5 0h1v1h-1zm3 0h4v1h-4zm5 0h1v1h-1zm-28 1h1v1h-1zm3 0h3v1h-3zm4 0h1v1h-1zm4 0h1v1h-1zm2 0h5v1h-5zm6 0h8v1h-8zm10 0h1v1h-1zm-28 1h1v1h-1zm2 0h1v1h-1zm2 0h4v1h-4zm5 0h4v1h-4zm5 0h11v1h-11zm13 0h4v1h-4zm-31 1h1v1h-1zm4 0h2v1h-2zm4 0h1v1h-1zm2 0h5v1h-5zm6 0h10v1h-10zm11 0h5v1h-5zm6 0h1v1h-1zm-33 1h1v1h-1zm2 0h1v1h-1zm7 0h1v1h-1zm2 0h18v1h-18zm19 0h1v1h-1zm-27 1h2v1h-2zm4 0h1v1h-1zm2 0h7v1h-7zm8 0h2v1h-2zm3 0h10v1h-10zm-19 1h1v1h-1zm4 0h1v1h-1zm2 0h8v1h-8zm9 0h15v1h-15zm16 0h1v1h-1zm-25 1h27v1h-27zm-5 1h1v1h-1zm4 0h2v1h-2zm3 0h4v1h-4zm5 0h18v1h-18zm19 0h2v1h-2zm-28 1h1v1h-1zm4 0h1v1h-1zm2 0h19v1h-19zm20 0h3v1h-3zm-26 1h4v1h-4zm5 0h22v1h-22zm24 0h1v1h-1zm-30 1h1v1h-1zm2 0h2v1h-2zm4 0h23v1h-23zm24 0h1v1h-1zm-32 1h1v1h-1zm4 0h7v1h-7zm8 0h19v1h-19zm-12 1h1v1h-1zm4 0h2v1h-2zm3 0h19v1h-19zm20 0h1v1h-1zm2 0h4v1h-4zm-31 1h1v1h-1zm3 0h4v1h-4zm5 0h3v1h-3zm4 0h19v1h-19zm-10 1h1v1h-1zm2 0h2v1h-2zm3 0h11v1h-11zm12 0h9v1h-9zm10 0h6v1h-6zm-26 1h1v1h-1zm2 0h1v1h-1zm2 0h3v1h-3zm4 0h21v1h-21zm23 0h1v1h-1zm-28 1h4v1h-4zm5 0h11v1h-11zm13 0h7v1h-7zm8 0h3v1h-3zm-31 1h2v1h-2zm4 0h3v1h-3zm4 0h19v1h-19zm20 0h3v1h-3zm-26 1h1v1h-1zm2 0h26v1h-26zm27 0h3v1h-3zm-28 1h5v1h-5zm6 0h2v1h-2zm3 0h21v1h-21zm-13 1h3v1h-3zm4 0h1v1h-1zm4 0h24v1h-24zm25 0h1v1h-1zm-31 1h1v1h-1zm3 0h4v1h-4zm6 0h12v1h-12zm13 0h10v1h-10zm-23 1h1v1h-1zm3 0h1v1h-1zm2 0h10v1h-10zm11 0h12v1h-12zm13 0h2v1h-2zm-24 1h2v1h-2zm3 0h16v1h-16zm17 0h8v1h-8zm-25 1h1v1h-1zm4 0h23v1h-23zm25 0h2v1h-2zm3 0h1v1h-1zm-30 1h1v1h-1zm3 0h2v1h-2zm3 0h10v1h-10zm11 0h12v1h-12zm13 0h1v1h-1zm-27 1h1v1h-1zm2 0h4v1h-4zm5 0h22v1h-22zm-9 1h1v1h-1zm2 0h1v1h-1zm2 0h1v1h-1zm3 0h9v1h-9zm10 0h12v1h-12zm-21 1h2v1h-2zm3 0h1v1h-1zm3 0h3v1h-3zm4 0h2v1h-2zm3 0h5v1h-5zm6 0h1v1h-1zm3 0h6v1h-6zm7 0h4v1h-4zm-25 1h1v1h-1zm4 0h6v1h-6zm7 0h10v1h-10zm12 0h1v1h-1zm2 0h2v1h-2zm3 0h2v1h-2zm-28 1h1v1h-1zm3 0h1v1h-1zm3 0h20v1h-20zm24 0h1v1h-1zm-34 1h1v1h-1zm2 0h1v1h-1zm3 0h2v1h-2zm3 0h2v1h-2zm3 0h2v1h-2zm3 0h3v1h-3zm5 0h10v1h-10zm13 0h1v1h-1zm-31 1h1v1h-1zm5 0h1v1h-1zm2 0h2v1h-2zm4 0h11v1h-11zm12 0h1v1h-1zm3 0h4v1h-4zm6 0h2v1h-2zm-24 1h1v1h-1zm2 0h3v1h-3zm4 0h11v1h-11zm12 0h3v1h-3zm4 0h1v1h-1zm-30 1h1v1h-1zm7 0h2v1h-2zm3 0h4v1h-4zm5 0h13v1h-13zm14 0h4v1h-4zm-26 1h1v1h-1zm3 0h1v1h-1zm2 0h3v1h-3zm7 0h8v1h-8zm9 0h1v1h-1zm2 0h4v1h-4zm5 0h1v1h-1zm2 0h1v1h-1zm-32 1h2v1h-2zm5 0h1v1h-1zm2 0h7v1h-7zm8 0h11v1h-11zm13 0h1v1h-1zm3 0h1v1h-1zm-30 1h1v1h-1zm7 0h1v1h-1zm3 0h1v1h-1zm2 0h15v1h-15zm-10 1h1v1h-1zm4 0h1v1h-1zm2 0h5v1h-5zm6 0h7v1h-7zm8 0h2v1h-2zm3 0h2v1h-2zm-23 1h1v1h-1zm7 0h14v1h-14zm15 0h5v1h-5zm7 0h1v1h-1zm-27 1h2v1h-2zm3 0h6v1h-6zm8 0h2v1h-2zm3 0h5v1h-5zm7 0h2v1h-2zm-22 1h1v1h-1zm4 0h1v1h-1zm2 0h1v1h-1zm2 0h15v1h-15zm16 0h1v1h-1zm2 0h1v1h-1zm-32 1h1v1h-1zm2 0h1v1h-1zm3 0h1v1h-1zm2 0h25v1h-25zm-4 1h1v1h-1zm2 0h1v1h-1zm5 0h20v1h-20zm-7 1h1v1h-1zm2 0h2v1h-2zm3 0h1v1h-1zm3 0h3v1h-3zm4 0h15v1h-15zm18 0h1v1h-1zm-32 1h1v1h-1zm2 0h1v1h-1zm2 0h3v1h-3zm6 0h1v1h-1zm2 0h3v1h-3zm4 0h1v1h-1zm2 0h7v1h-7zm8 0h7v1h-7zm-23 1h3v1h-3zm4 0h17v1h-17zm18 0h4v1h-4zm6 0h1v1h-1zm-29 1h1v1h-1zm2 0h1v1h-1zm2 0h9v1h-9zm10 0h2v1h-2zm3 0h5v1h-5zm6 0h7v1h-7zm-26 1h1v1h-1zm2 0h1v1h-1zm2 0h2v1h-2zm5 0h2v1h-2zm3 0h3v1h-3zm4 0h3v1h-3zm4 0h5v1h-5zm6 0h6v1h-6zm-18 1h2v1h-2zm3 0h16v1h-16zm17 0h6v1h-6zm-26 1h2v1h-2zm4 0h1v1h-1zm2 0h1v1h-1zm2 0h5v1h-5zm6 0h6v1h-6zm7 0h8v1h-8zm9 0h2v1h-2zm-32 1h1v1h-1zm3 0h3v1h-3zm4 0h1v1h-1zm2 0h1v1h-1zm2 0h18v1h-18zm19 0h1v1h-1zm2 0h3v1h-3zm-32 1h2v1h-2zm4 0h1v1h-1zm2 0h1v1h-1zm4 0h20v1h-20zm21 0h1v1h-1zm2 0h1v1h-1zm-30 1h1v1h-1zm2 0h1v1h-1zm4 0h1v1h-1zm2 0h3v1h-3zm4 0h7v1h-7zm8 0h3v1h-3zm4 0h5v1h-5zm6 0h1v1h-1zm-29 1h1v1h-1zm2 0h2v1h-2zm3 0h17v1h-17zm18 0h1v1h-1zm2 0h3v1h-3zm-26 1h5v1h-5zm6 0h1v1h-1zm2 0h5v1h-5zm6 0h1v1h-1zm2 0h1v1h-1zm2 0h10v1h-10zm11 0h1v1h-1zm2 0h1v1h-1zm-32 1h2v1h-2zm3 0h2v1h-2zm3 0h16v1h-16zm17 0h3v1h-3zm4 0h5v1h-5zm-26 1h1v1h-1zm4 0h1v1h-1zm2 0h2v1h-2zm4 0h14v1h-14zm15 0h3v1h-3zm4 0h3v1h-3zm-28 1h2v1h-2zm5 0h2v1h-2zm3 0h16v1h-16zm17 0h4v1h-4zm-26 1h1v1h-1zm3 0h6v1h-6zm7 0h19v1h-19zm21 0h1v1h-1zm-32 1h1v1h-1zm2 0h4v1h-4zm5 0h24v1h-24zm25 0h1v1h-1zm-31 1h3v1h-3zm4 0h6v1h-6zm7 0h11v1h-11zm12 0h4v1h-4zm5 0h2v1h-2zm-29 1h2v1h-2zm6 0h4v1h-4zm6 0h9v1h-9zm11 0h4v1h-4zm5 0h3v1h-3zm-27 1h1v1h-1zm3 0h2v1h-2zm3 0h3v1h-3zm4 0h14v1h-14zm16 0h1v1h-1zm2 0h4v1h-4zm-22 1h2v1h-2zm3 0h2v1h-2zm3 0h13v1h-13zm14 0h3v1h-3zm4 0h1v1h-1zm-28 1h1v1h-1zm2 0h1v1h-1zm2 0h2v1h-2zm3 0h1v1h-1zm2 0h11v1h-11zm12 0h1v1h-1zm2 0h1v1h-1zm2 0h2v1h-2zm4 0h1v1h-1zm-32 1h1v1h-1zm2 0h1v1h-1zm2 0h1v1h-1zm2 0h18v1h-18zm20 0h1v1h-1zm2 0h1v1h-1zm2 0h2v1h-2zm-28 1h2v1h-2zm4 0h1v1h-1zm2 0h2v1h-2zm3 0h3v1h-3zm4 0h13v1h-13zm14 0h1v1h-1zm3 0h1v1h-1zm-33 1h1v1h-1zm3 0h1v1h-1zm4 0h21v1h-21zm23 0h2v1h-2z" fill="#080808"/><path d="M147 837h2v2h-2zM161 838h2v2h-2zM139 839h2v2h-2zM156 843h2v2h-2zM150 844h2v2h-2zM145 845h2v2h-2zM134 846h2v2h-2zM139 846h2v2h-2zM160 846h2v2h-2zM137 847h2v2h-2zM138 847h2v2h-2zM140 847h2v2h-2zM147 847h2v2h-2zM146 848h2v2h-2zM149 848h2v2h-2zM152 848h2v2h-2zM133 849h2v2h-2zM135 849h2v2h-2zM138 849h2v2h-2zM140 849h2v2h-2zM145 849h2v2h-2zM146 849h2v2h-2zM148 849h2v2h-2zM131 850h2v2h-2zM132 850h2v2h-2zM138 850h2v2h-2zM141 850h2v2h-2zM132 851h2v2h-2zM135 851h2v2h-2zM159 851h2v2h-2zM165 851h2v2h-2zM131 852h2v2h-2zM137 852h2v2h-2zM142 852h2v2h-2zM132 853h2v2h-2zM133 853h2v2h-2zM137 853h2v2h-2zM133 854h2v2h-2zM136 854h2v2h-2zM138 854h2v2h-2zM153 854h2v2h-2zM133 855h2v2h-2zM134 855h2v2h-2zM135 855h2v2h-2zM140 855h2v2h-2zM142 855h2v2h-2zM144 855h2v2h-2zM170 855h2v2h-2zM134 856h2v2h-2zM153 856h2v2h-2zM147 857h2v2h-2zM154 857h2v2h-2zM157 857h2v2h-2zM158 857h2v2h-2zM139 858h2v2h-2zM141 859h2v2h-2zM135 860h2v2h-2zM139 860h2v2h-2zM139 862h2v2h-2zM147 862h2v2h-2zM137 864h2v2h-2zM138 868h2v2h-2zM135 876h2v2h-2zM138 885h2v2h-2zM133 892h2v2h-2zM140 895h2v2h-2zM146 900h2v2h-2zM136 910h2v2h-2zM140 930h2v2h-2zM143 940h2v2h-2zM135 945h2v2h-2z" fill="#bdbdbd"/>
<path d="M93.5 812.5H238.5V954.5H93.5ZM129.5 812.5V954.5M93.5 919.5H238.5" stroke="#262626" stroke-width="1.15" fill="none"/>
<path d="M91.0 919.5h2.5M129.5 954.5v2.5M91.0 883.5h2.5M165.5 954.5v2.5M91.0 847.5h2.5M202.5 954.5v2.5" stroke="#333" stroke-width="1" fill="none"/>
<text transform="translate(89.4 953.6) rotate(-90)" style="font-family:'Liberation Sans',sans-serif;font-size:6.8px;font-weight:bold" fill="#333">10<tspan dy="-2.6" font-size="4.5px">0</tspan></text>
<text x="93" y="964.1" style="font-family:'Liberation Sans',sans-serif;font-size:6.8px;font-weight:bold" fill="#333">10<tspan dy="-2.6" font-size="4.5px">0</tspan></text>
<text transform="translate(89.4 918) rotate(-90)" style="font-family:'Liberation Sans',sans-serif;font-size:6.8px;font-weight:bold" fill="#333">10<tspan dy="-2.6" font-size="4.5px">1</tspan></text>
<text x="129.4" y="964.1" style="font-family:'Liberation Sans',sans-serif;font-size:6.8px;font-weight:bold" fill="#333">10<tspan dy="-2.6" font-size="4.5px">1</tspan></text>
<text transform="translate(89.4 882.4) rotate(-90)" style="font-family:'Liberation Sans',sans-serif;font-size:6.8px;font-weight:bold" fill="#333">10<tspan dy="-2.6" font-size="4.5px">2</tspan></text>
<text x="165.8" y="964.1" style="font-family:'Liberation Sans',sans-serif;font-size:6.8px;font-weight:bold" fill="#333">10<tspan dy="-2.6" font-size="4.5px">2</tspan></text>
<text transform="translate(89.4 846.8) rotate(-90)" style="font-family:'Liberation Sans',sans-serif;font-size:6.8px;font-weight:bold" fill="#333">10<tspan dy="-2.6" font-size="4.5px">3</tspan></text>
<text x="202.2" y="964.1" style="font-family:'Liberation Sans',sans-serif;font-size:6.8px;font-weight:bold" fill="#333">10<tspan dy="-2.6" font-size="4.5px">3</tspan></text>
<text transform="translate(89.4 811.2) rotate(-90)" style="font-family:'Liberation Sans',sans-serif;font-size:6.8px;font-weight:bold" fill="#333">10<tspan dy="-2.6" font-size="4.5px">4</tspan></text>
<text x="238.6" y="964.1" style="font-family:'Liberation Sans',sans-serif;font-size:6.8px;font-weight:bold" fill="#333">10<tspan dy="-2.6" font-size="4.5px">4</tspan></text>
<text transform="translate(84.2 883.4) rotate(-90)" text-anchor="middle" style="font-family:'Liberation Sans',sans-serif;font-size:6.4px;font-weight:bold" fill="#222">CD8 APC</text>
<text x="164.3" y="970.9" text-anchor="middle" style="font-family:'Liberation Sans',sans-serif;font-size:5.8px;font-weight:bold" fill="#222">IFNg FITC</text>
<text x="174.1" y="912.5" style="font-family:'Liberation Serif',serif;stroke:#111;stroke-width:0.3px;font-size:16px" fill="#111">0.64%</text>
<path d="M285 837h1v1h-1zm-1 1h1v1h-1zm2 0h4v1h-4zm5 0h2v1h-2zm5 0h1v1h-1zm6 0h2v1h-2zm-20 1h4v1h-4zm5 0h1v1h-1zm2 0h6v1h-6zm8 0h2v1h-2zm3 0h2v1h-2zm4 0h1v1h-1zm2 0h1v1h-1zm3 0h2v1h-2zm-32 1h1v1h-1zm2 0h1v1h-1zm2 0h15v1h-15zm16 0h7v1h-7zm8 0h2v1h-2zm3 0h3v1h-3zm6 0h1v1h-1zm-39 1h1v1h-1zm3 0h1v1h-1zm3 0h3v1h-3zm4 0h19v1h-19zm20 0h5v1h-5zm-28 1h1v1h-1zm2 0h8v1h-8zm9 0h24v1h-24zm-11 1h1v1h-1zm2 0h4v1h-4zm5 0h2v1h-2zm3 0h25v1h-25zm-12 1h1v1h-1zm2 0h1v1h-1zm2 0h30v1h-30zm31 0h1v1h-1zm2 0h1v1h-1zm-36 1h1v1h-1zm2 0h4v1h-4zm5 0h31v1h-31zm-7 1h38v1h-38zm-1 1h1v1h-1zm2 0h36v1h-36zm-2 1h4v1h-4zm5 0h6v1h-6zm7 0h26v1h-26zm-12 1h37v1h-37zm0 1h1v1h-1zm2 0h36v1h-36zm-1 1h38v1h-38zm-1 1h1v1h-1zm2 0h2v1h-2zm3 0h33v1h-33zm34 0h1v1h-1zm-39 1h24v1h-24zm25 0h13v1h-13zm-24 1h37v1h-37zm-1 1h36v1h-36zm38 0h1v1h-1zm-35 1h37v1h-37zm-2 1h2v1h-2zm3 0h10v1h-10zm11 0h23v1h-23zm-15 1h2v1h-2zm3 0h35v1h-35zm36 0h1v1h-1zm-39 1h1v1h-1zm3 0h32v1h-32zm33 0h2v1h-2zm3 0h1v1h-1zm-38 1h2v1h-2zm5 0h32v1h-32zm-6 1h1v1h-1zm3 0h3v1h-3zm4 0h30v1h-30zm32 0h1v1h-1zm2 0h1v1h-1zm-40 1h3v1h-3zm4 0h3v1h-3zm5 0h26v1h-26zm27 0h1v1h-1zm-34 1h5v1h-5zm6 0h18v1h-18zm19 0h4v1h-4zm5 0h1v1h-1zm2 0h1v1h-1zm4 0h1v1h-1zm-35 1h4v1h-4zm5 0h1v1h-1zm2 0h1v1h-1zm2 0h23v1h-23zm24 0h1v1h-1zm-35 1h1v1h-1zm3 0h1v1h-1zm3 0h27v1h-27zm28 0h2v1h-2zm-35 1h1v1h-1zm3 0h1v1h-1zm2 0h1v1h-1zm4 0h24v1h-24zm25 0h4v1h-4zm-35 1h1v1h-1zm2 0h2v1h-2zm4 0h3v1h-3zm4 0h2v1h-2zm3 0h18v1h-18zm19 0h2v1h-2zm5 0h1v1h-1zm-34 1h1v1h-1zm2 0h1v1h-1zm2 0h1v1h-1zm3 0h3v1h-3zm4 0h4v1h-4zm5 0h14v1h-14zm-19 1h2v1h-2zm6 0h6v1h-6zm8 0h3v1h-3zm4 0h15v1h-15zm16 0h3v1h-3zm-33 1h1v1h-1zm2 0h1v1h-1zm3 0h7v1h-7zm8 0h1v1h-1zm2 0h12v1h-12zm13 0h2v1h-2zm3 0h3v1h-3zm-29 1h1v1h-1zm3 0h1v1h-1zm3 0h1v1h-1zm3 0h2v1h-2zm3 0h7v1h-7zm8 0h5v1h-5zm6 0h4v1h-4zm5 0h3v1h-3zm-33 1h1v1h-1zm4 0h4v1h-4zm5 0h7v1h-7zm8 0h6v1h-6zm7 0h5v1h-5zm6 0h5v1h-5zm-31 1h2v1h-2zm3 0h1v1h-1zm2 0h1v1h-1zm4 0h22v1h-22zm23 0h1v1h-1zm2 0h1v1h-1zm2 0h1v1h-1zm2 0h1v1h-1zm-37 1h2v1h-2zm3 0h1v1h-1zm2 0h4v1h-4zm5 0h3v1h-3zm4 0h1v1h-1zm2 0h11v1h-11zm14 0h6v1h-6zm-29 1h3v1h-3zm5 0h5v1h-5zm6 0h16v1h-16zm17 0h1v1h-1zm2 0h1v1h-1zm3 0h1v1h-1zm-28 1h2v1h-2zm3 0h6v1h-6zm7 0h10v1h-10zm12 0h3v1h-3zm5 0h1v1h-1zm-29 1h2v1h-2zm6 0h4v1h-4zm5 0h7v1h-7zm8 0h1v1h-1zm2 0h6v1h-6zm7 0h1v1h-1zm-33 1h1v1h-1zm2 0h1v1h-1zm2 0h1v1h-1zm4 0h4v1h-4zm5 0h23v1h-23zm-10 1h3v1h-3zm4 0h3v1h-3zm4 0h1v1h-1zm2 0h10v1h-10zm12 0h4v1h-4zm5 0h3v1h-3zm4 0h1v1h-1zm-33 1h1v1h-1zm4 0h3v1h-3zm4 0h6v1h-6zm7 0h20v1h-20zm-11 1h3v1h-3zm4 0h22v1h-22zm23 0h3v1h-3zm-29 1h2v1h-2zm3 0h2v1h-2zm3 0h7v1h-7zm8 0h16v1h-16zm17 0h2v1h-2zm-30 1h2v1h-2zm3 0h3v1h-3zm4 0h2v1h-2zm3 0h13v1h-13zm14 0h9v1h-9zm-28 1h2v1h-2zm4 0h16v1h-16zm17 0h9v1h-9zm10 0h2v1h-2zm3 0h3v1h-3zm-28 1h28v1h-28zm30 0h1v1h-1zm2 0h1v1h-1zm-36 1h1v1h-1zm2 0h9v1h-9zm10 0h21v1h-21zm22 0h1v1h-1zm-33 1h3v1h-3zm4 0h1v1h-1zm2 0h2v1h-2zm3 0h21v1h-21zm22 0h2v1h-2zm-34 1h1v1h-1zm5 0h1v1h-1zm2 0h4v1h-4zm5 0h20v1h-20zm21 0h2v1h-2zm3 0h1v1h-1zm-30 1h30v1h-30zm-6 1h3v1h-3zm5 0h3v1h-3zm4 0h1v1h-1zm2 0h21v1h-21zm22 0h3v1h-3zm4 0h1v1h-1zm-37 1h1v1h-1zm3 0h15v1h-15zm16 0h17v1h-17zm-16 1h2v1h-2zm3 0h1v1h-1zm2 0h1v1h-1zm2 0h14v1h-14zm15 0h11v1h-11zm13 0h1v1h-1zm-36 1h1v1h-1zm3 0h1v1h-1zm2 0h27v1h-27zm28 0h1v1h-1zm-35 1h2v1h-2zm5 0h24v1h-24zm25 0h7v1h-7zm-30 1h6v1h-6zm7 0h6v1h-6zm7 0h4v1h-4zm5 0h14v1h-14zm16 0h2v1h-2zm-31 1h16v1h-16zm17 0h8v1h-8zm9 0h1v1h-1zm2 0h3v1h-3zm-29 1h10v1h-10zm11 0h17v1h-17zm18 0h1v1h-1zm2 0h1v1h-1zm-34 1h3v1h-3zm6 0h3v1h-3zm4 0h3v1h-3zm4 0h1v1h-1zm2 0h17v1h-17zm18 0h4v1h-4zm-34 1h4v1h-4zm5 0h32v1h-32zm-3 1h1v1h-1zm2 0h1v1h-1zm2 0h5v1h-5zm6 0h18v1h-18zm19 0h6v1h-6zm-30 1h1v1h-1zm3 0h1v1h-1zm2 0h16v1h-16zm17 0h12v1h-12zm-23 1h3v1h-3zm5 0h2v1h-2zm3 0h1v1h-1zm3 0h17v1h-17zm18 0h1v1h-1zm2 0h5v1h-5zm-27 1h1v1h-1zm2 0h1v1h-1zm2 0h28v1h-28zm-7 1h2v1h-2zm3 0h1v1h-1zm2 0h2v1h-2zm3 0h24v1h-24zm25 0h1v1h-1zm2 0h1v1h-1zm-34 1h1v1h-1zm3 0h1v1h-1zm2 0h2v1h-2zm3 0h15v1h-15zm17 0h7v1h-7zm-23 1h2v1h-2zm3 0h2v1h-2zm3 0h12v1h-12zm13 0h8v1h-8zm9 0h6v1h-6zm-26 1h4v1h-4zm6 0h3v1h-3zm5 0h2v1h-2zm3 0h7v1h-7zm8 0h4v1h-4zm5 0h1v1h-1zm2 0h1v1h-1zm-35 1h2v1h-2zm3 0h1v1h-1zm2 0h7v1h-7zm8 0h20v1h-20zm-11 1h1v1h-1zm2 0h1v1h-1zm4 0h9v1h-9zm10 0h10v1h-10zm11 0h6v1h-6zm-26 1h2v1h-2zm4 0h2v1h-2zm3 0h3v1h-3zm4 0h19v1h-19zm20 0h4v1h-4zm-34 1h1v1h-1zm3 0h1v1h-1zm3 0h1v1h-1zm2 0h1v1h-1zm3 0h1v1h-1zm2 0h5v1h-5zm6 0h9v1h-9zm10 0h3v1h-3zm4 0h1v1h-1zm4 0h1v1h-1zm-37 1h1v1h-1zm8 0h3v1h-3zm4 0h8v1h-8zm9 0h10v1h-10zm14 0h1v1h-1zm3 0h1v1h-1zm-35 1h1v1h-1zm4 0h1v1h-1zm3 0h4v1h-4zm5 0h5v1h-5zm6 0h1v1h-1zm2 0h2v1h-2zm3 0h3v1h-3zm4 0h2v1h-2zm-24 1h3v1h-3zm5 0h1v1h-1zm3 0h15v1h-15zm16 0h2v1h-2zm7 0h1v1h-1zm-32 1h1v1h-1zm4 0h1v1h-1zm3 0h2v1h-2zm3 0h1v1h-1zm3 0h5v1h-5zm6 0h1v1h-1zm3 0h1v1h-1zm2 0h2v1h-2zm3 0h1v1h-1zm2 0h1v1h-1zm-29 1h1v1h-1zm5 0h1v1h-1zm3 0h5v1h-5zm6 0h10v1h-10zm12 0h1v1h-1zm3 0h1v1h-1zm-29 1h1v1h-1zm2 0h1v1h-1zm2 0h1v1h-1zm2 0h2v1h-2zm4 0h6v1h-6zm7 0h1v1h-1zm2 0h7v1h-7zm8 0h3v1h-3zm-31 1h1v1h-1zm9 0h1v1h-1zm3 0h3v1h-3zm5 0h9v1h-9zm10 0h1v1h-1zm2 0h2v1h-2zm3 0h1v1h-1zm-32 1h1v1h-1zm2 0h2v1h-2zm9 0h16v1h-16zm17 0h1v1h-1zm4 0h3v1h-3zm4 0h1v1h-1zm-25 1h1v1h-1zm2 0h3v1h-3zm4 0h2v1h-2zm3 0h3v1h-3zm5 0h5v1h-5zm6 0h1v1h-1zm-32 1h1v1h-1zm5 0h2v1h-2zm4 0h1v1h-1zm2 0h3v1h-3zm4 0h13v1h-13zm16 0h1v1h-1zm4 0h1v1h-1zm-32 1h1v1h-1zm2 0h2v1h-2zm4 0h1v1h-1zm2 0h4v1h-4zm7 0h1v1h-1zm2 0h4v1h-4zm5 0h2v1h-2zm3 0h1v1h-1zm3 0h1v1h-1zm6 0h1v1h-1zm-34 1h1v1h-1zm3 0h1v1h-1zm2 0h1v1h-1zm6 0h1v1h-1zm2 0h1v1h-1zm2 0h13v1h-13zm16 0h3v1h-3zm-30 1h1v1h-1zm8 0h2v1h-2zm4 0h6v1h-6zm7 0h5v1h-5zm6 0h1v1h-1zm2 0h2v1h-2zm3 0h1v1h-1zm-34 1h1v1h-1zm3 0h1v1h-1zm4 0h1v1h-1zm3 0h5v1h-5zm7 0h3v1h-3zm4 0h5v1h-5zm6 0h3v1h-3zm5 0h1v1h-1zm3 0h1v1h-1zm-33 1h1v1h-1zm6 0h8v1h-8zm10 0h1v1h-1zm2 0h9v1h-9zm10 0h2v1h-2zm3 0h5v1h-5zm-24 1h1v1h-1zm5 0h8v1h-8zm10 0h1v1h-1zm2 0h3v1h-3zm4 0h1v1h-1zm2 0h2v1h-2zm5 0h1v1h-1zm-31 1h2v1h-2zm3 0h2v1h-2zm3 0h1v1h-1zm2 0h5v1h-5zm6 0h3v1h-3zm4 0h4v1h-4zm6 0h1v1h-1zm3 0h1v1h-1zm-33 1h2v1h-2zm6 0h4v1h-4zm5 0h3v1h-3zm4 0h15v1h-15zm16 0h2v1h-2zm3 0h2v1h-2zm-34 1h1v1h-1zm6 0h1v1h-1zm2 0h1v1h-1zm3 0h8v1h-8zm9 0h10v1h-10zm11 0h1v1h-1zm2 0h1v1h-1zm2 0h1v1h-1zm-29 1h2v1h-2zm6 0h2v1h-2zm3 0h4v1h-4zm5 0h1v1h-1zm2 0h8v1h-8zm9 0h1v1h-1zm4 0h1v1h-1zm-22 1h8v1h-8zm9 0h9v1h-9zm10 0h4v1h-4zm-22 1h2v1h-2zm3 0h5v1h-5zm6 0h1v1h-1zm2 0h2v1h-2zm3 0h6v1h-6zm7 0h3v1h-3zm4 0h2v1h-2zm-29 1h1v1h-1zm2 0h1v1h-1zm3 0h1v1h-1zm2 0h3v1h-3zm4 0h1v1h-1zm2 0h11v1h-11zm12 0h3v1h-3zm4 0h1v1h-1zm-33 1h1v1h-1zm7 0h1v1h-1zm2 0h9v1h-9zm10 0h1v1h-1zm2 0h11v1h-11zm-17 1h3v1h-3zm5 0h17v1h-17zm18 0h4v1h-4zm6 0h3v1h-3zm-32 1h1v1h-1zm3 0h1v1h-1zm2 0h2v1h-2zm4 0h1v1h-1zm2 0h21v1h-21zm-11 1h1v1h-1zm4 0h2v1h-2zm3 0h5v1h-5zm6 0h9v1h-9zm10 0h7v1h-7zm8 0h2v1h-2zm3 0h1v1h-1zm-37 1h1v1h-1zm4 0h2v1h-2zm4 0h1v1h-1zm2 0h24v1h-24zm25 0h1v1h-1zm-32 1h1v1h-1zm4 0h11v1h-11zm12 0h15v1h-15zm-18 1h1v1h-1zm5 0h3v1h-3zm6 0h1v1h-1zm2 0h1v1h-1zm2 0h5v1h-5zm6 0h9v1h-9zm10 0h2v1h-2zm3 0h1v1h-1zm-29 1h2v1h-2zm4 0h8v1h-8zm9 0h6v1h-6zm7 0h2v1h-2zm3 0h5v1h-5zm6 0h1v1h-1zm-27 1h1v1h-1zm2 0h5v1h-5zm6 0h2v1h-2zm3 0h1v1h-1zm2 0h2v1h-2zm3 0h7v1h-7zm8 0h4v1h-4zm5 0h1v1h-1zm-34 1h2v1h-2zm5 0h1v1h-1zm2 0h1v1h-1zm2 0h7v1h-7zm8 0h9v1h-9zm10 0h6v1h-6zm-25 1h1v1h-1zm3 0h1v1h-1zm2 0h19v1h-19zm21 0h2v1h-2zm5 0h1v1h-1zm-35 1h2v1h-2zm4 0h1v1h-1zm2 0h3v1h-3zm4 0h19v1h-19zm21 0h1v1h-1zm2 0h1v1h-1zm-27 1h1v1h-1zm3 0h3v1h-3zm5 0h8v1h-8zm9 0h1v1h-1zm2 0h2v1h-2zm3 0h5v1h-5zm6 0h2v1h-2zm-34 1h1v1h-1zm6 0h2v1h-2zm3 0h23v1h-23zm-9 1h1v1h-1zm6 0h2v1h-2zm3 0h2v1h-2zm3 0h4v1h-4zm6 0h5v1h-5zm6 0h7v1h-7zm9 0h1v1h-1zm3 0h1v1h-1zm-28 1h1v1h-1zm2 0h7v1h-7zm8 0h12v1h-12zm13 0h1v1h-1zm3 0h1v1h-1zm-25 1h3v1h-3zm4 0h1v1h-1zm2 0h5v1h-5zm6 0h10v1h-10zm11 0h1v1h-1zm-32 1h2v1h-2zm4 0h1v1h-1zm3 0h2v1h-2zm3 0h14v1h-14zm15 0h6v1h-6zm8 0h3v1h-3zm-30 1h2v1h-2zm6 0h4v1h-4zm6 0h1v1h-1zm2 0h10v1h-10zm11 0h3v1h-3zm4 0h2v1h-2z" fill="#080808"/><path d="M328 839h2v2h-2zM332 841h2v2h-2zM317 843h2v2h-2zM324 844h2v2h-2zM327 845h2v2h-2zM319 846h2v2h-2zM327 846h2v2h-2zM320 848h2v2h-2zM321 848h2v2h-2zM330 849h2v2h-2zM334 849h2v2h-2zM329 850h2v2h-2zM330 850h2v2h-2zM352 850h2v2h-2zM323 851h2v2h-2zM329 851h2v2h-2zM318 852h2v2h-2zM320 852h2v2h-2zM325 852h2v2h-2zM342 852h2v2h-2zM318 853h2v2h-2zM323 853h2v2h-2zM326 853h2v2h-2zM335 853h2v2h-2zM350 853h2v2h-2zM357 853h2v2h-2zM318 854h2v2h-2zM328 854h2v2h-2zM333 854h2v2h-2zM322 855h2v2h-2zM326 855h2v2h-2zM328 855h2v2h-2zM318 856h2v2h-2zM323 856h2v2h-2zM324 856h2v2h-2zM330 856h2v2h-2zM335 856h2v2h-2zM351 856h2v2h-2zM356 856h2v2h-2zM317 857h2v2h-2zM326 857h2v2h-2zM337 857h2v2h-2zM342 857h2v2h-2zM317 858h2v2h-2zM318 858h2v2h-2zM321 858h2v2h-2zM324 858h2v2h-2zM344 858h2v2h-2zM345 858h2v2h-2zM318 859h2v2h-2zM321 859h2v2h-2zM325 859h2v2h-2zM343 859h2v2h-2zM321 860h2v2h-2zM322 860h2v2h-2zM324 860h2v2h-2zM343 860h2v2h-2zM344 860h2v2h-2zM352 860h2v2h-2zM360 860h2v2h-2zM321 861h2v2h-2zM351 861h2v2h-2zM317 862h2v2h-2zM338 862h2v2h-2zM327 864h2v2h-2zM336 864h2v2h-2zM348 864h2v2h-2zM361 864h2v2h-2zM367 864h2v2h-2zM320 865h2v2h-2zM325 865h2v2h-2zM338 866h2v2h-2zM323 867h2v2h-2zM330 867h2v2h-2zM354 867h2v2h-2zM341 870h2v2h-2zM345 870h2v2h-2zM326 872h2v2h-2zM341 877h2v2h-2zM318 878h2v2h-2zM340 878h2v2h-2zM325 881h2v2h-2zM333 883h2v2h-2zM325 884h2v2h-2zM350 885h2v2h-2zM336 886h2v2h-2zM320 890h2v2h-2zM327 893h2v2h-2zM330 896h2v2h-2zM332 900h2v2h-2zM327 902h2v2h-2zM318 905h2v2h-2zM329 906h2v2h-2zM325 908h2v2h-2zM320 910h2v2h-2zM340 910h2v2h-2zM326 912h2v2h-2zM326 913h2v2h-2zM323 918h2v2h-2zM322 920h2v2h-2zM337 920h2v2h-2zM340 923h2v2h-2zM318 926h2v2h-2zM338 928h2v2h-2zM323 934h2v2h-2zM336 934h2v2h-2zM346 934h2v2h-2zM321 935h2v2h-2zM324 936h2v2h-2zM320 941h2v2h-2zM323 942h2v2h-2zM317 947h2v2h-2z" fill="#bdbdbd"/>
<path d="M274.5 812.5H419.5V954.5H274.5ZM315.5 812.5V954.5M274.5 919.5H419.5" stroke="#262626" stroke-width="1.15" fill="none"/>
<path d="M272.0 918.5h2.5M310.5 954.5v2.5M272.0 883.5h2.5M347.5 954.5v2.5M272.0 847.5h2.5M383.5 954.5v2.5" stroke="#333" stroke-width="1" fill="none"/>
<text transform="translate(271 953.1) rotate(-90)" style="font-family:'Liberation Sans',sans-serif;font-size:6.8px;font-weight:bold" fill="#333">10<tspan dy="-2.6" font-size="4.5px">0</tspan></text>
<text x="274.6" y="963.6" style="font-family:'Liberation Sans',sans-serif;font-size:6.8px;font-weight:bold" fill="#333">10<tspan dy="-2.6" font-size="4.5px">0</tspan></text>
<text transform="translate(271 917.7) rotate(-90)" style="font-family:'Liberation Sans',sans-serif;font-size:6.8px;font-weight:bold" fill="#333">10<tspan dy="-2.6" font-size="4.5px">1</tspan></text>
<text x="310.9" y="963.6" style="font-family:'Liberation Sans',sans-serif;font-size:6.8px;font-weight:bold" fill="#333">10<tspan dy="-2.6" font-size="4.5px">1</tspan></text>
<text transform="translate(271 882.3) rotate(-90)" style="font-family:'Liberation Sans',sans-serif;font-size:6.8px;font-weight:bold" fill="#333">10<tspan dy="-2.6" font-size="4.5px">2</tspan></text>
<text x="347.2" y="963.6" style="font-family:'Liberation Sans',sans-serif;font-size:6.8px;font-weight:bold" fill="#333">10<tspan dy="-2.6" font-size="4.5px">2</tspan></text>
<text transform="translate(271 846.9) rotate(-90)" style="font-family:'Liberation Sans',sans-serif;font-size:6.8px;font-weight:bold" fill="#333">10<tspan dy="-2.6" font-size="4.5px">3</tspan></text>
<text x="383.5" y="963.6" style="font-family:'Liberation Sans',sans-serif;font-size:6.8px;font-weight:bold" fill="#333">10<tspan dy="-2.6" font-size="4.5px">3</tspan></text>
<text transform="translate(271 811.5) rotate(-90)" style="font-family:'Liberation Sans',sans-serif;font-size:6.8px;font-weight:bold" fill="#333">10<tspan dy="-2.6" font-size="4.5px">4</tspan></text>
<text x="419.8" y="963.6" style="font-family:'Liberation Sans',sans-serif;font-size:6.8px;font-weight:bold" fill="#333">10<tspan dy="-2.6" font-size="4.5px">4</tspan></text>
<text transform="translate(265.8 883.3) rotate(-90)" text-anchor="middle" style="font-family:'Liberation Sans',sans-serif;font-size:6.4px;font-weight:bold" fill="#222">CD8 APC</text>
<text x="345.7" y="970.4" text-anchor="middle" style="font-family:'Liberation Sans',sans-serif;font-size:5.8px;font-weight:bold" fill="#222">IFNg FITC</text>
<text x="354.7" y="912.5" style="font-family:'Liberation Serif',serif;stroke:#111;stroke-width:0.3px;font-size:16px" fill="#111">1.34%</text>
<text x="367.7" y="841.3" style="font-family:'Liberation Serif',serif;stroke:#111;stroke-width:0.3px;font-size:18px" fill="#111">PR</text>
<path d="M105 1021h1v1h-1zm2 1h1v1h-1zm4 0h1v1h-1zm2 0h1v1h-1zm-14 1h1v1h-1zm5 0h1v1h-1zm5 0h2v1h-2zm5 0h1v1h-1zm5 0h1v1h-1zm-19 1h1v1h-1zm2 0h1v1h-1zm3 0h1v1h-1zm2 0h1v1h-1zm2 0h1v1h-1zm2 0h1v1h-1zm2 0h2v1h-2zm3 0h1v1h-1zm2 0h5v1h-5zm-22 1h1v1h-1zm3 0h2v1h-2zm3 0h9v1h-9zm10 0h11v1h-11zm12 0h2v1h-2zm3 0h3v1h-3zm-33 1h36v1h-36zm0 1h39v1h-39zm0 1h36v1h-36zm37 0h1v1h-1zm-37 1h39v1h-39zm0 1h37v1h-37zm38 0h1v1h-1zm-38 1h38v1h-38zm0 1h38v1h-38zm39 0h1v1h-1zm-39 1h38v1h-38zm0 1h39v1h-39zm0 1h38v1h-38zm0 1h39v1h-39zm0 1h40v1h-40zm0 1h37v1h-37zm38 0h1v1h-1zm-38 1h38v1h-38zm0 1h39v1h-39zm0 1h39v1h-39zm0 1h35v1h-35zm36 0h2v1h-2zm-35 1h36v1h-36zm-1 1h35v1h-35zm36 0h2v1h-2zm-36 1h36v1h-36zm0 1h3v1h-3zm5 0h31v1h-31zm-4 1h1v1h-1zm2 0h27v1h-27zm28 0h2v1h-2zm3 0h3v1h-3zm-34 1h1v1h-1zm2 0h1v1h-1zm2 0h1v1h-1zm3 0h2v1h-2zm3 0h20v1h-20zm21 0h5v1h-5zm-31 1h1v1h-1zm2 0h12v1h-12zm13 0h1v1h-1zm2 0h7v1h-7zm8 0h3v1h-3zm4 0h3v1h-3zm5 0h1v1h-1zm3 0h1v1h-1zm-37 1h1v1h-1zm2 0h4v1h-4zm5 0h1v1h-1zm2 0h3v1h-3zm6 0h12v1h-12zm13 0h1v1h-1zm2 0h2v1h-2zm4 0h2v1h-2zm-32 1h3v1h-3zm4 0h1v1h-1zm3 0h1v1h-1zm2 0h1v1h-1zm2 0h1v1h-1zm2 0h2v1h-2zm3 0h2v1h-2zm3 0h5v1h-5zm7 0h4v1h-4zm6 0h1v1h-1zm-31 1h2v1h-2zm5 0h1v1h-1zm2 0h1v1h-1zm6 0h1v1h-1zm2 0h1v1h-1zm2 0h2v1h-2zm3 0h1v1h-1zm2 0h1v1h-1zm2 0h4v1h-4zm-25 1h2v1h-2zm7 0h1v1h-1zm2 0h1v1h-1zm4 0h2v1h-2zm4 0h2v1h-2zm5 0h1v1h-1zm2 0h1v1h-1zm3 0h6v1h-6zm7 0h1v1h-1zm-36 1h1v1h-1zm6 0h1v1h-1zm3 0h2v1h-2zm5 0h1v1h-1zm4 0h5v1h-5zm12 0h2v1h-2zm3 0h1v1h-1zm-24 1h1v1h-1zm3 0h1v1h-1zm3 0h1v1h-1zm3 0h1v1h-1zm2 0h1v1h-1zm-14 1h1v1h-1zm7 0h2v1h-2zm4 0h2v1h-2zm4 0h1v1h-1zm2 0h3v1h-3zm5 0h2v1h-2zm4 0h1v1h-1zm-31 1h2v1h-2zm10 0h3v1h-3zm4 0h3v1h-3zm4 0h1v1h-1zm4 0h1v1h-1zm2 0h3v1h-3zm4 0h3v1h-3zm-29 1h1v1h-1zm5 0h1v1h-1zm4 0h2v1h-2zm4 0h3v1h-3zm5 0h1v1h-1zm2 0h1v1h-1zm4 0h1v1h-1zm2 0h1v1h-1zm2 0h1v1h-1zm-20 1h1v1h-1zm3 0h1v1h-1zm4 0h1v1h-1zm3 0h1v1h-1zm2 0h3v1h-3zm4 0h1v1h-1zm3 0h1v1h-1zm5 0h1v1h-1zm-30 1h2v1h-2zm3 0h1v1h-1zm9 0h1v1h-1zm3 0h6v1h-6zm7 0h2v1h-2zm4 0h5v1h-5zm6 0h2v1h-2zm-27 1h1v1h-1zm3 0h1v1h-1zm2 0h1v1h-1zm2 0h1v1h-1zm2 0h3v1h-3zm4 0h3v1h-3zm7 0h1v1h-1zm2 0h1v1h-1zm-28 1h1v1h-1zm11 0h1v1h-1zm2 0h1v1h-1zm2 0h2v1h-2zm3 0h1v1h-1zm3 0h3v1h-3zm4 0h4v1h-4zm5 0h1v1h-1zm4 0h2v1h-2zm-28 1h1v1h-1zm3 0h2v1h-2zm3 0h2v1h-2zm3 0h4v1h-4zm5 0h3v1h-3zm4 0h1v1h-1zm3 0h1v1h-1zm5 0h1v1h-1zm3 0h1v1h-1zm-27 1h2v1h-2zm4 0h2v1h-2zm8 0h1v1h-1zm2 0h1v1h-1zm5 0h1v1h-1zm6 0h1v1h-1zm2 0h1v1h-1zm-33 1h1v1h-1zm3 0h1v1h-1zm6 0h2v1h-2zm6 0h1v1h-1zm5 0h1v1h-1zm2 0h5v1h-5zm11 0h1v1h-1zm-35 1h1v1h-1zm9 0h1v1h-1zm3 0h1v1h-1zm2 0h1v1h-1zm7 0h1v1h-1zm2 0h4v1h-4zm-23 1h1v1h-1zm5 0h1v1h-1zm4 0h2v1h-2zm8 0h3v1h-3zm4 0h1v1h-1zm3 0h1v1h-1zm2 0h7v1h-7zm-21 1h1v1h-1zm5 0h1v1h-1zm2 0h2v1h-2zm3 0h3v1h-3zm4 0h2v1h-2zm3 0h1v1h-1zm2 0h3v1h-3zm4 0h1v1h-1zm2 0h3v1h-3zm-24 1h1v1h-1zm4 0h1v1h-1zm3 0h3v1h-3zm5 0h3v1h-3zm4 0h2v1h-2zm4 0h2v1h-2zm5 0h1v1h-1zm3 0h1v1h-1zm-31 1h3v1h-3zm4 0h1v1h-1zm5 0h7v1h-7zm8 0h5v1h-5zm6 0h7v1h-7zm8 0h1v1h-1zm-33 1h2v1h-2zm8 0h1v1h-1zm2 0h1v1h-1zm2 0h3v1h-3zm4 0h7v1h-7zm10 0h1v1h-1zm2 0h3v1h-3zm4 0h1v1h-1zm-28 1h1v1h-1zm2 0h1v1h-1zm4 0h1v1h-1zm2 0h1v1h-1zm2 0h3v1h-3zm4 0h1v1h-1zm2 0h5v1h-5zm6 0h1v1h-1zm2 0h2v1h-2zm-30 1h1v1h-1zm4 0h1v1h-1zm5 0h1v1h-1zm2 0h1v1h-1zm2 0h2v1h-2zm3 0h6v1h-6zm8 0h5v1h-5zm7 0h1v1h-1zm-27 1h1v1h-1zm5 0h1v1h-1zm5 0h11v1h-11zm12 0h3v1h-3zm5 0h3v1h-3zm-28 1h1v1h-1zm2 0h1v1h-1zm5 0h1v1h-1zm4 0h2v1h-2zm3 0h3v1h-3zm5 0h4v1h-4zm5 0h3v1h-3zm4 0h3v1h-3zm4 0h1v1h-1zm-25 1h1v1h-1zm2 0h1v1h-1zm4 0h1v1h-1zm5 0h5v1h-5zm6 0h1v1h-1zm3 0h1v1h-1zm2 0h1v1h-1zm2 0h1v1h-1zm2 0h1v1h-1zm-36 1h1v1h-1zm3 0h1v1h-1zm4 0h1v1h-1zm3 0h1v1h-1zm2 0h2v1h-2zm6 0h2v1h-2zm3 0h3v1h-3zm5 0h2v1h-2zm3 0h1v1h-1zm3 0h1v1h-1zm3 0h3v1h-3zm-33 1h1v1h-1zm4 0h1v1h-1zm5 0h5v1h-5zm7 0h5v1h-5zm6 0h1v1h-1zm2 0h1v1h-1zm2 0h3v1h-3zm5 0h1v1h-1zm2 0h1v1h-1zm-29 1h1v1h-1zm4 0h1v1h-1zm3 0h1v1h-1zm3 0h2v1h-2zm3 0h1v1h-1zm2 0h1v1h-1zm2 0h5v1h-5zm8 0h2v1h-2zm-30 1h1v1h-1zm2 0h1v1h-1zm6 0h1v1h-1zm3 0h4v1h-4zm6 0h2v1h-2zm4 0h1v1h-1zm3 0h1v1h-1zm2 0h1v1h-1zm2 0h2v1h-2zm3 0h1v1h-1zm4 0h1v1h-1zm-31 1h1v1h-1zm5 0h2v1h-2zm4 0h7v1h-7zm8 0h2v1h-2zm3 0h1v1h-1zm2 0h2v1h-2zm8 0h2v1h-2zm-29 1h2v1h-2zm3 0h2v1h-2zm5 0h1v1h-1zm3 0h3v1h-3zm5 0h2v1h-2zm3 0h3v1h-3zm-24 1h1v1h-1zm2 0h1v1h-1zm4 0h3v1h-3zm4 0h1v1h-1zm4 0h1v1h-1zm2 0h3v1h-3zm5 0h1v1h-1zm2 0h6v1h-6zm-20 1h1v1h-1zm2 0h1v1h-1zm4 0h6v1h-6zm7 0h2v1h-2zm3 0h2v1h-2zm3 0h3v1h-3zm12 0h1v1h-1zm-35 1h1v1h-1zm11 0h1v1h-1zm5 0h1v1h-1zm4 0h2v1h-2zm4 0h1v1h-1zm2 0h1v1h-1zm2 0h1v1h-1zm3 0h1v1h-1zm2 0h1v1h-1zm2 0h2v1h-2zm-34 1h1v1h-1zm5 0h1v1h-1zm5 0h1v1h-1zm3 0h2v1h-2zm3 0h5v1h-5zm6 0h1v1h-1zm2 0h1v1h-1zm2 0h1v1h-1zm3 0h1v1h-1zm2 0h1v1h-1zm5 0h1v1h-1zm-34 1h1v1h-1zm2 0h1v1h-1zm4 0h2v1h-2zm3 0h4v1h-4zm5 0h4v1h-4zm8 0h1v1h-1zm4 0h1v1h-1zm2 0h1v1h-1zm-26 1h1v1h-1zm3 0h1v1h-1zm4 0h1v1h-1zm2 0h3v1h-3zm4 0h3v1h-3zm4 0h1v1h-1zm2 0h2v1h-2zm3 0h1v1h-1zm2 0h1v1h-1zm5 0h1v1h-1zm-25 1h1v1h-1zm2 0h1v1h-1zm2 0h1v1h-1zm3 0h1v1h-1zm2 0h1v1h-1zm2 0h2v1h-2zm4 0h1v1h-1zm2 0h2v1h-2zm3 0h1v1h-1zm2 0h1v1h-1zm6 0h1v1h-1zm-30 1h1v1h-1zm6 0h3v1h-3zm7 0h1v1h-1zm3 0h4v1h-4zm8 0h2v1h-2zm-28 1h2v1h-2zm6 0h1v1h-1zm3 0h1v1h-1zm2 0h1v1h-1zm3 0h1v1h-1zm2 0h1v1h-1zm2 0h1v1h-1zm2 0h1v1h-1zm4 0h2v1h-2zm3 0h3v1h-3zm7 0h1v1h-1zm-31 1h1v1h-1zm3 0h1v1h-1zm2 0h2v1h-2zm5 0h2v1h-2zm3 0h1v1h-1zm2 0h1v1h-1zm3 0h1v1h-1zm4 0h2v1h-2zm5 0h1v1h-1zm3 0h1v1h-1zm-31 1h1v1h-1zm4 0h1v1h-1zm4 0h1v1h-1zm3 0h1v1h-1zm2 0h1v1h-1zm2 0h1v1h-1zm3 0h2v1h-2zm8 0h1v1h-1zm-27 1h1v1h-1zm5 0h2v1h-2zm3 0h2v1h-2zm3 0h2v1h-2zm3 0h1v1h-1zm2 0h6v1h-6zm8 0h1v1h-1zm4 0h1v1h-1zm-25 1h1v1h-1zm4 0h1v1h-1zm3 0h1v1h-1zm3 0h1v1h-1zm2 0h1v1h-1zm2 0h1v1h-1zm4 0h2v1h-2zm10 0h1v1h-1zm-28 1h2v1h-2zm5 0h2v1h-2zm4 0h4v1h-4zm8 0h1v1h-1zm2 0h1v1h-1zm-25 1h2v1h-2zm10 0h1v1h-1zm2 0h1v1h-1zm4 0h1v1h-1zm6 0h1v1h-1zm7 0h1v1h-1zm4 0h1v1h-1zm4 0h1v1h-1zm-35 1h1v1h-1zm2 0h1v1h-1zm2 0h1v1h-1zm9 0h1v1h-1zm3 0h3v1h-3zm6 0h1v1h-1zm3 0h1v1h-1zm2 0h2v1h-2zm3 0h1v1h-1zm-21 1h3v1h-3zm5 0h1v1h-1zm3 0h1v1h-1zm6 0h1v1h-1zm2 0h1v1h-1zm2 0h1v1h-1zm3 0h1v1h-1zm3 0h1v1h-1zm-22 1h1v1h-1zm2 0h7v1h-7zm10 0h3v1h-3zm6 0h2v1h-2zm4 0h1v1h-1zm-35 1h2v1h-2zm8 0h2v1h-2zm4 0h1v1h-1zm2 0h2v1h-2zm3 0h3v1h-3zm5 0h1v1h-1zm10 0h1v1h-1zm-33 1h3v1h-3zm7 0h1v1h-1zm6 0h1v1h-1zm4 0h4v1h-4zm6 0h1v1h-1zm3 0h1v1h-1zm4 0h3v1h-3zm5 0h1v1h-1zm-26 1h3v1h-3zm4 0h5v1h-5zm6 0h1v1h-1zm2 0h2v1h-2zm3 0h5v1h-5zm11 0h2v1h-2zm3 0h1v1h-1zm-30 1h1v1h-1zm8 0h1v1h-1zm3 0h1v1h-1zm5 0h3v1h-3zm7 0h1v1h-1zm-31 1h1v1h-1zm5 0h2v1h-2zm7 0h1v1h-1zm2 0h1v1h-1zm3 0h1v1h-1zm2 0h1v1h-1zm2 0h6v1h-6zm10 0h1v1h-1zm3 0h1v1h-1zm-25 1h2v1h-2zm6 0h1v1h-1zm2 0h4v1h-4zm5 0h1v1h-1zm3 0h2v1h-2zm5 0h1v1h-1zm4 0h2v1h-2zm-32 1h1v1h-1zm9 0h4v1h-4zm5 0h1v1h-1zm3 0h1v1h-1zm2 0h3v1h-3zm6 0h2v1h-2zm5 0h1v1h-1zm-23 1h1v1h-1zm11 0h2v1h-2zm3 0h2v1h-2zm3 0h2v1h-2zm3 0h3v1h-3zm-23 1h1v1h-1zm6 0h1v1h-1zm3 0h1v1h-1zm2 0h2v1h-2zm3 0h2v1h-2zm3 0h1v1h-1zm7 0h2v1h-2zm-20 1h1v1h-1zm5 0h1v1h-1zm2 0h2v1h-2zm5 0h2v1h-2zm4 0h4v1h-4zm9 0h1v1h-1zm-26 1h1v1h-1zm5 0h2v1h-2zm5 0h1v1h-1zm8 0h2v1h-2zm8 0h1v1h-1zm-35 1h2v1h-2zm8 0h1v1h-1zm6 0h1v1h-1zm2 0h1v1h-1zm2 0h2v1h-2zm6 0h1v1h-1zm2 0h1v1h-1zm8 0h2v1h-2zm-29 1h1v1h-1zm2 0h1v1h-1zm5 0h2v1h-2zm7 0h1v1h-1zm2 0h2v1h-2zm3 0h2v1h-2zm3 0h1v1h-1zm3 0h1v1h-1zm6 0h1v1h-1zm-31 1h2v1h-2zm8 0h1v1h-1zm6 0h1v1h-1zm4 0h2v1h-2zm3 0h2v1h-2zm9 0h1v1h-1zm-19 1h2v1h-2zm3 0h2v1h-2zm7 0h2v1h-2zm4 0h2v1h-2zm-23 1h1v1h-1zm3 0h1v1h-1zm2 0h1v1h-1zm6 0h1v1h-1zm2 0h1v1h-1zm2 0h1v1h-1zm2 0h1v1h-1zm2 0h2v1h-2zm5 0h1v1h-1zm2 0h1v1h-1zm2 0h1v1h-1zm-35 1h1v1h-1zm3 0h1v1h-1zm2 0h2v1h-2zm9 0h1v1h-1zm3 0h1v1h-1zm3 0h2v1h-2zm4 0h1v1h-1zm3 0h1v1h-1zm6 0h1v1h-1zm-23 1h1v1h-1zm3 0h1v1h-1zm2 0h1v1h-1zm2 0h1v1h-1zm2 0h3v1h-3zm5 0h2v1h-2zm5 0h1v1h-1zm4 0h1v1h-1zm2 0h1v1h-1zm2 0h1v1h-1zm-37 1h1v1h-1zm8 0h1v1h-1zm3 0h1v1h-1zm7 0h1v1h-1zm3 0h1v1h-1zm4 0h1v1h-1zm8 0h2v1h-2zm-31 1h2v1h-2zm10 0h3v1h-3zm6 0h1v1h-1zm2 0h1v1h-1zm4 0h1v1h-1zm5 0h1v1h-1zm3 0h1v1h-1zm3 0h1v1h-1zm3 0h1v1h-1zm-28 1h1v1h-1zm2 0h1v1h-1zm2 0h1v1h-1zm4 0h1v1h-1zm5 0h1v1h-1zm-23 1h1v1h-1zm2 0h1v1h-1zm8 0h2v1h-2zm6 0h1v1h-1zm2 0h1v1h-1zm4 0h1v1h-1zm6 0h1v1h-1zm-17 1h1v1h-1zm2 0h1v1h-1zm7 0h3v1h-3zm4 0h2v1h-2zm4 0h1v1h-1zm-23 1h1v1h-1zm5 0h1v1h-1zm5 0h1v1h-1zm2 0h4v1h-4zm7 0h2v1h-2zm4 0h2v1h-2zm-18 1h1v1h-1zm2 0h2v1h-2zm3 0h1v1h-1zm4 0h1v1h-1zm4 0h2v1h-2zm3 0h1v1h-1zm5 0h1v1h-1zm-31 1h1v1h-1zm7 0h1v1h-1zm2 0h1v1h-1zm6 0h2v1h-2zm4 0h1v1h-1zm2 0h1v1h-1zm3 0h1v1h-1zm7 0h1v1h-1zm3 0h1v1h-1zm-31 1h1v1h-1zm14 0h2v1h-2zm5 0h1v1h-1zm7 0h1v1h-1zm3 0h1v1h-1zm-27 1h1v1h-1zm4 0h1v1h-1zm3 0h1v1h-1zm4 0h1v1h-1zm4 0h2v1h-2zm4 0h2v1h-2zm7 0h1v1h-1zm2 0h1v1h-1zm-29 1h1v1h-1zm11 0h2v1h-2zm3 0h1v1h-1zm16 0h1v1h-1zm-19 1h2v1h-2zm5 0h1v1h-1zm5 0h1v1h-1zm6 0h1v1h-1zm-31 1h1v1h-1zm10 0h1v1h-1zm4 0h1v1h-1zm2 0h1v1h-1zm2 0h1v1h-1zm16 0h2v1h-2zm-27 1h1v1h-1zm14 0h1v1h-1zm2 0h1v1h-1zm2 0h1v1h-1zm2 0h1v1h-1zm2 0h1v1h-1zm6 0h1v1h-1zm-19 1h2v1h-2zm3 0h2v1h-2zm7 0h1v1h-1zm6 0h1v1h-1z" fill="#080808"/><path d="M140 1030h2v2h-2zM147 1033h2v2h-2zM152 1036h2v2h-2zM140 1058h2v2h-2zM139 1082h2v2h-2zM144 1120h2v2h-2zM148 1122h2v2h-2zM180 1076h2v2h-2z" fill="#bdbdbd"/>
<path d="M93.5 994.5H238.5V1134.5H93.5ZM133.5 994.5V1134.5M93.5 1100.5H238.5" stroke="#262626" stroke-width="1.15" fill="none"/>
<path d="M91.0 1099.5h2.5M129.5 1134.5v2.5M91.0 1064.5h2.5M165.5 1134.5v2.5M91.0 1029.5h2.5M201.5 1134.5v2.5" stroke="#333" stroke-width="1" fill="none"/>
<text transform="translate(89.4 1133.8) rotate(-90)" style="font-family:'Liberation Sans',sans-serif;font-size:6.8px;font-weight:bold" fill="#333">10<tspan dy="-2.6" font-size="4.5px">0</tspan></text>
<text x="93" y="1144.3" style="font-family:'Liberation Sans',sans-serif;font-size:6.8px;font-weight:bold" fill="#333">10<tspan dy="-2.6" font-size="4.5px">0</tspan></text>
<text transform="translate(89.4 1098.7) rotate(-90)" style="font-family:'Liberation Sans',sans-serif;font-size:6.8px;font-weight:bold" fill="#333">10<tspan dy="-2.6" font-size="4.5px">1</tspan></text>
<text x="129.2" y="1144.3" style="font-family:'Liberation Sans',sans-serif;font-size:6.8px;font-weight:bold" fill="#333">10<tspan dy="-2.6" font-size="4.5px">1</tspan></text>
<text transform="translate(89.4 1063.7) rotate(-90)" style="font-family:'Liberation Sans',sans-serif;font-size:6.8px;font-weight:bold" fill="#333">10<tspan dy="-2.6" font-size="4.5px">2</tspan></text>
<text x="165.5" y="1144.3" style="font-family:'Liberation Sans',sans-serif;font-size:6.8px;font-weight:bold" fill="#333">10<tspan dy="-2.6" font-size="4.5px">2</tspan></text>
<text transform="translate(89.4 1028.6) rotate(-90)" style="font-family:'Liberation Sans',sans-serif;font-size:6.8px;font-weight:bold" fill="#333">10<tspan dy="-2.6" font-size="4.5px">3</tspan></text>
<text x="201.8" y="1144.3" style="font-family:'Liberation Sans',sans-serif;font-size:6.8px;font-weight:bold" fill="#333">10<tspan dy="-2.6" font-size="4.5px">3</tspan></text>
<text transform="translate(89.4 993.5) rotate(-90)" style="font-family:'Liberation Sans',sans-serif;font-size:6.8px;font-weight:bold" fill="#333">10<tspan dy="-2.6" font-size="4.5px">4</tspan></text>
<text x="238" y="1144.3" style="font-family:'Liberation Sans',sans-serif;font-size:6.8px;font-weight:bold" fill="#333">10<tspan dy="-2.6" font-size="4.5px">4</tspan></text>
<text transform="translate(81.4 1064.7) rotate(-90)" text-anchor="middle" style="font-family:'Liberation Sans',sans-serif;font-size:7.6px;font-weight:bold" fill="#222">CD8 PE</text>
<text x="164" y="1153.8" text-anchor="middle" style="font-family:'Liberation Sans',sans-serif;font-size:6.5px;font-weight:bold" fill="#222">IFNg FITC</text>
<text x="186.2" y="1081" style="font-family:'Liberation Serif',serif;stroke:#111;stroke-width:0.3px;font-size:16px" fill="#111">0.07%</text>
<path d="M316 1019h1v1h-1zm-22 2h1v1h-1zm-12 1h1v1h-1zm6 0h1v1h-1zm6 0h1v1h-1zm3 0h3v1h-3zm4 0h1v1h-1zm5 0h1v1h-1zm4 0h1v1h-1zm-34 1h1v1h-1zm2 0h1v1h-1zm6 0h1v1h-1zm2 0h1v1h-1zm2 0h3v1h-3zm5 0h1v1h-1zm3 0h4v1h-4zm7 0h1v1h-1zm5 0h2v1h-2zm5 0h1v1h-1zm-38 1h5v1h-5zm6 0h8v1h-8zm9 0h9v1h-9zm10 0h7v1h-7zm8 0h4v1h-4zm5 0h1v1h-1zm-38 1h1v1h-1zm2 0h37v1h-37zm-2 1h39v1h-39zm0 1h40v1h-40zm0 1h39v1h-39zm0 1h38v1h-38zm41 0h1v1h-1zm-41 1h39v1h-39zm0 1h39v1h-39zm0 1h38v1h-38zm39 0h1v1h-1zm-39 1h39v1h-39zm0 1h40v1h-40zm0 1h39v1h-39zm0 1h39v1h-39zm0 1h38v1h-38zm39 0h1v1h-1zm-39 1h40v1h-40zm0 1h38v1h-38zm39 0h1v1h-1zm-39 1h39v1h-39zm0 1h40v1h-40zm0 1h38v1h-38zm0 1h36v1h-36zm37 0h2v1h-2zm-37 1h2v1h-2zm3 0h30v1h-30zm31 0h1v1h-1zm2 0h1v1h-1zm-36 1h5v1h-5zm6 0h31v1h-31zm-6 1h3v1h-3zm5 0h2v1h-2zm3 0h18v1h-18zm19 0h5v1h-5zm6 0h1v1h-1zm2 0h2v1h-2zm-34 1h1v1h-1zm2 0h2v1h-2zm4 0h1v1h-1zm2 0h4v1h-4zm5 0h2v1h-2zm3 0h8v1h-8zm9 0h3v1h-3zm4 0h1v1h-1zm2 0h5v1h-5zm-26 1h1v1h-1zm2 0h5v1h-5zm7 0h16v1h-16zm17 0h4v1h-4zm-28 1h1v1h-1zm2 0h9v1h-9zm10 0h15v1h-15zm19 0h2v1h-2zm-31 1h1v1h-1zm2 0h1v1h-1zm2 0h1v1h-1zm3 0h17v1h-17zm18 0h2v1h-2zm3 0h2v1h-2zm-31 1h1v1h-1zm3 0h1v1h-1zm5 0h1v1h-1zm2 0h3v1h-3zm4 0h2v1h-2zm3 0h2v1h-2zm3 0h8v1h-8zm10 0h1v1h-1zm-27 1h1v1h-1zm3 0h1v1h-1zm2 0h1v1h-1zm2 0h2v1h-2zm4 0h11v1h-11zm12 0h8v1h-8zm9 0h1v1h-1zm4 0h1v1h-1zm-39 1h1v1h-1zm5 0h2v1h-2zm3 0h6v1h-6zm7 0h8v1h-8zm9 0h4v1h-4zm5 0h2v1h-2zm3 0h1v1h-1zm2 0h2v1h-2zm-34 1h1v1h-1zm4 0h1v1h-1zm3 0h5v1h-5zm6 0h1v1h-1zm2 0h13v1h-13zm15 0h2v1h-2zm3 0h1v1h-1zm-34 1h1v1h-1zm4 0h1v1h-1zm2 0h8v1h-8zm9 0h1v1h-1zm2 0h2v1h-2zm3 0h9v1h-9zm10 0h1v1h-1zm2 0h2v1h-2zm-32 1h1v1h-1zm3 0h1v1h-1zm3 0h2v1h-2zm3 0h1v1h-1zm2 0h17v1h-17zm18 0h2v1h-2zm3 0h4v1h-4zm6 0h1v1h-1zm-35 1h3v1h-3zm5 0h22v1h-22zm23 0h1v1h-1zm2 0h2v1h-2zm-32 1h1v1h-1zm2 0h1v1h-1zm2 0h2v1h-2zm3 0h2v1h-2zm3 0h11v1h-11zm12 0h5v1h-5zm6 0h3v1h-3zm4 0h4v1h-4zm-32 1h2v1h-2zm3 0h1v1h-1zm2 0h4v1h-4zm5 0h1v1h-1zm2 0h24v1h-24zm-9 1h3v1h-3zm4 0h1v1h-1zm2 0h24v1h-24zm26 0h1v1h-1zm-34 1h2v1h-2zm4 0h1v1h-1zm2 0h4v1h-4zm5 0h4v1h-4zm5 0h10v1h-10zm11 0h4v1h-4zm5 0h2v1h-2zm-32 1h2v1h-2zm4 0h1v1h-1zm2 0h17v1h-17zm18 0h7v1h-7zm8 0h3v1h-3zm-33 1h1v1h-1zm3 0h2v1h-2zm3 0h1v1h-1zm4 0h15v1h-15zm16 0h3v1h-3zm4 0h6v1h-6zm-31 1h2v1h-2zm3 0h1v1h-1zm3 0h8v1h-8zm9 0h15v1h-15zm16 0h4v1h-4zm6 0h1v1h-1zm-37 1h2v1h-2zm3 0h1v1h-1zm2 0h6v1h-6zm8 0h19v1h-19zm20 0h1v1h-1zm-32 1h1v1h-1zm3 0h4v1h-4zm5 0h6v1h-6zm7 0h8v1h-8zm9 0h7v1h-7zm8 0h3v1h-3zm-32 1h1v1h-1zm3 0h1v1h-1zm3 0h2v1h-2zm3 0h3v1h-3zm5 0h9v1h-9zm11 0h8v1h-8zm9 0h1v1h-1zm-35 1h4v1h-4zm6 0h3v1h-3zm4 0h10v1h-10zm11 0h17v1h-17zm-18 1h1v1h-1zm4 0h1v1h-1zm2 0h15v1h-15zm16 0h7v1h-7zm9 0h1v1h-1zm-33 1h1v1h-1zm2 0h1v1h-1zm3 0h2v1h-2zm4 0h1v1h-1zm2 0h20v1h-20zm23 0h2v1h-2zm-34 1h1v1h-1zm2 0h1v1h-1zm2 0h15v1h-15zm16 0h10v1h-10zm11 0h2v1h-2zm5 0h1v1h-1zm-35 1h2v1h-2zm3 0h2v1h-2zm4 0h21v1h-21zm22 0h2v1h-2zm3 0h2v1h-2zm-32 1h1v1h-1zm2 0h5v1h-5zm6 0h11v1h-11zm14 0h12v1h-12zm13 0h2v1h-2zm-36 1h1v1h-1zm4 0h5v1h-5zm6 0h3v1h-3zm4 0h14v1h-14zm15 0h2v1h-2zm3 0h3v1h-3zm-32 1h4v1h-4zm5 0h1v1h-1zm2 0h16v1h-16zm17 0h12v1h-12zm-22 1h1v1h-1zm6 0h2v1h-2zm3 0h1v1h-1zm2 0h13v1h-13zm14 0h1v1h-1zm3 0h2v1h-2zm-29 1h1v1h-1zm4 0h1v1h-1zm3 0h3v1h-3zm4 0h2v1h-2zm3 0h4v1h-4zm5 0h5v1h-5zm6 0h4v1h-4zm6 0h2v1h-2zm3 0h2v1h-2zm-36 1h1v1h-1zm2 0h1v1h-1zm5 0h3v1h-3zm5 0h11v1h-11zm12 0h3v1h-3zm4 0h2v1h-2zm3 0h1v1h-1zm3 0h2v1h-2zm-34 1h1v1h-1zm4 0h1v1h-1zm2 0h1v1h-1zm2 0h2v1h-2zm3 0h1v1h-1zm2 0h9v1h-9zm10 0h1v1h-1zm2 0h1v1h-1zm2 0h6v1h-6zm7 0h4v1h-4zm-29 1h3v1h-3zm4 0h1v1h-1zm3 0h16v1h-16zm17 0h1v1h-1zm4 0h2v1h-2zm3 0h1v1h-1zm-36 1h1v1h-1zm2 0h1v1h-1zm5 0h2v1h-2zm6 0h14v1h-14zm15 0h5v1h-5zm-27 1h1v1h-1zm2 0h1v1h-1zm5 0h7v1h-7zm8 0h4v1h-4zm8 0h2v1h-2zm5 0h1v1h-1zm2 0h3v1h-3zm5 0h1v1h-1zm-34 1h1v1h-1zm2 0h1v1h-1zm2 0h2v1h-2zm3 0h2v1h-2zm4 0h7v1h-7zm8 0h11v1h-11zm12 0h1v1h-1zm-28 1h1v1h-1zm2 0h1v1h-1zm2 0h3v1h-3zm4 0h1v1h-1zm2 0h2v1h-2zm3 0h3v1h-3zm4 0h5v1h-5zm7 0h3v1h-3zm4 0h1v1h-1zm-29 1h1v1h-1zm2 0h1v1h-1zm2 0h9v1h-9zm10 0h4v1h-4zm6 0h1v1h-1zm3 0h1v1h-1zm2 0h3v1h-3zm-27 1h2v1h-2zm5 0h2v1h-2zm3 0h1v1h-1zm2 0h1v1h-1zm2 0h1v1h-1zm2 0h1v1h-1zm3 0h1v1h-1zm5 0h2v1h-2zm3 0h2v1h-2zm3 0h1v1h-1zm7 0h1v1h-1zm-33 1h1v1h-1zm2 0h1v1h-1zm3 0h1v1h-1zm4 0h2v1h-2zm3 0h1v1h-1zm3 0h1v1h-1zm2 0h2v1h-2zm3 0h1v1h-1zm4 0h2v1h-2zm11 0h1v1h-1zm-37 1h1v1h-1zm3 0h1v1h-1zm6 0h2v1h-2zm3 0h2v1h-2zm3 0h1v1h-1zm2 0h5v1h-5zm8 0h2v1h-2zm5 0h3v1h-3zm-23 1h1v1h-1zm9 0h1v1h-1zm5 0h1v1h-1zm2 0h1v1h-1zm9 0h1v1h-1zm-34 1h1v1h-1zm2 0h1v1h-1zm4 0h3v1h-3zm4 0h3v1h-3zm4 0h3v1h-3zm6 0h3v1h-3zm7 0h2v1h-2zm7 0h2v1h-2zm-32 1h2v1h-2zm4 0h1v1h-1zm2 0h1v1h-1zm7 0h1v1h-1zm3 0h2v1h-2zm3 0h1v1h-1zm2 0h1v1h-1zm4 0h1v1h-1zm14 0h1v1h-1zm-36 1h3v1h-3zm6 0h1v1h-1zm3 0h2v1h-2zm3 0h3v1h-3zm4 0h2v1h-2zm3 0h4v1h-4zm6 0h1v1h-1zm-25 1h2v1h-2zm4 0h2v1h-2zm3 0h1v1h-1zm2 0h1v1h-1zm5 0h2v1h-2zm5 0h1v1h-1zm7 0h1v1h-1zm6 0h1v1h-1zm-37 1h1v1h-1zm4 0h1v1h-1zm3 0h1v1h-1zm3 0h1v1h-1zm2 0h2v1h-2zm6 0h2v1h-2zm3 0h1v1h-1zm5 0h3v1h-3zm5 0h3v1h-3zm4 0h1v1h-1zm-30 1h1v1h-1zm2 0h3v1h-3zm7 0h1v1h-1zm2 0h3v1h-3zm4 0h3v1h-3zm10 0h2v1h-2zm-27 1h1v1h-1zm11 0h2v1h-2zm3 0h1v1h-1zm2 0h2v1h-2zm5 0h2v1h-2zm3 0h1v1h-1zm2 0h1v1h-1zm3 0h1v1h-1zm-26 1h1v1h-1zm2 0h2v1h-2zm3 0h1v1h-1zm3 0h3v1h-3zm6 0h1v1h-1zm4 0h2v1h-2zm3 0h2v1h-2zm7 0h1v1h-1zm-27 1h3v1h-3zm4 0h1v1h-1zm2 0h1v1h-1zm2 0h1v1h-1zm6 0h1v1h-1zm5 0h1v1h-1zm6 0h1v1h-1zm-30 1h1v1h-1zm4 0h4v1h-4zm6 0h1v1h-1zm3 0h1v1h-1zm3 0h1v1h-1zm2 0h1v1h-1zm2 0h4v1h-4zm5 0h1v1h-1zm4 0h1v1h-1zm4 0h1v1h-1zm-34 1h2v1h-2zm5 0h1v1h-1zm5 0h1v1h-1zm6 0h2v1h-2zm4 0h1v1h-1zm2 0h2v1h-2zm3 0h1v1h-1zm7 0h1v1h-1zm2 0h1v1h-1zm3 0h1v1h-1zm-38 1h1v1h-1zm4 0h1v1h-1zm6 0h1v1h-1zm2 0h1v1h-1zm2 0h1v1h-1zm5 0h4v1h-4zm6 0h2v1h-2zm5 0h1v1h-1zm-20 1h1v1h-1zm4 0h1v1h-1zm3 0h2v1h-2zm3 0h1v1h-1zm5 0h2v1h-2zm3 0h1v1h-1zm5 0h1v1h-1zm2 0h1v1h-1zm-24 1h1v1h-1zm2 0h2v1h-2zm5 0h1v1h-1zm2 0h1v1h-1zm3 0h2v1h-2zm4 0h1v1h-1zm5 0h1v1h-1zm4 0h1v1h-1zm-34 1h1v1h-1zm11 0h3v1h-3zm6 0h1v1h-1zm2 0h4v1h-4zm6 0h3v1h-3zm6 0h3v1h-3zm-31 1h1v1h-1zm2 0h2v1h-2zm4 0h1v1h-1zm2 0h1v1h-1zm3 0h1v1h-1zm3 0h1v1h-1zm5 0h1v1h-1zm11 0h1v1h-1zm2 0h1v1h-1zm-27 1h2v1h-2zm7 0h2v1h-2zm3 0h5v1h-5zm7 0h1v1h-1zm2 0h1v1h-1zm6 0h1v1h-1zm-27 1h1v1h-1zm4 0h1v1h-1zm3 0h2v1h-2zm5 0h1v1h-1zm3 0h3v1h-3zm4 0h1v1h-1zm4 0h2v1h-2zm4 0h1v1h-1zm-31 1h2v1h-2zm4 0h1v1h-1zm5 0h1v1h-1zm3 0h1v1h-1zm2 0h1v1h-1zm2 0h2v1h-2zm4 0h1v1h-1zm6 0h2v1h-2zm5 0h1v1h-1zm3 0h2v1h-2zm-32 1h2v1h-2zm4 0h3v1h-3zm4 0h1v1h-1zm4 0h2v1h-2zm7 0h1v1h-1zm2 0h1v1h-1zm6 0h1v1h-1zm2 0h1v1h-1zm-24 1h3v1h-3zm5 0h3v1h-3zm4 0h1v1h-1zm5 0h1v1h-1zm3 0h2v1h-2zm5 0h1v1h-1zm-22 1h1v1h-1zm5 0h2v1h-2zm4 0h1v1h-1zm4 0h1v1h-1zm2 0h2v1h-2zm8 0h1v1h-1zm-26 1h1v1h-1zm6 0h2v1h-2zm4 0h1v1h-1zm5 0h1v1h-1zm3 0h1v1h-1zm9 0h1v1h-1zm-21 1h1v1h-1zm6 0h1v1h-1zm3 0h2v1h-2zm3 0h1v1h-1zm2 0h1v1h-1zm3 0h1v1h-1zm3 0h1v1h-1zm-19 1h1v1h-1zm3 0h1v1h-1zm2 0h1v1h-1zm2 0h2v1h-2zm3 0h1v1h-1zm2 0h1v1h-1zm6 0h1v1h-1zm-29 1h2v1h-2zm11 0h2v1h-2zm3 0h1v1h-1zm2 0h1v1h-1zm3 0h1v1h-1zm4 0h3v1h-3zm-23 1h1v1h-1zm3 0h1v1h-1zm2 0h3v1h-3zm5 0h3v1h-3zm4 0h2v1h-2zm6 0h1v1h-1zm3 0h2v1h-2zm4 0h1v1h-1zm5 0h1v1h-1zm-32 1h1v1h-1zm3 0h1v1h-1zm15 0h5v1h-5zm6 0h1v1h-1zm2 0h2v1h-2zm-27 1h2v1h-2zm5 0h2v1h-2zm6 0h1v1h-1zm3 0h1v1h-1zm2 0h1v1h-1zm3 0h3v1h-3zm5 0h1v1h-1zm2 0h1v1h-1zm5 0h4v1h-4zm-28 1h1v1h-1zm4 0h1v1h-1zm2 0h1v1h-1zm6 0h1v1h-1zm3 0h1v1h-1zm2 0h1v1h-1zm4 0h2v1h-2zm3 0h1v1h-1zm3 0h1v1h-1zm3 0h1v1h-1zm-33 1h2v1h-2zm7 0h1v1h-1zm2 0h1v1h-1zm2 0h1v1h-1zm3 0h1v1h-1zm4 0h3v1h-3zm4 0h3v1h-3zm9 0h1v1h-1zm5 0h1v1h-1zm-36 1h1v1h-1zm5 0h1v1h-1zm11 0h2v1h-2zm5 0h1v1h-1zm2 0h3v1h-3zm7 0h1v1h-1zm-30 1h1v1h-1zm12 0h1v1h-1zm3 0h3v1h-3zm4 0h1v1h-1zm2 0h2v1h-2zm4 0h1v1h-1zm3 0h2v1h-2zm6 0h1v1h-1zm-31 1h1v1h-1zm9 0h1v1h-1zm4 0h2v1h-2zm5 0h1v1h-1zm4 0h1v1h-1zm6 0h2v1h-2zm-18 1h1v1h-1zm3 0h1v1h-1zm7 0h2v1h-2zm6 0h1v1h-1zm4 0h1v1h-1zm-31 1h1v1h-1zm2 0h1v1h-1zm7 0h1v1h-1zm4 0h1v1h-1zm6 0h2v1h-2zm4 0h1v1h-1zm2 0h2v1h-2zm6 0h1v1h-1zm2 0h1v1h-1zm-34 1h1v1h-1zm6 0h1v1h-1zm2 0h1v1h-1zm3 0h1v1h-1zm9 0h1v1h-1zm3 0h1v1h-1zm2 0h2v1h-2zm-25 1h1v1h-1zm2 0h1v1h-1zm7 0h2v1h-2zm5 0h1v1h-1zm2 0h2v1h-2zm7 0h1v1h-1zm5 0h2v1h-2zm3 0h1v1h-1zm-16 1h1v1h-1zm2 0h2v1h-2zm5 0h1v1h-1zm3 0h1v1h-1zm3 0h1v1h-1zm6 0h1v1h-1zm-35 1h1v1h-1zm6 0h1v1h-1zm4 0h2v1h-2zm3 0h4v1h-4zm5 0h1v1h-1zm4 0h1v1h-1zm2 0h1v1h-1zm6 0h2v1h-2zm3 0h1v1h-1zm-32 1h1v1h-1zm9 0h1v1h-1zm5 0h1v1h-1zm2 0h1v1h-1zm9 0h1v1h-1zm3 0h1v1h-1zm3 0h1v1h-1zm3 0h1v1h-1zm-35 1h3v1h-3zm4 0h1v1h-1zm2 0h1v1h-1zm6 0h1v1h-1zm4 0h3v1h-3zm4 0h1v1h-1zm4 0h1v1h-1zm2 0h1v1h-1zm4 0h1v1h-1zm2 0h1v1h-1zm-24 1h1v1h-1zm3 0h3v1h-3zm4 0h1v1h-1zm5 0h2v1h-2zm9 0h1v1h-1zm-27 1h1v1h-1zm6 0h1v1h-1zm5 0h2v1h-2zm5 0h1v1h-1zm3 0h1v1h-1zm12 0h2v1h-2zm-23 1h1v1h-1zm7 0h2v1h-2zm6 0h1v1h-1zm2 0h1v1h-1zm8 0h1v1h-1z" fill="#080808"/><path d="M327 1024h2v2h-2zM318 1027h2v2h-2zM322 1028h2v2h-2zM330 1030h2v2h-2zM343 1031h2v2h-2zM338 1032h2v2h-2zM333 1033h2v2h-2zM322 1050h2v2h-2zM335 1064h2v2h-2zM336 1066h2v2h-2zM321 1070h2v2h-2zM330 1072h2v2h-2zM324 1077h2v2h-2zM328 1081h2v2h-2zM327 1083h2v2h-2zM342 1083h2v2h-2zM326 1085h2v2h-2zM340 1085h2v2h-2zM329 1086h2v2h-2zM321 1093h2v2h-2zM339 1093h2v2h-2zM317 1096h2v2h-2zM321 1099h2v2h-2zM327 1103h2v2h-2zM338 1106h2v2h-2zM344 1108h2v2h-2zM338 1112h2v2h-2zM325 1118h2v2h-2zM335 1121h2v2h-2zM330 1125h2v2h-2z" fill="#bdbdbd"/>
<path d="M274.5 993.5H419.5V1135.5H274.5ZM315.5 993.5V1135.5M274.5 1100.5H419.5" stroke="#262626" stroke-width="1.15" fill="none"/>
<path d="M272.0 1099.5h2.5M310.5 1135.5v2.5M272.0 1064.5h2.5M346.5 1135.5v2.5M272.0 1028.5h2.5M383.5 1135.5v2.5" stroke="#333" stroke-width="1" fill="none"/>
<text transform="translate(270.4 1134) rotate(-90)" style="font-family:'Liberation Sans',sans-serif;font-size:6.8px;font-weight:bold" fill="#333">10<tspan dy="-2.6" font-size="4.5px">0</tspan></text>
<text x="274" y="1144.5" style="font-family:'Liberation Sans',sans-serif;font-size:6.8px;font-weight:bold" fill="#333">10<tspan dy="-2.6" font-size="4.5px">0</tspan></text>
<text transform="translate(270.4 1098.6) rotate(-90)" style="font-family:'Liberation Sans',sans-serif;font-size:6.8px;font-weight:bold" fill="#333">10<tspan dy="-2.6" font-size="4.5px">1</tspan></text>
<text x="310.4" y="1144.5" style="font-family:'Liberation Sans',sans-serif;font-size:6.8px;font-weight:bold" fill="#333">10<tspan dy="-2.6" font-size="4.5px">1</tspan></text>
<text transform="translate(270.4 1063.2) rotate(-90)" style="font-family:'Liberation Sans',sans-serif;font-size:6.8px;font-weight:bold" fill="#333">10<tspan dy="-2.6" font-size="4.5px">2</tspan></text>
<text x="346.9" y="1144.5" style="font-family:'Liberation Sans',sans-serif;font-size:6.8px;font-weight:bold" fill="#333">10<tspan dy="-2.6" font-size="4.5px">2</tspan></text>
<text transform="translate(270.4 1027.9) rotate(-90)" style="font-family:'Liberation Sans',sans-serif;font-size:6.8px;font-weight:bold" fill="#333">10<tspan dy="-2.6" font-size="4.5px">3</tspan></text>
<text x="383.4" y="1144.5" style="font-family:'Liberation Sans',sans-serif;font-size:6.8px;font-weight:bold" fill="#333">10<tspan dy="-2.6" font-size="4.5px">3</tspan></text>
<text transform="translate(270.4 992.5) rotate(-90)" style="font-family:'Liberation Sans',sans-serif;font-size:6.8px;font-weight:bold" fill="#333">10<tspan dy="-2.6" font-size="4.5px">4</tspan></text>
<text x="419.8" y="1144.5" style="font-family:'Liberation Sans',sans-serif;font-size:6.8px;font-weight:bold" fill="#333">10<tspan dy="-2.6" font-size="4.5px">4</tspan></text>
<text transform="translate(262.4 1064.2) rotate(-90)" text-anchor="middle" style="font-family:'Liberation Sans',sans-serif;font-size:7.6px;font-weight:bold" fill="#222">CD8 PE</text>
<text x="345.4" y="1154" text-anchor="middle" style="font-family:'Liberation Sans',sans-serif;font-size:6.5px;font-weight:bold" fill="#222">IFNg FITC</text>
<text x="367.7" y="1081" style="font-family:'Liberation Serif',serif;stroke:#111;stroke-width:0.3px;font-size:16px" fill="#111">0.21%</text>
<text x="367.7" y="1023" style="font-family:'Liberation Serif',serif;stroke:#111;stroke-width:0.3px;font-size:18px" fill="#111">PR</text>
<path d="M122 1198h1v1h-1zm3 0h1v1h-1zm-14 1h1v1h-1zm3 0h1v1h-1zm-8 1h1v1h-1zm8 0h1v1h-1zm6 0h1v1h-1zm3 0h1v1h-1zm-9 1h1v1h-1zm3 0h1v1h-1zm6 0h1v1h-1zm-14 1h1v1h-1zm2 0h1v1h-1zm4 0h5v1h-5zm6 0h1v1h-1zm2 0h1v1h-1zm2 0h1v1h-1zm2 0h1v1h-1zm-23 1h1v1h-1zm6 0h2v1h-2zm4 0h2v1h-2zm5 0h1v1h-1zm4 0h2v1h-2zm4 0h1v1h-1zm-18 1h1v1h-1zm2 0h4v1h-4zm5 0h2v1h-2zm4 0h3v1h-3zm4 0h3v1h-3zm4 0h1v1h-1zm-20 1h2v1h-2zm5 0h9v1h-9zm10 0h4v1h-4zm5 0h1v1h-1zm2 0h2v1h-2zm6 0h1v1h-1zm-33 1h1v1h-1zm4 0h3v1h-3zm5 0h13v1h-13zm14 0h2v1h-2zm3 0h3v1h-3zm-26 1h1v1h-1zm4 0h23v1h-23zm25 0h1v1h-1zm-28 1h1v1h-1zm4 0h2v1h-2zm3 0h3v1h-3zm4 0h10v1h-10zm11 0h7v1h-7zm-27 1h1v1h-1zm3 0h1v1h-1zm3 0h1v1h-1zm3 0h5v1h-5zm6 0h20v1h-20zm-13 1h2v1h-2zm3 0h10v1h-10zm11 0h17v1h-17zm-13 1h4v1h-4zm5 0h27v1h-27zm-7 1h2v1h-2zm3 0h28v1h-28zm29 0h1v1h-1zm-39 1h1v1h-1zm5 0h2v1h-2zm6 0h30v1h-30zm-5 1h1v1h-1zm2 0h2v1h-2zm3 0h2v1h-2zm3 0h28v1h-28zm-10 1h1v1h-1zm5 0h2v1h-2zm4 0h26v1h-26zm27 0h2v1h-2zm-40 1h1v1h-1zm4 0h1v1h-1zm3 0h1v1h-1zm3 0h4v1h-4zm5 0h25v1h-25zm-14 1h1v1h-1zm4 0h2v1h-2zm3 0h36v1h-36zm1 1h4v1h-4zm5 0h28v1h-28zm-10 1h2v1h-2zm4 0h2v1h-2zm4 0h1v1h-1zm2 0h26v1h-26zm-12 1h1v1h-1zm3 0h3v1h-3zm5 0h30v1h-30zm-9 1h1v1h-1zm9 0h5v1h-5zm6 0h23v1h-23zm25 0h1v1h-1zm-41 1h3v1h-3zm5 0h1v1h-1zm2 0h5v1h-5zm6 0h4v1h-4zm5 0h23v1h-23zm24 0h1v1h-1zm-40 1h1v1h-1zm6 0h1v1h-1zm2 0h31v1h-31zm32 0h1v1h-1zm-42 1h2v1h-2zm5 0h1v1h-1zm2 0h1v1h-1zm2 0h31v1h-31zm-7 1h1v1h-1zm3 0h1v1h-1zm2 0h1v1h-1zm2 0h31v1h-31zm33 0h1v1h-1zm-41 1h1v1h-1zm3 0h6v1h-6zm7 0h28v1h-28zm30 0h1v1h-1zm-38 1h1v1h-1zm4 0h2v1h-2zm3 0h2v1h-2zm4 0h26v1h-26zm27 0h1v1h-1zm-39 1h1v1h-1zm2 0h2v1h-2zm6 0h3v1h-3zm5 0h25v1h-25zm26 0h1v1h-1zm-40 1h2v1h-2zm4 0h1v1h-1zm6 0h1v1h-1zm2 0h28v1h-28zm-9 1h1v1h-1zm2 0h3v1h-3zm6 0h20v1h-20zm21 0h6v1h-6zm7 0h1v1h-1zm-39 1h1v1h-1zm2 0h1v1h-1zm2 0h4v1h-4zm5 0h2v1h-2zm3 0h2v1h-2zm3 0h17v1h-17zm18 0h6v1h-6zm-34 1h1v1h-1zm4 0h1v1h-1zm6 0h8v1h-8zm9 0h20v1h-20zm-19 1h1v1h-1zm2 0h1v1h-1zm9 0h1v1h-1zm2 0h24v1h-24zm25 0h3v1h-3zm-34 1h1v1h-1zm4 0h2v1h-2zm3 0h2v1h-2zm4 0h12v1h-12zm13 0h10v1h-10zm-28 1h2v1h-2zm3 0h2v1h-2zm3 0h1v1h-1zm3 0h2v1h-2zm3 0h10v1h-10zm11 0h14v1h-14zm15 0h2v1h-2zm-36 1h1v1h-1zm2 0h1v1h-1zm4 0h1v1h-1zm5 0h1v1h-1zm2 0h3v1h-3zm4 0h19v1h-19zm-19 1h1v1h-1zm4 0h2v1h-2zm5 0h1v1h-1zm2 0h1v1h-1zm4 0h2v1h-2zm5 0h11v1h-11zm12 0h2v1h-2zm3 0h4v1h-4zm-35 1h1v1h-1zm4 0h1v1h-1zm2 0h1v1h-1zm3 0h1v1h-1zm3 0h5v1h-5zm6 0h1v1h-1zm2 0h1v1h-1zm2 0h12v1h-12zm14 0h2v1h-2zm4 0h1v1h-1zm-40 1h4v1h-4zm5 0h1v1h-1zm2 0h8v1h-8zm9 0h1v1h-1zm2 0h8v1h-8zm9 0h6v1h-6zm7 0h1v1h-1zm3 0h2v1h-2zm-35 1h1v1h-1zm4 0h2v1h-2zm3 0h3v1h-3zm4 0h2v1h-2zm3 0h7v1h-7zm8 0h10v1h-10zm11 0h2v1h-2zm-32 1h1v1h-1zm2 0h1v1h-1zm3 0h3v1h-3zm7 0h2v1h-2zm3 0h5v1h-5zm11 0h5v1h-5zm6 0h1v1h-1zm3 0h1v1h-1zm3 0h1v1h-1zm-38 1h1v1h-1zm3 0h1v1h-1zm2 0h6v1h-6zm7 0h2v1h-2zm3 0h1v1h-1zm2 0h6v1h-6zm7 0h6v1h-6zm7 0h2v1h-2zm4 0h1v1h-1zm-36 1h2v1h-2zm4 0h1v1h-1zm3 0h3v1h-3zm5 0h2v1h-2zm4 0h2v1h-2zm3 0h8v1h-8zm9 0h2v1h-2zm3 0h1v1h-1zm4 0h3v1h-3zm-37 1h1v1h-1zm2 0h1v1h-1zm5 0h3v1h-3zm4 0h1v1h-1zm3 0h1v1h-1zm4 0h2v1h-2zm4 0h4v1h-4zm6 0h1v1h-1zm2 0h4v1h-4zm5 0h1v1h-1zm2 0h4v1h-4zm-37 1h1v1h-1zm4 0h2v1h-2zm3 0h1v1h-1zm2 0h1v1h-1zm2 0h2v1h-2zm3 0h7v1h-7zm9 0h2v1h-2zm3 0h4v1h-4zm5 0h1v1h-1zm2 0h3v1h-3zm4 0h2v1h-2zm3 0h1v1h-1zm-38 1h1v1h-1zm2 0h1v1h-1zm8 0h1v1h-1zm2 0h6v1h-6zm7 0h2v1h-2zm3 0h3v1h-3zm5 0h1v1h-1zm3 0h2v1h-2zm4 0h1v1h-1zm-33 1h3v1h-3zm4 0h2v1h-2zm3 0h1v1h-1zm2 0h1v1h-1zm2 0h1v1h-1zm2 0h3v1h-3zm4 0h2v1h-2zm3 0h2v1h-2zm3 0h4v1h-4zm7 0h1v1h-1zm5 0h1v1h-1zm-35 1h1v1h-1zm2 0h1v1h-1zm2 0h2v1h-2zm4 0h2v1h-2zm3 0h6v1h-6zm7 0h1v1h-1zm3 0h6v1h-6zm7 0h5v1h-5zm8 0h1v1h-1zm-39 1h1v1h-1zm2 0h4v1h-4zm5 0h3v1h-3zm4 0h4v1h-4zm5 0h1v1h-1zm3 0h2v1h-2zm4 0h7v1h-7zm9 0h3v1h-3zm4 0h1v1h-1zm3 0h1v1h-1zm-32 1h5v1h-5zm6 0h9v1h-9zm10 0h2v1h-2zm4 0h2v1h-2zm3 0h1v1h-1zm2 0h3v1h-3zm5 0h1v1h-1zm-37 1h3v1h-3zm9 0h1v1h-1zm2 0h2v1h-2zm3 0h2v1h-2zm3 0h1v1h-1zm2 0h6v1h-6zm7 0h5v1h-5zm6 0h2v1h-2zm5 0h2v1h-2zm-37 1h3v1h-3zm4 0h2v1h-2zm3 0h3v1h-3zm4 0h1v1h-1zm2 0h2v1h-2zm3 0h4v1h-4zm5 0h4v1h-4zm7 0h5v1h-5zm7 0h1v1h-1zm4 0h1v1h-1zm-35 1h1v1h-1zm2 0h6v1h-6zm7 0h7v1h-7zm9 0h1v1h-1zm2 0h1v1h-1zm2 0h2v1h-2zm3 0h2v1h-2zm3 0h2v1h-2zm5 0h1v1h-1zm-36 1h1v1h-1zm2 0h2v1h-2zm4 0h1v1h-1zm3 0h1v1h-1zm5 0h3v1h-3zm4 0h2v1h-2zm3 0h3v1h-3zm5 0h3v1h-3zm6 0h1v1h-1zm5 0h2v1h-2zm-35 1h1v1h-1zm5 0h1v1h-1zm2 0h9v1h-9zm10 0h3v1h-3zm4 0h4v1h-4zm5 0h2v1h-2zm3 0h1v1h-1zm4 0h2v1h-2zm3 0h1v1h-1zm-36 1h2v1h-2zm4 0h4v1h-4zm5 0h1v1h-1zm2 0h4v1h-4zm5 0h1v1h-1zm2 0h4v1h-4zm5 0h10v1h-10zm11 0h1v1h-1zm-34 1h1v1h-1zm3 0h1v1h-1zm2 0h1v1h-1zm2 0h1v1h-1zm2 0h1v1h-1zm2 0h1v1h-1zm2 0h2v1h-2zm3 0h2v1h-2zm3 0h1v1h-1zm3 0h5v1h-5zm6 0h1v1h-1zm2 0h1v1h-1zm3 0h1v1h-1zm2 0h1v1h-1zm-38 1h1v1h-1zm2 0h1v1h-1zm6 0h1v1h-1zm4 0h1v1h-1zm2 0h6v1h-6zm9 0h1v1h-1zm2 0h9v1h-9zm10 0h4v1h-4zm-35 1h2v1h-2zm5 0h3v1h-3zm7 0h1v1h-1zm5 0h1v1h-1zm4 0h1v1h-1zm2 0h2v1h-2zm3 0h4v1h-4zm5 0h1v1h-1zm6 0h2v1h-2zm-34 1h2v1h-2zm7 0h4v1h-4zm5 0h1v1h-1zm4 0h1v1h-1zm2 0h6v1h-6zm7 0h6v1h-6zm9 0h2v1h-2zm-36 1h1v1h-1zm7 0h1v1h-1zm3 0h3v1h-3zm4 0h4v1h-4zm5 0h5v1h-5zm6 0h1v1h-1zm2 0h1v1h-1zm3 0h3v1h-3zm4 0h4v1h-4zm-34 1h2v1h-2zm3 0h3v1h-3zm4 0h1v1h-1zm2 0h2v1h-2zm3 0h1v1h-1zm4 0h2v1h-2zm3 0h1v1h-1zm2 0h4v1h-4zm7 0h1v1h-1zm3 0h2v1h-2zm6 0h2v1h-2zm-33 1h1v1h-1zm7 0h3v1h-3zm4 0h3v1h-3zm4 0h1v1h-1zm2 0h4v1h-4zm6 0h5v1h-5zm6 0h3v1h-3zm5 0h1v1h-1zm-37 1h3v1h-3zm5 0h4v1h-4zm6 0h6v1h-6zm7 0h3v1h-3zm4 0h2v1h-2zm4 0h5v1h-5zm7 0h2v1h-2zm3 0h1v1h-1zm-37 1h1v1h-1zm2 0h1v1h-1zm2 0h5v1h-5zm7 0h1v1h-1zm2 0h1v1h-1zm3 0h4v1h-4zm5 0h6v1h-6zm8 0h6v1h-6zm-30 1h1v1h-1zm2 0h3v1h-3zm5 0h3v1h-3zm5 0h1v1h-1zm2 0h2v1h-2zm3 0h2v1h-2zm3 0h3v1h-3zm4 0h2v1h-2zm3 0h1v1h-1zm2 0h2v1h-2zm5 0h1v1h-1zm-28 1h6v1h-6zm7 0h4v1h-4zm5 0h4v1h-4zm6 0h3v1h-3zm4 0h4v1h-4zm5 0h4v1h-4zm-33 1h2v1h-2zm3 0h2v1h-2zm7 0h2v1h-2zm3 0h1v1h-1zm2 0h3v1h-3zm4 0h2v1h-2zm3 0h2v1h-2zm4 0h4v1h-4zm5 0h1v1h-1zm3 0h2v1h-2zm-33 1h2v1h-2zm5 0h1v1h-1zm2 0h2v1h-2zm5 0h3v1h-3zm4 0h3v1h-3zm5 0h3v1h-3zm4 0h1v1h-1zm4 0h1v1h-1zm2 0h1v1h-1zm2 0h2v1h-2zm-32 1h2v1h-2zm6 0h1v1h-1zm3 0h1v1h-1zm2 0h1v1h-1zm2 0h2v1h-2zm3 0h4v1h-4zm5 0h4v1h-4zm6 0h1v1h-1zm3 0h1v1h-1zm2 0h1v1h-1zm2 0h1v1h-1zm-35 1h2v1h-2zm3 0h1v1h-1zm2 0h1v1h-1zm2 0h1v1h-1zm2 0h2v1h-2zm3 0h2v1h-2zm3 0h1v1h-1zm3 0h2v1h-2zm3 0h3v1h-3zm4 0h1v1h-1zm2 0h1v1h-1zm3 0h1v1h-1zm2 0h4v1h-4zm-32 1h1v1h-1zm3 0h1v1h-1zm5 0h1v1h-1zm3 0h4v1h-4zm6 0h3v1h-3zm4 0h1v1h-1zm3 0h5v1h-5zm7 0h5v1h-5zm6 0h1v1h-1zm-35 1h1v1h-1zm5 0h2v1h-2zm4 0h5v1h-5zm6 0h2v1h-2zm3 0h2v1h-2zm3 0h5v1h-5zm6 0h1v1h-1zm5 0h2v1h-2zm3 0h2v1h-2zm-37 1h1v1h-1zm3 0h1v1h-1zm4 0h4v1h-4zm5 0h1v1h-1zm2 0h5v1h-5zm6 0h5v1h-5zm6 0h1v1h-1zm2 0h1v1h-1zm3 0h1v1h-1zm4 0h2v1h-2zm-36 1h3v1h-3zm5 0h5v1h-5zm6 0h1v1h-1zm2 0h11v1h-11zm12 0h8v1h-8zm9 0h1v1h-1zm2 0h2v1h-2zm-36 1h1v1h-1zm2 0h1v1h-1zm2 0h1v1h-1zm2 0h1v1h-1zm2 0h1v1h-1zm2 0h1v1h-1zm2 0h2v1h-2zm3 0h1v1h-1zm5 0h6v1h-6zm7 0h3v1h-3zm5 0h5v1h-5zm-32 1h2v1h-2zm3 0h2v1h-2zm3 0h1v1h-1zm2 0h5v1h-5zm6 0h2v1h-2zm3 0h5v1h-5zm7 0h3v1h-3zm4 0h3v1h-3zm5 0h5v1h-5zm6 0h1v1h-1zm-38 1h1v1h-1zm2 0h1v1h-1zm2 0h3v1h-3zm5 0h3v1h-3zm5 0h4v1h-4zm5 0h4v1h-4zm5 0h3v1h-3zm4 0h4v1h-4zm7 0h1v1h-1zm-36 1h2v1h-2zm4 0h2v1h-2zm4 0h1v1h-1zm3 0h1v1h-1zm2 0h3v1h-3zm5 0h1v1h-1zm2 0h6v1h-6zm7 0h1v1h-1zm2 0h2v1h-2zm3 0h4v1h-4zm8 0h1v1h-1zm-39 1h2v1h-2zm3 0h1v1h-1zm3 0h1v1h-1zm2 0h2v1h-2zm3 0h2v1h-2zm3 0h4v1h-4zm5 0h2v1h-2zm3 0h4v1h-4zm6 0h1v1h-1zm6 0h3v1h-3zm-32 1h6v1h-6zm7 0h4v1h-4zm5 0h6v1h-6zm7 0h7v1h-7zm8 0h4v1h-4zm6 0h1v1h-1zm-35 1h1v1h-1zm3 0h1v1h-1zm2 0h1v1h-1zm2 0h1v1h-1zm3 0h6v1h-6zm7 0h11v1h-11zm13 0h2v1h-2zm4 0h2v1h-2zm3 0h1v1h-1zm-38 1h1v1h-1zm2 0h1v1h-1zm3 0h2v1h-2zm4 0h1v1h-1zm2 0h1v1h-1zm2 0h6v1h-6zm7 0h7v1h-7zm8 0h6v1h-6zm7 0h3v1h-3zm-35 1h1v1h-1zm4 0h2v1h-2zm3 0h1v1h-1zm2 0h4v1h-4zm6 0h1v1h-1zm2 0h6v1h-6zm7 0h9v1h-9zm10 0h5v1h-5zm6 0h1v1h-1zm-40 1h2v1h-2zm3 0h1v1h-1zm2 0h3v1h-3zm6 0h8v1h-8zm9 0h13v1h-13zm14 0h3v1h-3zm5 0h1v1h-1zm-39 1h1v1h-1zm3 0h1v1h-1zm2 0h3v1h-3zm5 0h6v1h-6zm7 0h9v1h-9zm10 0h6v1h-6zm7 0h3v1h-3zm5 0h1v1h-1zm-37 1h1v1h-1zm2 0h2v1h-2zm5 0h1v1h-1zm2 0h7v1h-7zm8 0h9v1h-9zm10 0h4v1h-4zm5 0h1v1h-1zm2 0h3v1h-3zm-34 1h1v1h-1zm2 0h2v1h-2zm4 0h8v1h-8zm9 0h6v1h-6zm7 0h10v1h-10zm12 0h4v1h-4zm-36 1h1v1h-1zm2 0h5v1h-5zm6 0h27v1h-27zm28 0h2v1h-2zm-36 1h2v1h-2zm3 0h1v1h-1zm2 0h5v1h-5zm6 0h2v1h-2zm3 0h21v1h-21zm22 0h4v1h-4zm-34 1h1v1h-1zm2 0h2v1h-2zm3 0h31v1h-31zm-6 1h2v1h-2zm4 0h2v1h-2zm3 0h4v1h-4zm5 0h27v1h-27zm-10 1h8v1h-8zm9 0h24v1h-24zm25 0h2v1h-2zm-35 1h2v1h-2zm4 0h24v1h-24zm25 0h6v1h-6zm8 0h1v1h-1zm-38 1h2v1h-2zm3 0h1v1h-1zm3 0h1v1h-1zm3 0h27v1h-27zm29 0h1v1h-1zm-35 1h1v1h-1zm2 0h29v1h-29zm30 0h3v1h-3zm-36 1h1v1h-1zm2 0h1v1h-1zm4 0h27v1h-27zm28 0h2v1h-2zm4 0h2v1h-2zm3 0h1v1h-1zm-41 1h4v1h-4zm6 0h1v1h-1zm2 0h3v1h-3zm5 0h8v1h-8zm9 0h17v1h-17zm-22 1h4v1h-4zm5 0h1v1h-1zm2 0h1v1h-1zm2 0h30v1h-30zm-6 1h34v1h-34zm35 0h1v1h-1zm2 0h1v1h-1zm-37 1h31v1h-31zm32 0h3v1h-3zm4 0h1v1h-1zm2 0h1v1h-1zm-41 1h1v1h-1zm4 0h1v1h-1zm4 0h4v1h-4zm5 0h25v1h-25zm-10 1h6v1h-6zm7 0h24v1h-24zm26 0h2v1h-2zm-36 1h3v1h-3zm4 0h1v1h-1zm2 0h31v1h-31zm32 0h2v1h-2zm-34 1h2v1h-2zm3 0h29v1h-29zm30 0h4v1h-4zm-36 1h1v1h-1zm2 0h4v1h-4zm5 0h23v1h-23zm24 0h8v1h-8zm-32 1h2v1h-2zm3 0h8v1h-8zm9 0h26v1h-26zm29 0h1v1h-1zm-39 1h1v1h-1zm2 0h35v1h-35zm-4 1h4v1h-4zm5 0h33v1h-33zm34 0h1v1h-1zm-38 1h1v1h-1zm5 0h30v1h-30zm31 0h1v1h-1zm2 0h1v1h-1zm-35 1h3v1h-3zm4 0h3v1h-3zm4 0h29v1h-29zm-12 1h1v1h-1zm2 0h7v1h-7zm8 0h7v1h-7zm8 0h1v1h-1zm2 0h10v1h-10zm11 0h8v1h-8zm-30 1h1v1h-1zm4 0h1v1h-1zm2 0h2v1h-2zm3 0h30v1h-30zm-8 1h2v1h-2zm3 0h3v1h-3zm4 0h5v1h-5zm6 0h20v1h-20zm21 0h3v1h-3zm7 0h1v1h-1zm-43 1h1v1h-1zm2 0h1v1h-1zm4 0h3v1h-3zm4 0h27v1h-27zm-5 1h1v1h-1zm3 0h1v1h-1zm2 0h1v1h-1zm2 0h27v1h-27zm-12 1h1v1h-1zm2 0h1v1h-1zm2 0h1v1h-1zm2 0h3v1h-3zm4 0h20v1h-20zm21 0h7v1h-7zm-31 1h3v1h-3zm5 0h1v1h-1zm2 0h3v1h-3zm4 0h14v1h-14zm15 0h11v1h-11zm13 0h1v1h-1zm-37 1h1v1h-1zm2 0h9v1h-9zm11 0h7v1h-7zm8 0h3v1h-3zm5 0h6v1h-6zm7 0h3v1h-3z" fill="#080808"/><path d="M161 1217h2v2h-2zM145 1255h2v2h-2zM147 1292h2v2h-2zM151 1305h2v2h-2zM158 1307h2v2h-2z" fill="#bdbdbd"/>
<path d="M92.5 1173.5H238.5V1320.5H92.5ZM141.5 1173.5V1320.5M92.5 1282.5H238.5" stroke="#262626" stroke-width="1.15" fill="none"/>
<path d="M90.0 1283.5h2.5M128.5 1320.5v2.5M90.0 1246.5h2.5M165.5 1320.5v2.5M90.0 1210.5h2.5M202.5 1320.5v2.5" stroke="#333" stroke-width="1" fill="none"/>
<text transform="translate(88.8 1319.1) rotate(-90)" style="font-family:'Liberation Sans',sans-serif;font-size:6.8px;font-weight:bold" fill="#333">10<tspan dy="-2.6" font-size="4.5px">0</tspan></text>
<text x="92.4" y="1329.6" style="font-family:'Liberation Sans',sans-serif;font-size:6.8px;font-weight:bold" fill="#333">10<tspan dy="-2.6" font-size="4.5px">0</tspan></text>
<text transform="translate(88.8 1282.4) rotate(-90)" style="font-family:'Liberation Sans',sans-serif;font-size:6.8px;font-weight:bold" fill="#333">10<tspan dy="-2.6" font-size="4.5px">1</tspan></text>
<text x="129" y="1329.6" style="font-family:'Liberation Sans',sans-serif;font-size:6.8px;font-weight:bold" fill="#333">10<tspan dy="-2.6" font-size="4.5px">1</tspan></text>
<text transform="translate(88.8 1245.8) rotate(-90)" style="font-family:'Liberation Sans',sans-serif;font-size:6.8px;font-weight:bold" fill="#333">10<tspan dy="-2.6" font-size="4.5px">2</tspan></text>
<text x="165.6" y="1329.6" style="font-family:'Liberation Sans',sans-serif;font-size:6.8px;font-weight:bold" fill="#333">10<tspan dy="-2.6" font-size="4.5px">2</tspan></text>
<text transform="translate(88.8 1209.2) rotate(-90)" style="font-family:'Liberation Sans',sans-serif;font-size:6.8px;font-weight:bold" fill="#333">10<tspan dy="-2.6" font-size="4.5px">3</tspan></text>
<text x="202.1" y="1329.6" style="font-family:'Liberation Sans',sans-serif;font-size:6.8px;font-weight:bold" fill="#333">10<tspan dy="-2.6" font-size="4.5px">3</tspan></text>
<text transform="translate(88.8 1172.5) rotate(-90)" style="font-family:'Liberation Sans',sans-serif;font-size:6.8px;font-weight:bold" fill="#333">10<tspan dy="-2.6" font-size="4.5px">4</tspan></text>
<text x="238.7" y="1329.6" style="font-family:'Liberation Sans',sans-serif;font-size:6.8px;font-weight:bold" fill="#333">10<tspan dy="-2.6" font-size="4.5px">4</tspan></text>
<text transform="translate(83.6 1246.8) rotate(-90)" text-anchor="middle" style="font-family:'Liberation Sans',sans-serif;font-size:6.4px;font-weight:bold" fill="#222">CD8 APC</text>
<text x="164.1" y="1336.4" text-anchor="middle" style="font-family:'Liberation Sans',sans-serif;font-size:5.8px;font-weight:bold" fill="#222">IFNg FITC</text>
<text x="186.2" y="1275.8" style="font-family:'Liberation Serif',serif;stroke:#111;stroke-width:0.3px;font-size:16px" fill="#111">0.04%</text>
<path d="M301 1200h1v1h-1zm0 1h1v1h-1zm-11 1h1v1h-1zm17 0h1v1h-1zm-19 1h2v1h-2zm8 0h1v1h-1zm3 0h3v1h-3zm4 0h1v1h-1zm2 0h1v1h-1zm2 0h1v1h-1zm5 0h1v1h-1zm-23 1h2v1h-2zm5 0h2v1h-2zm4 0h1v1h-1zm2 0h3v1h-3zm4 0h1v1h-1zm2 0h2v1h-2zm4 0h2v1h-2zm3 0h1v1h-1zm2 0h1v1h-1zm2 0h1v1h-1zm-28 1h2v1h-2zm4 0h2v1h-2zm3 0h1v1h-1zm3 0h2v1h-2zm3 0h2v1h-2zm3 0h1v1h-1zm8 0h1v1h-1zm-23 1h2v1h-2zm4 0h7v1h-7zm8 0h7v1h-7zm8 0h1v1h-1zm2 0h1v1h-1zm3 0h1v1h-1zm3 0h1v1h-1zm-37 1h1v1h-1zm3 0h1v1h-1zm3 0h2v1h-2zm3 0h16v1h-16zm18 0h5v1h-5zm6 0h1v1h-1zm3 0h1v1h-1zm7 0h1v1h-1zm-39 1h1v1h-1zm3 0h4v1h-4zm5 0h12v1h-12zm13 0h10v1h-10zm-22 1h1v1h-1zm3 0h2v1h-2zm3 0h4v1h-4zm5 0h8v1h-8zm10 0h11v1h-11zm-31 1h1v1h-1zm4 0h1v1h-1zm7 0h1v1h-1zm2 0h30v1h-30zm-4 1h1v1h-1zm2 0h1v1h-1zm2 0h27v1h-27zm28 0h2v1h-2zm4 0h1v1h-1zm-44 1h1v1h-1zm5 0h10v1h-10zm11 0h2v1h-2zm3 0h25v1h-25zm29 0h1v1h-1zm-43 1h1v1h-1zm2 0h2v1h-2zm3 0h3v1h-3zm4 0h31v1h-31zm-7 1h2v1h-2zm4 0h30v1h-30zm-8 1h1v1h-1zm2 0h2v1h-2zm4 0h34v1h-34zm36 0h1v1h-1zm-44 1h1v1h-1zm5 0h2v1h-2zm3 0h6v1h-6zm7 0h26v1h-26zm27 0h1v1h-1zm-43 1h3v1h-3zm6 0h8v1h-8zm9 0h22v1h-22zm23 0h1v1h-1zm2 0h4v1h-4zm-40 1h3v1h-3zm7 0h35v1h-35zm-8 1h2v1h-2zm4 0h1v1h-1zm5 0h2v1h-2zm3 0h31v1h-31zm-9 1h1v1h-1zm6 0h2v1h-2zm3 0h29v1h-29zm30 0h3v1h-3zm-37 1h2v1h-2zm3 0h33v1h-33zm34 0h1v1h-1zm2 0h1v1h-1zm-41 1h2v1h-2zm5 0h5v1h-5zm6 0h30v1h-30zm33 0h1v1h-1zm-46 1h1v1h-1zm5 0h1v1h-1zm4 0h3v1h-3zm4 0h31v1h-31zm-9 1h1v1h-1zm4 0h2v1h-2zm3 0h34v1h-34zm-12 1h3v1h-3zm4 0h1v1h-1zm2 0h2v1h-2zm3 0h5v1h-5zm6 0h29v1h-29zm30 0h1v1h-1zm-37 1h2v1h-2zm3 0h33v1h-33zm-5 1h2v1h-2zm3 0h1v1h-1zm2 0h34v1h-34zm-11 1h1v1h-1zm2 0h1v1h-1zm3 0h3v1h-3zm5 0h3v1h-3zm4 0h30v1h-30zm32 0h1v1h-1zm-46 1h1v1h-1zm6 0h5v1h-5zm6 0h34v1h-34zm-11 1h1v1h-1zm2 0h3v1h-3zm6 0h1v1h-1zm2 0h31v1h-31zm32 0h1v1h-1zm-42 1h1v1h-1zm2 0h1v1h-1zm2 0h1v1h-1zm4 0h2v1h-2zm3 0h25v1h-25zm26 0h6v1h-6zm7 0h1v1h-1zm-44 1h1v1h-1zm2 0h1v1h-1zm5 0h2v1h-2zm4 0h27v1h-27zm28 0h5v1h-5zm-38 1h1v1h-1zm2 0h2v1h-2zm3 0h1v1h-1zm2 0h14v1h-14zm15 0h19v1h-19zm20 0h1v1h-1zm-42 1h1v1h-1zm2 0h1v1h-1zm3 0h1v1h-1zm2 0h3v1h-3zm4 0h2v1h-2zm3 0h2v1h-2zm3 0h22v1h-22zm24 0h1v1h-1zm-43 1h1v1h-1zm4 0h1v1h-1zm3 0h1v1h-1zm6 0h27v1h-27zm28 0h2v1h-2zm-39 1h1v1h-1zm7 0h1v1h-1zm2 0h2v1h-2zm3 0h4v1h-4zm5 0h14v1h-14zm15 0h3v1h-3zm4 0h2v1h-2zm4 0h1v1h-1zm2 0h1v1h-1zm-44 1h1v1h-1zm3 0h1v1h-1zm3 0h1v1h-1zm5 0h1v1h-1zm2 0h1v1h-1zm2 0h2v1h-2zm3 0h5v1h-5zm6 0h15v1h-15zm16 0h1v1h-1zm2 0h1v1h-1zm-37 1h1v1h-1zm2 0h2v1h-2zm6 0h14v1h-14zm15 0h14v1h-14zm-28 1h1v1h-1zm4 0h1v1h-1zm2 0h3v1h-3zm4 0h1v1h-1zm2 0h1v1h-1zm2 0h2v1h-2zm3 0h9v1h-9zm10 0h5v1h-5zm6 0h8v1h-8zm10 0h1v1h-1zm-43 1h1v1h-1zm3 0h2v1h-2zm4 0h1v1h-1zm2 0h2v1h-2zm4 0h1v1h-1zm2 0h5v1h-5zm6 0h11v1h-11zm13 0h7v1h-7zm9 0h1v1h-1zm-41 1h1v1h-1zm2 0h1v1h-1zm2 0h1v1h-1zm3 0h4v1h-4zm7 0h1v1h-1zm3 0h4v1h-4zm5 0h1v1h-1zm2 0h1v1h-1zm2 0h1v1h-1zm3 0h2v1h-2zm3 0h1v1h-1zm2 0h3v1h-3zm8 0h2v1h-2zm-40 1h2v1h-2zm3 0h4v1h-4zm5 0h1v1h-1zm2 0h18v1h-18zm20 0h6v1h-6zm7 0h2v1h-2zm-37 1h1v1h-1zm6 0h2v1h-2zm4 0h2v1h-2zm3 0h1v1h-1zm2 0h7v1h-7zm8 0h2v1h-2zm3 0h8v1h-8zm9 0h2v1h-2zm-39 1h1v1h-1zm3 0h1v1h-1zm4 0h1v1h-1zm2 0h2v1h-2zm3 0h1v1h-1zm3 0h1v1h-1zm3 0h10v1h-10zm11 0h2v1h-2zm5 0h4v1h-4zm7 0h1v1h-1zm2 0h1v1h-1zm-42 1h6v1h-6zm8 0h1v1h-1zm2 0h2v1h-2zm4 0h2v1h-2zm5 0h11v1h-11zm12 0h6v1h-6zm7 0h1v1h-1zm4 0h1v1h-1zm-39 1h4v1h-4zm5 0h7v1h-7zm8 0h4v1h-4zm5 0h3v1h-3zm4 0h5v1h-5zm6 0h4v1h-4zm5 0h1v1h-1zm4 0h1v1h-1zm-40 1h1v1h-1zm2 0h1v1h-1zm2 0h1v1h-1zm2 0h1v1h-1zm2 0h1v1h-1zm2 0h4v1h-4zm5 0h3v1h-3zm4 0h7v1h-7zm9 0h1v1h-1zm2 0h1v1h-1zm2 0h3v1h-3zm4 0h1v1h-1zm2 0h2v1h-2zm-38 1h1v1h-1zm7 0h1v1h-1zm4 0h1v1h-1zm2 0h1v1h-1zm2 0h4v1h-4zm6 0h9v1h-9zm10 0h1v1h-1zm2 0h3v1h-3zm6 0h5v1h-5zm-36 1h3v1h-3zm6 0h1v1h-1zm2 0h3v1h-3zm5 0h3v1h-3zm4 0h2v1h-2zm6 0h2v1h-2zm3 0h3v1h-3zm6 0h2v1h-2zm3 0h2v1h-2zm3 0h1v1h-1zm-38 1h1v1h-1zm7 0h5v1h-5zm6 0h2v1h-2zm3 0h5v1h-5zm6 0h3v1h-3zm4 0h1v1h-1zm2 0h3v1h-3zm4 0h1v1h-1zm3 0h1v1h-1zm3 0h1v1h-1zm2 0h1v1h-1zm-43 1h1v1h-1zm4 0h1v1h-1zm2 0h1v1h-1zm3 0h2v1h-2zm3 0h1v1h-1zm4 0h1v1h-1zm2 0h2v1h-2zm3 0h5v1h-5zm6 0h10v1h-10zm12 0h3v1h-3zm-40 1h4v1h-4zm6 0h1v1h-1zm3 0h7v1h-7zm8 0h2v1h-2zm4 0h1v1h-1zm2 0h7v1h-7zm10 0h1v1h-1zm2 0h1v1h-1zm3 0h1v1h-1zm3 0h3v1h-3zm-40 1h2v1h-2zm7 0h1v1h-1zm4 0h3v1h-3zm4 0h3v1h-3zm4 0h3v1h-3zm4 0h4v1h-4zm5 0h10v1h-10zm11 0h2v1h-2zm3 0h1v1h-1zm-42 1h2v1h-2zm5 0h3v1h-3zm4 0h1v1h-1zm3 0h2v1h-2zm3 0h1v1h-1zm3 0h1v1h-1zm2 0h1v1h-1zm3 0h4v1h-4zm5 0h1v1h-1zm2 0h9v1h-9zm-28 1h1v1h-1zm7 0h2v1h-2zm3 0h1v1h-1zm2 0h1v1h-1zm2 0h1v1h-1zm3 0h16v1h-16zm18 0h1v1h-1zm6 0h1v1h-1zm-43 1h1v1h-1zm4 0h1v1h-1zm7 0h1v1h-1zm2 0h1v1h-1zm2 0h3v1h-3zm4 0h4v1h-4zm6 0h10v1h-10zm14 0h1v1h-1zm3 0h3v1h-3zm-41 1h1v1h-1zm2 0h3v1h-3zm6 0h1v1h-1zm4 0h1v1h-1zm2 0h2v1h-2zm5 0h8v1h-8zm9 0h5v1h-5zm6 0h2v1h-2zm5 0h1v1h-1zm2 0h1v1h-1zm-41 1h1v1h-1zm3 0h1v1h-1zm2 0h2v1h-2zm5 0h2v1h-2zm3 0h1v1h-1zm3 0h1v1h-1zm2 0h2v1h-2zm3 0h7v1h-7zm8 0h6v1h-6zm7 0h1v1h-1zm2 0h3v1h-3zm-40 1h1v1h-1zm3 0h1v1h-1zm4 0h1v1h-1zm2 0h2v1h-2zm5 0h2v1h-2zm4 0h3v1h-3zm4 0h1v1h-1zm2 0h2v1h-2zm3 0h1v1h-1zm2 0h6v1h-6zm9 0h1v1h-1zm3 0h1v1h-1zm-41 1h1v1h-1zm5 0h4v1h-4zm5 0h7v1h-7zm9 0h3v1h-3zm4 0h2v1h-2zm4 0h8v1h-8zm9 0h1v1h-1zm2 0h1v1h-1zm2 0h1v1h-1zm2 0h2v1h-2zm-42 1h1v1h-1zm2 0h1v1h-1zm7 0h3v1h-3zm4 0h3v1h-3zm4 0h1v1h-1zm4 0h7v1h-7zm9 0h2v1h-2zm3 0h4v1h-4zm5 0h2v1h-2zm5 0h1v1h-1zm-34 1h1v1h-1zm3 0h2v1h-2zm5 0h2v1h-2zm6 0h2v1h-2zm3 0h2v1h-2zm5 0h5v1h-5zm6 0h2v1h-2zm6 0h1v1h-1zm-41 1h1v1h-1zm3 0h1v1h-1zm2 0h3v1h-3zm6 0h3v1h-3zm5 0h2v1h-2zm4 0h9v1h-9zm11 0h3v1h-3zm4 0h1v1h-1zm4 0h2v1h-2zm-38 1h1v1h-1zm2 0h1v1h-1zm2 0h2v1h-2zm3 0h7v1h-7zm8 0h5v1h-5zm6 0h1v1h-1zm3 0h5v1h-5zm6 0h7v1h-7zm-31 1h3v1h-3zm6 0h2v1h-2zm3 0h1v1h-1zm3 0h1v1h-1zm2 0h1v1h-1zm2 0h2v1h-2zm3 0h13v1h-13zm14 0h2v1h-2zm4 0h2v1h-2zm4 0h1v1h-1zm-39 1h1v1h-1zm2 0h1v1h-1zm2 0h1v1h-1zm2 0h2v1h-2zm3 0h1v1h-1zm2 0h4v1h-4zm5 0h4v1h-4zm5 0h4v1h-4zm5 0h11v1h-11zm-29 1h3v1h-3zm4 0h4v1h-4zm5 0h1v1h-1zm2 0h3v1h-3zm4 0h5v1h-5zm6 0h2v1h-2zm3 0h2v1h-2zm3 0h9v1h-9zm10 0h2v1h-2zm3 0h1v1h-1zm2 0h1v1h-1zm-39 1h5v1h-5zm6 0h1v1h-1zm2 0h1v1h-1zm4 0h2v1h-2zm3 0h7v1h-7zm8 0h4v1h-4zm5 0h5v1h-5zm6 0h3v1h-3zm4 0h1v1h-1zm2 0h1v1h-1zm-42 1h1v1h-1zm4 0h1v1h-1zm3 0h2v1h-2zm4 0h3v1h-3zm5 0h15v1h-15zm19 0h4v1h-4zm5 0h2v1h-2zm-39 1h5v1h-5zm6 0h3v1h-3zm6 0h1v1h-1zm2 0h4v1h-4zm5 0h3v1h-3zm6 0h3v1h-3zm4 0h11v1h-11zm-31 1h1v1h-1zm3 0h1v1h-1zm2 0h3v1h-3zm4 0h3v1h-3zm6 0h2v1h-2zm3 0h2v1h-2zm3 0h1v1h-1zm2 0h1v1h-1zm5 0h2v1h-2zm3 0h2v1h-2zm3 0h1v1h-1zm3 0h4v1h-4zm6 0h1v1h-1zm-42 1h2v1h-2zm3 0h5v1h-5zm7 0h3v1h-3zm4 0h16v1h-16zm17 0h1v1h-1zm3 0h1v1h-1zm2 0h2v1h-2zm3 0h1v1h-1zm3 0h1v1h-1zm-44 1h2v1h-2zm4 0h1v1h-1zm4 0h1v1h-1zm4 0h3v1h-3zm4 0h1v1h-1zm2 0h2v1h-2zm3 0h4v1h-4zm5 0h5v1h-5zm6 0h1v1h-1zm3 0h4v1h-4zm5 0h1v1h-1zm2 0h1v1h-1zm2 0h1v1h-1zm-39 1h1v1h-1zm2 0h1v1h-1zm2 0h2v1h-2zm3 0h6v1h-6zm7 0h3v1h-3zm4 0h2v1h-2zm3 0h3v1h-3zm4 0h10v1h-10zm11 0h2v1h-2zm-33 1h2v1h-2zm4 0h6v1h-6zm7 0h7v1h-7zm8 0h1v1h-1zm2 0h6v1h-6zm7 0h8v1h-8zm-36 1h2v1h-2zm5 0h1v1h-1zm2 0h1v1h-1zm3 0h1v1h-1zm2 0h1v1h-1zm2 0h6v1h-6zm7 0h9v1h-9zm10 0h4v1h-4zm5 0h4v1h-4zm7 0h1v1h-1zm-43 1h2v1h-2zm3 0h6v1h-6zm7 0h1v1h-1zm2 0h3v1h-3zm6 0h6v1h-6zm7 0h8v1h-8zm9 0h3v1h-3zm4 0h1v1h-1zm3 0h2v1h-2zm-37 1h2v1h-2zm5 0h2v1h-2zm3 0h6v1h-6zm8 0h6v1h-6zm7 0h1v1h-1zm2 0h1v1h-1zm2 0h2v1h-2zm3 0h1v1h-1zm2 0h1v1h-1zm3 0h2v1h-2zm3 0h2v1h-2zm-39 1h2v1h-2zm3 0h1v1h-1zm4 0h3v1h-3zm4 0h3v1h-3zm4 0h4v1h-4zm6 0h14v1h-14zm15 0h4v1h-4zm-38 1h1v1h-1zm9 0h2v1h-2zm5 0h8v1h-8zm9 0h2v1h-2zm3 0h18v1h-18zm-23 1h1v1h-1zm4 0h1v1h-1zm3 0h1v1h-1zm2 0h11v1h-11zm12 0h2v1h-2zm3 0h14v1h-14zm16 0h1v1h-1zm-44 1h1v1h-1zm2 0h1v1h-1zm4 0h2v1h-2zm4 0h2v1h-2zm3 0h2v1h-2zm4 0h23v1h-23zm24 0h1v1h-1zm3 0h1v1h-1zm-42 1h2v1h-2zm4 0h1v1h-1zm2 0h2v1h-2zm3 0h1v1h-1zm2 0h13v1h-13zm14 0h4v1h-4zm6 0h4v1h-4zm5 0h2v1h-2zm3 0h2v1h-2zm3 0h1v1h-1zm-41 1h1v1h-1zm2 0h1v1h-1zm2 0h1v1h-1zm2 0h1v1h-1zm3 0h2v1h-2zm4 0h15v1h-15zm16 0h6v1h-6zm7 0h2v1h-2zm3 0h1v1h-1zm2 0h1v1h-1zm-40 1h1v1h-1zm2 0h1v1h-1zm2 0h1v1h-1zm2 0h2v1h-2zm3 0h24v1h-24zm27 0h3v1h-3zm-33 1h1v1h-1zm4 0h5v1h-5zm7 0h3v1h-3zm4 0h17v1h-17zm18 0h4v1h-4zm-39 1h1v1h-1zm6 0h1v1h-1zm2 0h6v1h-6zm7 0h18v1h-18zm19 0h7v1h-7zm8 0h1v1h-1zm4 0h1v1h-1zm-46 1h1v1h-1zm5 0h3v1h-3zm4 0h1v1h-1zm2 0h3v1h-3zm4 0h7v1h-7zm8 0h16v1h-16zm18 0h1v1h-1zm2 0h1v1h-1zm-43 1h2v1h-2zm4 0h2v1h-2zm4 0h2v1h-2zm3 0h3v1h-3zm4 0h1v1h-1zm2 0h23v1h-23zm24 0h1v1h-1zm3 0h1v1h-1zm-42 1h1v1h-1zm3 0h22v1h-22zm23 0h2v1h-2zm3 0h5v1h-5zm7 0h2v1h-2zm4 0h2v1h-2zm-43 1h1v1h-1zm2 0h2v1h-2zm3 0h2v1h-2zm3 0h3v1h-3zm4 0h31v1h-31zm32 0h1v1h-1zm-42 1h1v1h-1zm2 0h1v1h-1zm2 0h4v1h-4zm5 0h6v1h-6zm7 0h23v1h-23zm24 0h1v1h-1zm-40 1h4v1h-4zm5 0h2v1h-2zm4 0h32v1h-32zm33 0h1v1h-1zm-41 1h1v1h-1zm3 0h3v1h-3zm6 0h4v1h-4zm5 0h26v1h-26zm28 0h1v1h-1zm-42 1h3v1h-3zm4 0h15v1h-15zm16 0h23v1h-23zm-22 1h2v1h-2zm4 0h2v1h-2zm3 0h35v1h-35zm-6 1h3v1h-3zm4 0h2v1h-2zm3 0h36v1h-36zm-9 1h3v1h-3zm4 0h3v1h-3zm5 0h27v1h-27zm29 0h1v1h-1zm2 0h2v1h-2zm3 0h2v1h-2zm-43 1h4v1h-4zm5 0h7v1h-7zm8 0h18v1h-18zm19 0h13v1h-13zm-31 1h3v1h-3zm6 0h36v1h-36zm37 0h1v1h-1zm-43 1h3v1h-3zm4 0h3v1h-3zm4 0h6v1h-6zm7 0h28v1h-28zm29 0h1v1h-1zm-45 1h5v1h-5zm6 0h3v1h-3zm4 0h1v1h-1zm2 0h2v1h-2zm4 0h15v1h-15zm16 0h7v1h-7zm8 0h6v1h-6zm-37 1h2v1h-2zm3 0h8v1h-8zm9 0h4v1h-4zm6 0h15v1h-15zm16 0h8v1h-8zm-36 1h3v1h-3zm4 0h4v1h-4zm5 0h1v1h-1zm2 0h6v1h-6zm7 0h24v1h-24zm25 0h1v1h-1zm-43 1h2v1h-2zm4 0h2v1h-2zm3 0h1v1h-1zm2 0h25v1h-25zm26 0h8v1h-8zm-32 1h19v1h-19zm20 0h19v1h-19zm-22 1h1v1h-1zm2 0h1v1h-1zm2 0h1v1h-1zm2 0h29v1h-29zm30 0h8v1h-8zm-35 1h2v1h-2zm4 0h1v1h-1zm2 0h1v1h-1zm2 0h16v1h-16zm17 0h2v1h-2zm3 0h12v1h-12zm13 0h1v1h-1zm4 0h1v1h-1zm-46 1h1v1h-1zm5 0h4v1h-4zm5 0h34v1h-34zm-9 1h1v1h-1zm2 0h2v1h-2zm3 0h24v1h-24zm25 0h3v1h-3zm4 0h3v1h-3zm4 0h4v1h-4zm-40 1h1v1h-1zm2 0h4v1h-4zm6 0h6v1h-6zm7 0h9v1h-9zm10 0h7v1h-7zm8 0h1v1h-1zm2 0h1v1h-1zm2 0h4v1h-4zm-37 1h2v1h-2zm3 0h1v1h-1zm2 0h1v1h-1zm2 0h28v1h-28zm29 0h5v1h-5zm6 0h1v1h-1zm-43 1h2v1h-2zm3 0h2v1h-2zm4 0h4v1h-4zm6 0h24v1h-24zm25 0h5v1h-5zm-37 1h2v1h-2zm4 0h5v1h-5zm6 0h6v1h-6zm7 0h26v1h-26zm-18 1h2v1h-2zm3 0h3v1h-3zm4 0h1v1h-1zm2 0h9v1h-9zm10 0h25v1h-25zm26 0h1v1h-1zm-42 1h4v1h-4zm6 0h30v1h-30zm32 0h3v1h-3zm-40 1h2v1h-2zm3 0h1v1h-1zm2 0h9v1h-9zm10 0h27v1h-27zm-16 1h1v1h-1zm4 0h1v1h-1zm2 0h1v1h-1zm2 0h2v1h-2zm3 0h1v1h-1zm2 0h8v1h-8zm9 0h12v1h-12zm13 0h10v1h-10zm-34 1h1v1h-1zm3 0h1v1h-1zm2 0h1v1h-1zm2 0h1v1h-1zm2 0h23v1h-23zm24 0h5v1h-5zm6 0h1v1h-1zm2 0h2v1h-2z" fill="#080808"/><path d="M350 1195h2v2h-2zM339 1201h2v2h-2zM333 1211h2v2h-2zM330 1212h2v2h-2zM331 1220h2v2h-2zM333 1227h2v2h-2zM340 1230h2v2h-2zM332 1239h2v2h-2zM335 1240h2v2h-2zM348 1247h2v2h-2zM334 1248h2v2h-2zM329 1254h2v2h-2zM347 1257h2v2h-2zM325 1259h2v2h-2zM331 1260h2v2h-2zM345 1260h2v2h-2zM328 1261h2v2h-2zM333 1262h2v2h-2zM329 1266h2v2h-2zM345 1269h2v2h-2zM330 1272h2v2h-2zM338 1275h2v2h-2zM346 1282h2v2h-2zM328 1289h2v2h-2zM331 1292h2v2h-2zM338 1292h2v2h-2zM331 1299h2v2h-2zM337 1300h2v2h-2zM346 1300h2v2h-2zM327 1306h2v2h-2zM343 1310h2v2h-2zM338 1316h2v2h-2z" fill="#bdbdbd"/>
<path d="M273.5 1173.5H419.5V1320.5H273.5ZM323.5 1173.5V1320.5M273.5 1283.5H419.5" stroke="#262626" stroke-width="1.15" fill="none"/>
<path d="M271.0 1283.5h2.5M309.5 1320.5v2.5M271.0 1247.5h2.5M346.5 1320.5v2.5M271.0 1210.5h2.5M383.5 1320.5v2.5" stroke="#333" stroke-width="1" fill="none"/>
<text transform="translate(269.4 1319.3) rotate(-90)" style="font-family:'Liberation Sans',sans-serif;font-size:6.8px;font-weight:bold" fill="#333">10<tspan dy="-2.6" font-size="4.5px">0</tspan></text>
<text x="273" y="1329.8" style="font-family:'Liberation Sans',sans-serif;font-size:6.8px;font-weight:bold" fill="#333">10<tspan dy="-2.6" font-size="4.5px">0</tspan></text>
<text transform="translate(269.4 1282.7) rotate(-90)" style="font-family:'Liberation Sans',sans-serif;font-size:6.8px;font-weight:bold" fill="#333">10<tspan dy="-2.6" font-size="4.5px">1</tspan></text>
<text x="309.7" y="1329.8" style="font-family:'Liberation Sans',sans-serif;font-size:6.8px;font-weight:bold" fill="#333">10<tspan dy="-2.6" font-size="4.5px">1</tspan></text>
<text transform="translate(269.4 1246) rotate(-90)" style="font-family:'Liberation Sans',sans-serif;font-size:6.8px;font-weight:bold" fill="#333">10<tspan dy="-2.6" font-size="4.5px">2</tspan></text>
<text x="346.4" y="1329.8" style="font-family:'Liberation Sans',sans-serif;font-size:6.8px;font-weight:bold" fill="#333">10<tspan dy="-2.6" font-size="4.5px">2</tspan></text>
<text transform="translate(269.4 1209.3) rotate(-90)" style="font-family:'Liberation Sans',sans-serif;font-size:6.8px;font-weight:bold" fill="#333">10<tspan dy="-2.6" font-size="4.5px">3</tspan></text>
<text x="383.2" y="1329.8" style="font-family:'Liberation Sans',sans-serif;font-size:6.8px;font-weight:bold" fill="#333">10<tspan dy="-2.6" font-size="4.5px">3</tspan></text>
<text transform="translate(269.4 1172.7) rotate(-90)" style="font-family:'Liberation Sans',sans-serif;font-size:6.8px;font-weight:bold" fill="#333">10<tspan dy="-2.6" font-size="4.5px">4</tspan></text>
<text x="419.9" y="1329.8" style="font-family:'Liberation Sans',sans-serif;font-size:6.8px;font-weight:bold" fill="#333">10<tspan dy="-2.6" font-size="4.5px">4</tspan></text>
<text transform="translate(264.2 1247) rotate(-90)" text-anchor="middle" style="font-family:'Liberation Sans',sans-serif;font-size:6.4px;font-weight:bold" fill="#222">CD8 APC</text>
<text x="344.9" y="1336.6" text-anchor="middle" style="font-family:'Liberation Sans',sans-serif;font-size:5.8px;font-weight:bold" fill="#222">IFNg FITC</text>
<text x="367" y="1275.8" style="font-family:'Liberation Serif',serif;stroke:#111;stroke-width:0.3px;font-size:16px" fill="#111">0.14%</text>
<text x="367.7" y="1204.6" style="font-family:'Liberation Serif',serif;stroke:#111;stroke-width:0.3px;font-size:18px" fill="#111">PR</text>
</svg></body></html>
